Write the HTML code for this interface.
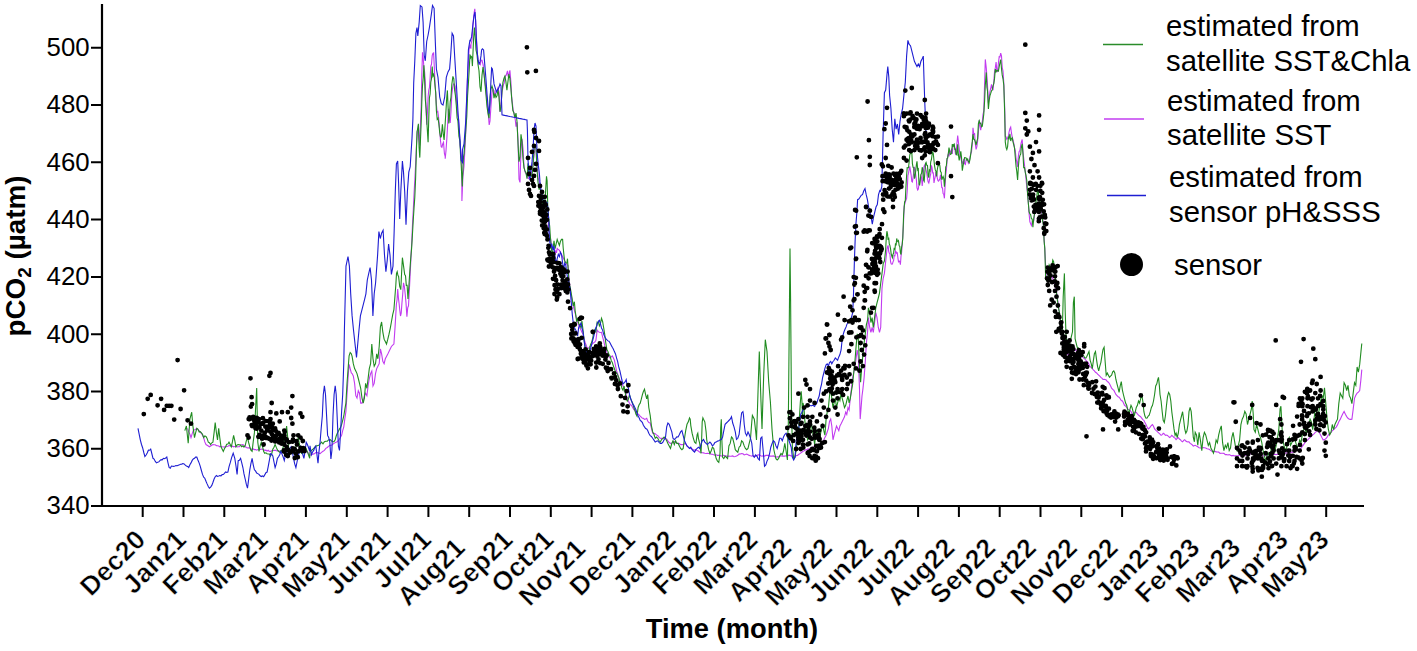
<!DOCTYPE html>
<html><head><meta charset="utf-8"><style>
html,body{margin:0;padding:0;background:#fff;width:1417px;height:651px;overflow:hidden}
svg{display:block}
text{font-family:"Liberation Sans",sans-serif;fill:#000}
.yl{font-size:25.8px}
.xl{font-size:26.5px;font-weight:bold;letter-spacing:0.3px;stroke:#fff;stroke-width:0.45px}
.tt{font-size:27.3px;font-weight:bold}
.yt{font-size:27.8px;font-weight:bold}
.lg{font-size:29.3px}
</style></head><body>
<svg width="1417" height="651" viewBox="0 0 1417 651">
<path d="M102 4 V507 M91 506 H1364" stroke="#000" stroke-width="2.2" fill="none"/>
<text x="89.6" y="514.4" text-anchor="end" class="yl">340</text>
<text x="89.6" y="457.1" text-anchor="end" class="yl">360</text>
<text x="89.6" y="399.8" text-anchor="end" class="yl">380</text>
<text x="89.6" y="342.6" text-anchor="end" class="yl">400</text>
<text x="89.6" y="285.3" text-anchor="end" class="yl">420</text>
<text x="89.6" y="228.0" text-anchor="end" class="yl">440</text>
<text x="89.6" y="170.7" text-anchor="end" class="yl">460</text>
<text x="89.6" y="113.4" text-anchor="end" class="yl">480</text>
<text x="89.6" y="56.2" text-anchor="end" class="yl">500</text>
<path d="M91 506.0 H102 M91 448.7 H102 M91 391.4 H102 M91 334.2 H102 M91 276.9 H102 M91 219.6 H102 M91 162.3 H102 M91 105.0 H102 M91 47.8 H102" stroke="#000" stroke-width="2" fill="none"/>
<text transform="translate(147.2,541) rotate(-45)" text-anchor="end" class="xl">Dec20</text>
<text transform="translate(188.0,541) rotate(-45)" text-anchor="end" class="xl">Jan21</text>
<text transform="translate(228.8,541) rotate(-45)" text-anchor="end" class="xl">Feb21</text>
<text transform="translate(269.6,541) rotate(-45)" text-anchor="end" class="xl">Mar21</text>
<text transform="translate(310.4,541) rotate(-45)" text-anchor="end" class="xl">Apr21</text>
<text transform="translate(351.2,541) rotate(-45)" text-anchor="end" class="xl">May21</text>
<text transform="translate(392.1,541) rotate(-45)" text-anchor="end" class="xl">Jun21</text>
<text transform="translate(432.9,541) rotate(-45)" text-anchor="end" class="xl">Jul21</text>
<text transform="translate(466.7,549) rotate(-45)" text-anchor="end" class="xl">Aug21</text>
<text transform="translate(514.5,541) rotate(-45)" text-anchor="end" class="xl">Sep21</text>
<text transform="translate(555.3,541) rotate(-45)" text-anchor="end" class="xl">Oct21</text>
<text transform="translate(587.1,550) rotate(-45)" text-anchor="end" class="xl">Nov21</text>
<text transform="translate(636.9,541) rotate(-45)" text-anchor="end" class="xl">Dec21</text>
<text transform="translate(677.7,541) rotate(-45)" text-anchor="end" class="xl">Jan22</text>
<text transform="translate(718.5,541) rotate(-45)" text-anchor="end" class="xl">Feb22</text>
<text transform="translate(759.4,541) rotate(-45)" text-anchor="end" class="xl">Mar22</text>
<text transform="translate(793.2,549) rotate(-45)" text-anchor="end" class="xl">Apr22</text>
<text transform="translate(834.0,549) rotate(-45)" text-anchor="end" class="xl">May22</text>
<text transform="translate(874.8,549) rotate(-45)" text-anchor="end" class="xl">Jun22</text>
<text transform="translate(915.6,549) rotate(-45)" text-anchor="end" class="xl">Jul22</text>
<text transform="translate(956.4,549) rotate(-45)" text-anchor="end" class="xl">Aug22</text>
<text transform="translate(997.2,549) rotate(-45)" text-anchor="end" class="xl">Sep22</text>
<text transform="translate(1038.0,549) rotate(-45)" text-anchor="end" class="xl">Oct22</text>
<text transform="translate(1078.8,549) rotate(-45)" text-anchor="end" class="xl">Nov22</text>
<text transform="translate(1119.6,549) rotate(-45)" text-anchor="end" class="xl">Dec22</text>
<text transform="translate(1160.5,549) rotate(-45)" text-anchor="end" class="xl">Jan23</text>
<text transform="translate(1201.3,549) rotate(-45)" text-anchor="end" class="xl">Feb23</text>
<text transform="translate(1242.1,549) rotate(-45)" text-anchor="end" class="xl">Mar23</text>
<text transform="translate(1289.9,541) rotate(-45)" text-anchor="end" class="xl">Apr23</text>
<text transform="translate(1330.7,541) rotate(-45)" text-anchor="end" class="xl">May23</text>
<path d="M142.7 506 V517 M183.5 506 V517 M224.3 506 V517 M265.1 506 V517 M305.9 506 V517 M346.8 506 V517 M387.6 506 V517 M428.4 506 V517 M469.2 506 V517 M510.0 506 V517 M550.8 506 V517 M591.6 506 V517 M632.4 506 V517 M673.2 506 V517 M714.0 506 V517 M754.9 506 V517 M795.7 506 V517 M836.5 506 V517 M877.3 506 V517 M918.1 506 V517 M958.9 506 V517 M999.7 506 V517 M1040.5 506 V517 M1081.3 506 V517 M1122.1 506 V517 M1163.0 506 V517 M1203.8 506 V517 M1244.6 506 V517 M1285.4 506 V517 M1326.2 506 V517" stroke="#000" stroke-width="2" fill="none"/>
<text x="732" y="637.6" text-anchor="middle" class="tt">Time (month)</text>
<text transform="translate(25,256) rotate(-90)" text-anchor="middle" class="yt">pCO<tspan font-size="19" dy="6">2</tspan><tspan dy="-6"> (µatm)</tspan></text>
<path d="M1103 44.5 H1143" stroke="#2a8c2a" stroke-width="1.3"/>
<path d="M1104 119 H1144" stroke="#c23cf0" stroke-width="1.3"/>
<path d="M1107 195.5 H1146" stroke="#1e1ed2" stroke-width="1.3"/>
<circle cx="1131.5" cy="264.5" r="11.5" fill="#000"/>
<text x="1166" y="36.4" class="lg">estimated from</text>
<text x="1166" y="71.3" class="lg">satellite SST&amp;Chla</text>
<text x="1167" y="110.6" class="lg">estimated from</text>
<text x="1167" y="145" class="lg">satellite SST</text>
<text x="1169" y="186.9" class="lg">estimated from</text>
<text x="1169" y="221.5" class="lg">sensor pH&amp;SSS</text>
<text x="1174" y="274.6" class="lg">sensor</text>
<polyline points="187.6,428.3 188.7,431.9 189.9,434.1 191.0,437.6 192.2,433.6 193.3,430.6 194.5,429.8 195.6,429.5 196.8,428.3 197.9,429.6 199.1,430.6 200.2,432.4 201.4,433.2 202.5,435.3 203.7,437.8 204.8,441.9 206.0,444.5 207.1,445.2 208.3,446.0 209.4,446.8 210.6,446.0 211.8,445.2 212.9,444.5 214.1,444.7 215.2,444.8 216.4,445.6 217.5,445.7 218.7,446.1 219.8,446.8 221.0,446.3 222.1,446.7 223.3,447.0 224.4,446.8 225.6,447.0 226.7,446.5 227.9,446.3 229.0,445.6 230.2,445.7 231.3,446.4 232.5,446.1 233.6,446.8 234.8,446.5 235.9,446.5 237.1,446.9 238.2,446.8 239.4,446.8 240.6,445.1 241.7,444.7 242.9,444.5 244.0,445.3 245.2,446.5 246.3,447.5 247.5,447.9 248.6,447.9 249.8,447.9 250.9,449.3 252.1,449.1 253.2,448.9 254.4,449.6 255.5,449.6 256.7,450.2 257.8,449.5 259.0,449.9 260.1,449.4 261.3,449.1 262.4,449.2 263.6,449.5 264.7,450.4 265.9,450.2 267.1,451.0 268.2,450.3 269.4,451.5 270.5,451.4 271.7,450.7 272.8,450.5 274.0,450.5 275.1,450.2 276.3,450.7 277.4,450.9 278.6,450.6 279.7,451.4 280.9,451.7 282.0,451.1 283.2,450.7 284.3,450.2 285.5,451.1 286.6,451.4 287.8,451.2 288.9,451.4 290.1,451.3 291.2,451.5 292.4,451.7 293.5,451.4 294.7,450.5 295.9,451.0 297.0,450.5 298.2,450.2 299.3,450.6 300.5,450.4 301.6,450.5 302.8,451.4 303.9,451.4 305.1,451.1 306.2,451.8 307.4,451.4 308.7,453.8 310.0,455.1 311.5,454.7 312.9,454.1 314.4,453.8 315.8,452.6 317.2,452.6 318.7,453.1 320.1,453.7 321.5,452.4 323.0,451.3 324.4,450.4 325.8,448.4 327.3,447.5 328.7,446.1 330.1,445.4 331.6,445.3 333.0,444.0 334.4,443.1 335.9,442.2 337.3,441.8 338.7,440.2 340.2,437.8 341.6,435.4 342.7,430.6 343.8,426.8 344.8,419.0 345.9,411.7 347.0,394.5 348.1,377.3 349.1,364.4 350.2,368.7 351.3,373.0 352.1,373.6 353.3,376.0 354.6,383.4 355.8,395.7 357.0,398.1 358.3,390.8 359.5,393.2 360.7,403.1 362.0,403.1 363.2,400.6 364.4,395.7 365.6,393.2 366.9,395.7 368.1,385.9 369.3,378.5 370.6,373.6 371.8,371.1 373.0,385.9 374.2,383.4 375.5,373.6 376.7,368.6 377.9,366.2 379.2,363.7 380.4,349.0 381.6,353.9 382.8,361.3 384.1,363.7 385.3,358.8 386.5,356.4 387.8,353.9 389.0,351.4 390.2,349.0 391.4,346.5 392.7,345.1 393.9,344.1 395.1,326.4 396.4,304.0 397.1,299.5 397.7,289.1 398.4,297.7 399.1,303.5 399.8,310.2 400.5,316.0 401.2,313.2 401.9,303.6 402.7,294.3 403.5,282.8 404.4,286.8 405.2,294.0 406.0,302.9 406.9,316.6 407.7,307.9 408.5,305.8 409.4,289.2 410.2,273.6 411.0,256.6 411.8,241.2 412.5,224.4 413.3,209.7 414.1,192.9 414.9,179.0 415.7,162.5 416.5,144.9 417.4,132.3 418.4,125.4 419.1,137.5 419.8,145.5 420.5,122.2 421.2,106.5 421.8,75.3 422.5,52.2 423.2,57.7 423.9,68.1 424.6,71.9 425.3,82.4 426.0,106.1 426.7,124.8 427.4,113.1 428.1,96.9 428.8,89.8 429.4,87.7 430.1,78.3 430.8,66.2 431.5,64.3 432.2,55.6 432.9,53.4 433.6,53.0 434.3,66.9 435.0,82.3 435.7,92.6 436.4,104.6 437.1,112.0 437.8,111.5 438.6,117.6 439.5,127.9 440.5,140.7 441.2,146.7 441.9,147.3 442.7,144.0 443.5,142.3 444.4,153.5 445.2,156.6 445.2,158.7 446.0,150.6 446.9,137.7 447.7,123.5 448.5,108.8 449.4,119.3 450.2,122.9 451.0,111.6 451.8,94.8 452.7,87.4 453.5,83.9 454.3,84.1 455.2,86.5 456.0,94.2 456.8,104.0 457.6,115.4 458.5,117.7 459.3,130.3 460.1,145.3 461.0,152.6 461.8,159.6 461.9,200.9 462.9,176.8 464.0,166.2 464.8,150.9 465.7,133.3 466.5,104.6 467.3,81.4 468.2,67.5 469.0,49.8 470.0,44.7 470.9,48.7 471.0,44.4 472.0,40.0 473.0,24.0 474.0,13.7 474.8,8.9 475.6,20.9 476.4,36.8 477.2,52.2 478.4,61.8 479.6,64.2 480.3,64.7 481.0,60.2 482.0,60.3 483.2,65.1 484.4,77.1 485.6,86.8 486.8,98.6 488.0,110.5 489.2,124.9 490.0,120.9 491.0,105.5 492.0,92.4 493.0,89.2 494.0,90.7 495.0,96.4 496.0,91.8 497.0,90.2 498.0,87.6 499.0,92.4 500.0,111.8 501.0,104.4 502.0,92.2 502.7,88.5 503.5,84.6 504.2,83.1 504.9,77.2 505.6,75.8 506.3,75.0 507.5,70.8 508.2,76.7 508.9,74.5 509.9,70.3 510.9,82.1 511.6,96.4 512.3,102.1 513.1,110.2 513.9,112.7 514.6,116.7 515.3,119.9 516.0,126.7 517.0,122.2 518.0,140.5 519.0,179.1 520.0,182.4 521.0,149.9 522.0,138.8 523.0,148.6 524.0,167.1 525.0,171.7 526.0,173.8 527.0,173.9 528.0,178.1 529.0,178.8 530.0,172.0 531.0,174.5 532.0,170.5 533.0,163.2 534.0,155.8 535.0,144.2 536.0,148.0 537.0,159.9 538.0,177.3 539.0,180.9 540.0,188.0 541.0,192.6 542.0,200.2 542.9,204.4 543.9,206.6 544.9,210.0 545.9,211.7 546.9,213.7 547.9,217.2 548.6,226.3 549.3,232.5 550.0,235.5 550.8,239.8 551.8,253.8 552.9,256.7 553.6,253.6 554.3,258.0 555.1,252.7 555.8,250.9 556.5,252.9 557.2,248.5 557.9,249.2 558.6,249.7 559.4,250.4 560.1,251.6 560.8,252.9 561.5,254.4 562.6,256.9 563.7,258.7 564.7,260.8 565.8,263.0 566.9,264.4 568.0,265.2 569.0,278.1 570.1,288.8 571.2,295.3 572.3,301.7 573.3,306.1 574.4,310.3 575.5,314.4 576.6,318.9 577.6,321.9 578.7,325.4 579.8,327.9 580.9,329.7 581.9,332.2 583.0,334.0 584.1,338.9 585.2,342.6 586.2,345.2 587.3,349.0 588.4,348.4 589.5,346.9 590.5,346.1 591.6,344.7 592.7,343.6 593.8,342.6 594.8,342.0 595.9,340.4 597.2,330.1 598.3,331.6 599.4,332.3 600.4,332.5 601.5,332.3 602.6,336.8 603.7,340.9 604.7,345.4 605.8,349.5 606.9,352.2 608.0,353.8 609.0,356.0 610.1,358.1 611.2,356.9 612.3,355.9 613.3,357.8 614.4,360.2 615.5,365.6 616.6,371.0 617.6,373.7 618.7,377.4 619.8,379.8 620.9,381.7 621.9,383.6 623.0,386.0 624.1,388.4 625.2,390.3 626.2,394.9 627.3,398.9 628.4,400.9 629.5,403.2 630.5,404.8 631.6,405.4 632.7,407.4 633.8,409.7 634.8,410.3 635.9,411.8 637.0,413.5 638.1,414.0 639.1,414.8 640.2,416.1 641.3,417.1 642.4,418.3 643.4,418.3 644.5,419.4 645.6,418.9 646.7,418.3 647.7,421.0 648.8,422.6 650.2,423.0 651.4,428.0 652.7,433.2 654.0,433.4 655.2,433.8 656.5,434.9 657.8,435.7 659.1,437.3 660.3,438.3 661.6,438.4 662.9,438.3 664.1,438.6 665.4,438.3 666.7,439.1 667.9,440.8 669.2,442.5 670.5,443.4 671.8,443.3 673.0,442.1 674.3,441.5 675.6,442.1 676.8,442.9 678.1,443.4 679.4,443.5 680.6,444.6 681.9,444.6 683.2,444.6 684.5,443.8 685.7,443.4 687.0,445.9 688.3,447.2 689.5,448.2 690.8,448.4 692.1,448.9 693.4,449.7 694.6,450.1 695.9,449.7 697.2,450.6 698.4,451.0 699.7,452.2 701.0,452.2 702.2,452.8 703.5,452.9 704.8,453.3 706.1,453.5 707.3,453.2 708.6,453.5 709.9,453.5 711.1,454.1 712.4,454.3 713.7,454.8 714.9,455.1 716.2,454.8 717.5,455.4 718.8,455.4 720.0,455.5 721.3,456.1 722.6,455.3 723.8,455.4 725.1,455.9 726.4,456.1 727.6,456.4 728.9,456.1 730.2,456.2 731.5,456.1 732.7,455.9 734.0,456.7 735.3,456.5 736.5,456.1 737.8,455.2 739.1,454.1 740.4,453.9 741.6,453.5 742.9,453.8 744.2,454.8 745.4,454.5 746.7,454.1 748.0,454.7 749.2,455.4 750.5,455.8 751.8,456.1 753.1,455.6 754.3,456.1 755.6,456.3 756.9,455.4 758.1,454.9 759.4,454.8 760.7,455.7 761.9,456.1 763.2,455.9 764.5,456.1 765.8,455.4 767.0,455.4 768.3,455.3 769.6,456.1 770.8,456.0 772.1,456.1 773.4,455.9 774.7,456.7 775.9,457.0 777.2,456.7 778.5,457.0 779.7,456.1 781.0,455.8 782.3,456.1 783.5,456.1 784.8,456.1 786.1,455.8 787.4,456.1 788.6,455.2 789.9,455.4 791.2,455.9 792.4,456.1 793.7,456.3 795.0,456.1 796.2,455.6 797.5,455.4 798.9,454.3 800.3,453.4 801.7,452.3 803.0,451.3 804.2,450.7 805.3,449.9 806.5,449.9 807.6,449.0 808.8,449.1 810.0,448.5 811.1,447.6 812.3,447.9 813.4,446.9 814.6,446.6 815.7,445.7 816.9,445.6 818.0,445.0 819.2,445.4 820.3,444.2 821.5,444.4 822.6,441.9 823.8,439.8 824.9,437.4 826.1,435.2 827.2,432.0 828.4,428.3 829.5,421.4 830.7,419.1 831.8,426.0 833.0,439.8 834.1,435.2 835.3,430.6 836.5,426.0 837.6,428.3 838.8,430.6 839.9,426.0 841.1,423.7 842.2,421.4 843.4,419.1 844.5,416.8 845.7,412.2 846.8,414.5 848.0,407.6 849.1,409.9 850.3,398.3 851.4,389.1 852.6,377.6 853.7,373.0 854.9,366.6 856.0,359.2 857.2,350.0 858.3,356.9 859.5,389.1 860.2,419.1 861.1,407.6 862.0,396.0 862.9,389.1 864.1,377.6 865.3,361.5 866.4,343.0 867.6,331.5 868.4,317.6 869.7,327.5 870.9,332.4 872.1,327.5 873.3,332.4 874.6,322.5 875.8,312.7 877.0,317.6 878.3,327.5 879.5,332.4 880.7,327.5 882.0,288.1 883.2,278.3 884.4,273.4 885.6,262.1 886.3,256.0 886.9,249.4 887.5,246.9 888.1,245.4 888.7,251.3 889.3,253.3 889.9,254.0 890.6,261.8 891.2,263.8 891.8,264.2 892.4,264.1 893.0,261.9 893.6,260.5 894.2,255.5 894.9,255.7 895.5,251.1 896.1,251.8 896.7,253.3 897.3,252.9 897.9,257.7 898.5,261.8 899.2,261.0 899.8,261.8 900.4,264.7 901.0,256.4 901.6,252.4 902.2,244.3 902.8,235.6 903.5,223.6 904.1,206.5 904.9,203.4 905.7,200.9 906.6,198.5 907.2,191.5 907.9,175.4 908.5,173.4 909.2,168.8 909.8,166.4 910.5,171.1 911.1,174.8 911.8,181.4 912.4,181.9 913.1,177.2 913.7,173.0 914.4,166.9 915.0,168.9 915.7,174.5 916.4,180.1 917.0,188.0 917.7,190.0 918.3,189.0 919.0,183.9 919.6,183.1 920.3,177.8 920.9,175.6 921.6,178.4 922.2,185.9 922.9,179.9 923.5,169.3 924.2,166.0 924.8,165.0 925.5,167.7 926.1,170.5 926.8,173.4 927.5,178.4 928.1,181.8 928.8,183.0 929.4,180.3 930.1,176.4 930.7,173.9 931.4,165.4 932.0,167.6 932.7,172.9 933.3,172.8 934.0,183.0 934.6,179.3 935.3,176.5 935.9,172.3 936.6,172.2 937.2,177.6 937.9,180.4 938.5,181.1 939.2,180.3 939.9,178.4 940.5,174.9 941.2,181.9 941.8,187.6 942.5,187.9 943.1,193.6 943.8,194.3 944.4,198.3 945.1,185.6 945.7,175.2 946.4,169.6 947.0,161.2 947.7,156.1 948.3,153.5 949.0,156.5 949.6,152.0 950.3,152.5 951.0,150.6 951.6,149.5 952.3,153.9 952.9,146.4 953.6,146.3 954.2,144.4 954.9,149.5 955.5,154.1 956.1,153.4 956.9,143.8 957.7,135.6 958.4,141.8 959.2,148.8 960.0,154.6 960.8,157.7 961.5,161.0 962.3,163.4 963.1,161.8 963.8,159.0 964.6,163.7 965.4,164.4 966.1,159.7 966.9,159.7 967.7,160.8 968.4,163.1 969.2,161.3 970.0,157.0 970.7,153.9 971.5,151.8 972.3,143.9 973.0,127.7 973.8,134.4 974.6,133.8 975.3,143.6 976.1,149.3 976.9,146.4 977.6,141.3 978.4,132.7 979.2,120.2 980.0,125.7 980.7,130.1 981.5,125.4 982.3,121.7 983.0,114.7 983.8,110.9 984.6,83.4 985.3,59.4 986.3,68.3 986.9,76.7 987.5,85.4 988.4,103.3 989.2,97.2 989.9,91.9 990.7,88.5 991.5,84.3 992.2,88.2 993.0,90.1 993.8,81.8 994.5,72.0 995.3,67.9 996.1,62.0 996.9,71.5 997.6,71.6 998.4,63.4 999.2,56.8 999.9,57.0 1000.7,53.2 1001.5,56.0 1002.2,67.3 1003.0,71.1 1003.8,83.0 1004.7,107.8 1005.3,136.2 1006.1,137.1 1006.8,139.3 1007.6,138.2 1008.4,136.1 1009.1,131.8 1009.9,128.8 1010.7,127.1 1011.4,132.7 1012.2,136.8 1013.0,139.9 1013.7,143.1 1014.5,147.7 1015.3,150.5 1016.1,159.0 1016.8,161.9 1017.6,166.8 1018.4,156.1 1019.1,151.7 1019.9,150.5 1020.7,145.2 1021.4,141.9 1022.2,139.5 1023.0,152.3 1023.7,158.4 1024.5,165.3 1025.3,171.6 1026.0,178.4 1026.8,187.8 1027.6,193.1 1028.3,201.7 1029.1,213.8 1029.9,221.8 1030.6,223.6 1031.4,225.5 1032.2,222.0 1032.9,222.2 1033.7,221.0 1034.5,215.0 1035.3,211.3 1036.1,209.3 1036.8,204.6 1037.5,204.4 1038.2,206.1 1039.0,204.6 1039.7,205.1 1040.4,205.4 1041.2,208.8 1041.9,215.3 1042.6,218.2 1043.3,224.0 1044.1,238.6 1044.8,249.7 1045.5,263.5 1046.3,276.7 1047.0,280.6 1047.7,280.4 1048.5,278.0 1049.2,274.3 1049.9,277.6 1050.6,278.0 1051.4,275.0 1052.1,276.1 1052.8,278.7 1053.6,281.0 1054.3,282.1 1055.0,285.3 1055.8,289.8 1056.5,290.7 1057.2,298.0 1057.9,301.3 1058.7,308.7 1059.4,312.0 1060.1,318.8 1060.9,325.9 1062.3,337.6 1063.8,346.4 1065.2,349.3 1066.7,352.2 1068.2,355.1 1069.6,352.2 1071.1,346.4 1072.9,351.5 1074.0,350.6 1075.1,349.4 1076.1,350.9 1077.2,351.5 1078.3,352.0 1079.4,353.7 1080.4,355.1 1081.5,355.8 1082.6,357.1 1083.7,358.0 1084.7,358.9 1085.8,360.1 1086.9,361.5 1088.0,362.3 1089.0,364.4 1090.1,366.6 1091.2,367.4 1092.3,368.7 1093.3,369.9 1094.4,370.9 1095.5,372.3 1096.6,373.0 1097.6,374.2 1098.7,375.2 1099.8,376.2 1100.9,377.3 1101.9,378.2 1103.0,379.5 1104.1,379.3 1105.2,379.5 1106.2,380.0 1107.3,381.6 1108.4,382.2 1109.5,383.8 1110.5,385.7 1111.6,388.1 1112.7,389.4 1113.8,390.2 1114.8,392.3 1115.9,394.5 1117.0,395.6 1118.1,396.7 1119.1,397.2 1120.2,398.8 1121.3,400.5 1122.4,401.0 1123.4,402.7 1124.5,405.3 1125.6,406.1 1126.7,407.4 1127.7,409.0 1128.8,409.6 1129.9,410.4 1131.0,411.7 1132.0,413.3 1133.1,413.9 1134.2,413.1 1135.3,411.7 1136.3,412.5 1137.4,413.9 1138.5,415.2 1139.6,416.0 1140.6,416.7 1141.7,418.2 1142.8,419.7 1143.9,420.3 1144.9,422.6 1146.0,424.6 1147.1,427.0 1148.2,428.9 1149.2,428.3 1150.3,426.8 1151.4,425.5 1152.5,424.6 1153.5,426.3 1154.6,428.9 1155.7,430.2 1156.8,431.1 1157.8,432.1 1158.9,433.2 1160.0,434.2 1161.1,435.4 1162.2,434.7 1163.2,433.2 1164.3,434.0 1165.4,435.4 1166.5,435.0 1167.5,435.4 1168.6,436.6 1169.7,437.5 1170.8,436.6 1171.8,435.4 1172.9,436.4 1174.0,437.5 1175.1,438.1 1176.1,439.7 1177.2,438.5 1178.3,437.5 1179.4,439.0 1180.4,439.7 1181.5,441.1 1182.6,441.8 1183.7,440.4 1184.7,439.7 1185.8,441.0 1186.9,441.8 1188.0,441.9 1189.0,441.8 1190.1,443.4 1191.2,444.0 1192.3,444.9 1193.3,446.1 1195.2,445.3 1196.5,446.1 1197.8,446.7 1199.1,447.7 1200.4,448.0 1201.8,448.1 1203.1,447.6 1204.4,447.8 1205.7,448.0 1207.0,448.7 1208.3,449.0 1209.6,449.5 1210.9,450.6 1212.2,451.4 1213.5,451.6 1214.8,451.2 1216.1,451.9 1217.4,452.0 1218.7,452.1 1220.0,453.4 1221.3,453.2 1222.6,453.3 1223.9,453.4 1225.3,454.6 1226.6,454.5 1227.9,455.0 1229.2,454.6 1230.5,455.2 1231.8,455.8 1233.1,455.4 1234.4,455.9 1235.7,455.9 1237.0,455.8 1238.3,455.8 1239.6,455.3 1240.9,456.0 1242.2,455.8 1243.5,455.1 1244.8,455.3 1246.1,455.2 1247.5,454.5 1248.8,454.4 1250.1,454.0 1251.4,453.1 1252.7,453.2 1254.0,453.7 1255.3,453.5 1256.6,454.7 1257.9,454.5 1259.2,455.3 1260.5,454.7 1261.8,455.6 1263.1,455.8 1264.4,456.3 1265.7,455.5 1267.0,455.2 1268.3,455.8 1269.6,455.6 1271.0,455.4 1272.3,455.3 1273.6,454.5 1274.9,454.2 1276.2,454.5 1277.5,454.4 1278.8,454.5 1280.1,453.9 1281.4,453.4 1282.7,454.0 1284.0,453.2 1285.3,453.3 1286.6,452.8 1287.9,453.1 1289.2,453.2 1290.5,452.7 1291.8,452.0 1293.1,452.1 1294.5,451.9 1295.8,450.8 1297.1,450.2 1298.4,450.4 1299.7,449.3 1301.0,448.1 1302.3,446.4 1303.6,444.7 1304.9,442.7 1306.2,441.2 1307.5,440.1 1308.8,438.6 1310.1,437.5 1311.4,436.4 1312.7,434.9 1314.0,433.8 1315.3,432.3 1316.7,431.4 1318.0,429.7 1319.3,432.6 1320.6,434.9 1321.9,437.6 1323.2,440.1 1324.5,439.6 1325.8,438.8 1327.1,437.2 1328.4,434.9 1329.7,433.5 1331.0,432.3 1332.3,430.7 1333.6,429.7 1334.9,428.4 1336.2,427.1 1337.5,424.9 1338.8,421.8 1340.2,419.4 1341.5,416.6 1342.8,413.7 1344.1,411.4 1345.4,414.2 1346.7,416.6 1348.0,418.3 1349.3,419.2 1350.6,419.4 1351.9,419.2 1353.2,409.1 1354.5,398.3 1355.8,395.2 1357.1,393.1 1358.4,392.1 1359.7,390.5 1360.8,380.6 1361.8,369.6" fill="none" stroke="#c23cf0" stroke-width="1.1" stroke-linejoin="miter"/>
<polyline points="184.8,430.6 186.4,426.0 188.2,443.3 189.9,419.1 191.7,412.2 192.9,426.0 194.5,437.6 195.6,432.9 196.8,428.3 197.9,429.1 199.1,431.8 200.2,431.6 201.4,432.9 202.5,434.2 203.7,437.6 204.8,435.9 206.0,436.4 207.1,438.4 208.3,442.2 209.4,442.7 210.6,444.5 211.8,442.8 212.9,442.2 214.1,432.6 215.2,422.6 216.4,432.5 217.5,439.9 218.7,428.3 219.8,437.7 221.0,446.8 222.1,449.0 223.3,451.4 224.4,448.8 225.6,446.8 226.7,444.2 227.9,444.1 229.0,442.2 230.2,444.4 231.3,446.8 232.5,441.4 233.6,435.3 234.8,440.7 235.9,446.8 237.1,444.9 238.2,444.5 239.4,444.8 240.6,445.1 241.7,446.8 242.9,445.8 244.0,447.2 245.2,445.6 246.3,440.8 247.5,437.6 248.6,442.4 249.8,446.8 250.9,450.2 252.1,451.4 253.2,441.9 254.4,432.9 255.5,410.0 256.7,388.0 257.8,442.2 259.0,451.4 260.1,445.8 261.3,442.2 262.4,445.8 263.6,451.4 264.7,453.3 265.9,452.8 267.1,453.7 268.2,454.0 269.4,454.0 270.5,456.0 271.7,453.7 272.8,449.3 274.0,447.3 275.1,444.5 276.3,447.4 277.4,449.9 278.6,451.4 279.7,452.3 280.9,450.8 282.0,451.4 283.2,447.0 284.3,444.5 285.5,434.3 286.6,426.0 287.8,438.2 288.9,451.4 290.1,451.7 291.2,452.1 292.4,453.7 293.5,451.6 294.7,451.4 295.9,446.6 297.0,442.0 298.2,437.6 299.3,443.5 300.5,451.4 301.6,453.4 302.8,453.7 303.9,451.1 305.1,450.3 306.2,449.1 307.4,451.9 308.5,454.9 309.7,458.3 310.0,452.0 311.5,450.4 312.9,449.3 314.4,447.6 315.8,446.1 317.2,445.7 318.7,445.3 320.1,444.0 321.5,442.2 323.0,443.8 324.4,441.8 325.8,441.2 327.3,441.1 328.7,439.7 330.1,439.6 331.6,441.0 333.0,441.8 334.1,441.5 335.2,439.7 336.2,436.0 337.3,433.2 338.4,431.2 339.5,428.9 340.5,427.7 341.6,424.6 342.7,420.4 343.8,416.0 344.8,409.6 345.9,403.1 347.0,383.8 348.1,368.7 349.1,355.8 350.2,352.6 351.3,353.7 352.1,356.4 353.3,363.7 354.6,368.6 355.8,371.1 357.0,373.6 358.3,378.5 359.5,383.4 360.7,388.3 362.0,398.1 363.2,403.1 364.4,398.1 365.6,383.4 366.9,388.3 368.1,378.5 369.3,368.6 370.6,363.7 371.8,344.1 373.0,358.8 374.2,366.2 375.5,363.7 376.7,353.9 377.9,358.8 379.2,346.5 380.4,326.9 381.6,322.0 382.8,331.8 384.1,339.2 385.3,341.6 386.5,344.1 387.8,339.2 389.0,334.2 390.2,328.6 391.4,322.0 392.7,314.6 393.9,309.7 395.8,285.2 396.5,273.4 397.2,271.7 397.9,275.4 398.6,276.5 399.7,286.3 400.8,289.6 401.6,272.8 402.4,257.7 403.5,265.6 404.7,274.5 405.5,275.8 406.3,285.4 407.1,285.4 408.0,299.0 409.1,282.4 409.9,270.0 410.7,258.8 411.6,248.4 412.4,235.2 413.2,221.0 414.0,208.5 414.8,197.2 415.6,178.4 416.3,154.1 417.0,131.5 417.7,129.0 418.4,123.8 419.1,147.4 419.8,157.6 420.5,139.3 421.2,122.3 421.8,102.1 422.5,85.6 423.2,78.2 423.9,65.2 424.6,79.4 425.3,99.3 426.1,108.9 427.0,124.6 428.1,142.3 428.8,117.4 429.4,98.0 430.1,94.0 430.8,82.1 431.5,78.8 432.2,66.6 432.9,76.0 433.6,74.5 434.3,77.4 435.0,85.7 435.7,92.7 436.4,110.7 437.2,119.3 438.0,118.2 438.8,123.4 439.7,132.5 440.5,137.1 441.3,136.8 442.4,124.3 443.3,134.1 444.1,140.0 445.1,124.7 446.0,110.1 446.7,98.3 447.4,90.4 448.1,107.5 448.8,123.4 449.5,114.9 450.2,102.1 451.0,97.1 451.8,84.5 452.9,76.4 453.8,78.9 454.6,89.9 455.4,95.4 456.3,105.5 457.1,118.0 457.9,120.8 458.9,136.1 459.9,141.0 460.6,156.5 461.2,165.2 462.3,186.5 462.4,181.0 463.5,156.9 464.1,153.6 464.8,143.2 465.8,130.0 466.8,115.9 467.6,95.1 468.4,83.3 469.2,69.9 470.0,54.4 470.1,59.1 471.0,56.3 471.8,57.1 472.4,66.1 473.6,38.6 474.4,27.5 475.2,37.0 476.0,50.0 477.0,54.7 478.0,64.5 479.0,70.7 480.0,86.6 481.0,91.8 482.0,75.4 483.0,67.1 484.0,73.8 485.0,84.0 486.0,95.0 487.0,106.8 488.0,113.3 489.0,118.1 490.0,97.0 491.0,88.8 492.0,86.0 493.0,89.4 494.0,98.2 495.0,93.5 496.0,97.4 497.0,95.7 498.0,89.6 499.0,97.1 500.0,111.8 501.0,107.0 502.0,91.5 502.9,82.6 503.9,78.5 504.9,76.1 505.9,81.6 506.9,90.2 507.9,82.0 508.9,74.1 509.9,78.4 510.9,88.6 511.9,101.0 512.9,110.5 513.9,112.8 514.9,117.7 516.0,113.1 517.0,121.5 518.0,143.2 519.0,161.7 520.0,157.0 521.0,134.3 522.0,141.9 523.0,158.5 524.0,167.6 525.0,170.9 526.0,172.9 527.0,178.6 528.0,163.3 529.0,176.9 530.0,169.5 531.0,176.4 532.0,175.6 533.0,166.8 534.0,148.7 535.0,144.2 536.0,148.8 537.0,169.8 538.0,182.3 539.0,189.1 540.0,188.7 541.0,191.3 542.0,198.4 542.9,205.9 543.9,211.2 544.9,202.0 545.9,186.0 546.5,176.2 547.1,180.8 547.9,211.5 548.9,219.7 549.7,226.4 550.3,236.4 551.2,246.1 552.0,254.8 552.9,250.4 554.0,240.7 555.1,248.7 556.1,244.2 557.2,239.4 558.3,242.6 559.4,245.5 560.4,241.5 561.5,239.4 562.6,239.4 563.2,248.0 564.1,256.6 564.7,260.9 565.8,263.0 566.9,263.0 567.5,258.7 568.4,273.8 569.2,284.5 570.1,286.7 571.2,293.1 572.3,299.6 573.3,306.0 574.4,301.7 575.1,310.3 575.7,314.6 576.6,321.1 577.6,318.9 578.7,323.2 579.8,325.4 580.9,327.5 581.9,321.1 583.0,329.7 584.1,340.4 585.2,346.9 586.2,351.2 587.3,349.0 588.4,353.3 589.5,349.0 590.5,344.7 591.6,342.6 592.7,338.3 593.8,331.8 594.8,329.7 595.9,331.8 597.0,323.2 597.2,323.7 598.3,321.5 599.4,325.8 600.4,323.7 601.5,318.3 602.6,321.5 603.7,328.0 604.7,334.4 605.8,343.0 606.9,349.5 608.0,351.6 609.0,354.6 610.1,355.9 611.2,360.4 612.3,362.4 613.3,365.8 614.4,368.8 615.5,371.7 616.6,373.1 617.6,374.9 618.7,377.4 619.8,381.7 620.9,383.9 621.9,388.3 623.0,390.3 624.1,386.0 625.2,392.5 626.2,398.9 627.3,401.1 628.4,399.1 629.5,394.6 630.5,398.2 631.6,401.1 632.7,403.2 633.8,407.5 634.8,410.0 635.9,414.0 637.0,416.1 638.1,407.5 639.1,404.7 640.2,403.2 641.3,399.2 642.4,394.6 643.4,391.5 644.5,389.2 645.6,394.6 646.7,398.9 647.7,394.6 648.8,407.5 650.2,415.4 651.4,425.6 652.7,431.9 654.0,434.5 655.2,438.3 656.5,437.0 657.8,438.3 659.1,440.8 660.3,442.1 661.6,439.5 662.9,438.3 664.1,437.0 665.4,438.3 666.7,440.8 667.9,443.4 669.2,445.9 670.5,448.4 671.8,443.4 673.0,440.8 674.3,444.6 675.6,440.8 676.8,443.4 678.1,443.4 679.4,445.9 680.6,448.4 681.9,449.7 683.2,448.4 684.5,438.3 685.7,430.6 687.0,424.3 688.3,421.8 689.5,417.9 690.2,419.2 690.8,425.6 692.1,433.2 693.4,438.3 694.6,442.1 695.9,443.4 697.2,434.5 697.8,433.2 698.4,438.3 699.7,443.4 701.0,453.5 701.6,440.8 702.2,421.8 702.9,417.9 703.5,419.2 704.8,421.8 706.1,431.9 706.7,439.5 707.3,443.4 708.6,449.7 709.9,453.5 711.1,451.0 712.4,447.2 713.7,448.4 714.9,453.5 716.2,458.6 717.5,461.1 718.8,462.4 720.0,453.5 720.7,428.1 721.3,419.2 721.9,440.8 722.6,457.3 723.8,458.6 725.1,456.1 726.4,457.3 727.6,458.6 728.9,445.9 730.2,443.4 731.5,437.0 732.7,438.3 734.0,443.4 735.3,449.7 736.5,451.0 737.8,452.2 739.1,447.2 740.4,445.9 741.6,440.8 742.9,442.1 744.2,445.9 745.4,448.4 746.7,449.7 748.0,448.4 749.2,443.4 750.5,438.3 751.8,421.8 752.4,415.4 753.1,416.7 754.3,419.2 755.6,430.6 756.5,440.0 757.9,395.6 759.3,351.5 761.0,402.0 762.0,429.0 763.7,375.0 765.3,339.7 767.0,351.5 768.7,382.0 770.4,402.0 772.0,429.0 773.8,449.5 774.7,453.5 775.9,458.6 777.2,459.9 778.5,458.6 779.7,456.1 781.0,453.5 782.3,454.8 783.5,451.0 784.8,443.4 786.1,451.0 787.4,459.9 788.0,428.1 788.3,425.0 789.5,300.0 790.0,248.4 790.6,300.0 791.5,410.0 792.4,447.2 793.7,458.6 795.0,457.3 796.2,449.7 797.5,440.8 798.8,428.1 800.3,402.9 801.2,391.4 801.9,400.6 802.6,416.8 803.0,402.9 804.0,407.6 804.9,421.4 805.8,428.3 806.7,435.2 807.6,439.8 808.8,437.5 810.0,428.3 811.1,421.4 812.3,430.6 813.4,435.2 814.6,444.4 815.7,435.2 816.9,430.6 818.0,437.5 819.2,442.1 820.3,435.2 821.5,428.3 822.6,423.7 823.8,430.6 824.9,435.2 826.1,419.1 827.2,412.2 828.4,407.6 829.5,396.0 830.2,389.1 831.2,393.7 832.1,400.6 833.0,407.6 834.1,402.9 835.3,398.3 836.5,407.6 837.6,402.9 838.8,398.3 839.9,400.6 841.1,393.7 842.2,398.3 843.4,402.9 844.5,407.6 845.7,405.3 846.8,400.6 848.0,396.0 849.1,402.9 850.3,398.3 851.4,391.4 852.6,384.5 853.7,373.0 854.9,361.5 856.0,347.6 857.2,333.8 858.3,338.4 859.5,366.1 860.6,382.2 861.8,366.1 862.9,354.6 864.1,343.0 865.3,333.8 866.4,324.6 867.6,320.0 868.4,307.8 869.7,312.7 870.9,322.5 872.1,317.6 873.3,327.5 874.6,317.6 875.8,307.8 877.0,302.9 878.3,298.0 879.5,293.1 880.7,283.2 882.0,273.4 883.2,263.6 884.4,261.1 885.6,250.4 886.3,237.4 886.9,231.2 887.5,233.9 888.1,239.9 888.7,237.6 889.3,244.0 889.9,245.4 890.6,249.1 891.2,253.8 891.8,256.0 892.4,257.6 893.0,254.3 893.6,253.4 894.2,247.8 894.9,250.2 895.5,243.4 896.1,245.4 896.7,238.5 897.3,241.0 897.9,241.6 898.5,240.7 899.2,245.8 899.8,246.4 900.4,252.9 901.0,254.5 901.6,247.1 902.2,244.3 902.8,238.3 903.6,215.3 904.6,202.0 905.3,200.5 905.9,187.3 906.6,175.5 907.2,167.7 907.9,167.8 908.5,167.7 909.2,161.4 909.8,154.8 910.5,153.2 911.1,153.0 911.8,151.9 912.4,163.6 913.1,167.4 913.7,167.7 914.4,178.6 915.0,176.9 915.7,171.2 916.4,164.5 917.0,161.4 917.7,169.9 918.3,169.1 919.0,183.8 919.6,185.4 920.3,180.0 920.9,174.7 921.6,173.1 922.2,167.2 922.9,170.9 923.5,179.8 924.2,181.2 924.8,172.9 925.5,163.5 926.1,162.4 926.8,165.2 927.5,165.4 928.1,175.4 928.8,177.7 929.4,170.1 930.1,170.9 930.7,161.8 931.4,159.7 932.0,155.2 932.7,152.2 933.3,153.7 934.0,160.6 934.6,166.1 935.3,169.9 935.9,171.0 936.6,176.5 937.2,170.2 937.9,166.1 938.5,165.8 939.2,163.1 939.9,165.9 940.5,171.6 941.2,172.2 941.8,179.7 942.5,177.8 943.1,176.5 943.8,178.6 944.4,186.8 945.1,178.7 945.7,167.1 946.4,165.4 947.0,158.6 947.7,157.9 948.3,153.6 949.0,147.5 949.6,150.9 950.3,154.5 951.0,154.1 951.6,153.1 952.3,144.1 952.9,147.2 953.6,144.6 954.2,144.1 954.9,149.3 955.5,149.2 956.1,154.1 956.9,154.9 957.7,144.3 958.4,154.7 959.2,160.5 960.0,155.9 960.8,151.4 961.5,157.4 962.3,170.7 963.1,165.7 963.8,161.9 964.6,157.6 965.4,157.7 966.1,157.9 966.9,160.0 967.7,158.9 968.4,161.3 969.2,162.8 970.0,159.3 970.7,154.7 971.5,147.4 972.3,141.4 973.0,134.2 973.8,139.3 974.6,139.8 975.3,141.8 976.1,145.1 976.9,141.1 977.6,139.0 978.4,123.7 979.2,120.8 980.0,123.6 980.7,123.3 981.5,126.8 982.3,126.1 983.0,120.7 983.8,113.9 984.6,100.7 985.3,85.0 986.3,72.4 986.9,87.1 987.5,90.9 988.4,109.0 989.2,100.4 989.9,95.8 990.7,93.4 991.5,90.8 992.2,90.0 993.0,85.9 993.8,83.6 994.5,78.9 995.3,69.1 996.1,71.8 996.9,70.3 997.6,70.7 998.4,71.1 999.2,66.6 999.9,63.0 1000.7,59.5 1001.5,68.8 1002.2,74.9 1003.0,78.8 1003.8,85.2 1004.7,113.5 1005.3,142.1 1006.1,147.7 1006.8,149.5 1007.6,146.6 1008.4,137.3 1009.1,138.5 1009.9,133.8 1010.7,141.0 1011.4,138.7 1012.2,137.7 1013.0,141.9 1013.7,144.5 1014.5,147.9 1015.3,157.5 1016.1,166.6 1016.8,171.6 1017.6,180.0 1018.4,166.3 1019.1,159.2 1019.9,155.6 1020.7,154.1 1021.4,146.7 1022.2,143.9 1023.0,153.9 1023.7,167.6 1024.5,167.6 1025.3,172.4 1026.0,175.4 1026.8,180.6 1027.6,194.2 1028.3,203.0 1029.1,211.8 1029.9,214.0 1030.6,214.5 1031.4,218.6 1032.2,219.1 1032.9,227.3 1033.7,218.8 1034.5,213.5 1035.3,207.7 1036.1,200.6 1036.8,196.5 1037.5,189.6 1038.2,191.1 1039.0,199.9 1039.7,197.2 1040.4,204.5 1041.2,205.9 1041.9,208.3 1042.6,221.2 1043.3,223.9 1044.1,241.1 1044.8,248.4 1045.7,279.5 1046.9,280.6 1048.0,275.2 1049.2,264.9 1049.9,266.4 1050.6,273.2 1051.4,267.9 1052.1,264.4 1052.8,260.1 1053.6,261.7 1054.4,270.4 1055.6,279.2 1056.8,296.7 1057.9,303.3 1058.7,309.1 1059.4,312.4 1060.1,318.8 1060.9,323.0 1062.3,331.8 1063.2,296.7 1064.4,273.4 1065.2,311.3 1066.1,337.6 1067.3,343.4 1068.4,349.3 1069.6,343.4 1071.1,337.6 1072.5,331.8 1073.4,302.6 1074.3,296.7 1075.1,338.6 1076.1,342.9 1077.2,347.2 1078.3,348.0 1079.4,349.4 1080.4,352.5 1081.5,353.7 1082.6,355.2 1083.7,355.8 1084.7,357.7 1085.8,358.0 1086.9,356.3 1088.0,353.7 1089.0,351.5 1090.1,360.1 1091.2,363.7 1092.3,368.7 1093.3,361.1 1094.4,353.7 1095.5,351.5 1096.6,360.1 1097.6,366.6 1098.7,370.9 1099.8,366.1 1100.9,362.3 1101.9,355.8 1103.0,349.4 1104.1,347.2 1105.2,362.3 1106.2,375.2 1107.3,373.0 1108.4,375.2 1109.5,377.3 1110.5,376.1 1111.6,375.2 1112.7,371.9 1113.8,370.9 1114.8,373.0 1115.9,379.5 1117.0,383.8 1118.1,388.1 1119.1,392.4 1120.2,385.9 1121.3,381.6 1122.4,390.2 1123.4,394.5 1124.5,398.8 1125.6,403.1 1126.7,405.3 1127.7,409.6 1128.8,413.9 1129.9,409.6 1131.0,405.3 1132.0,407.4 1133.1,411.7 1134.2,416.0 1135.3,411.7 1136.3,407.4 1137.4,405.3 1138.5,401.0 1139.6,403.1 1140.6,398.8 1141.7,394.5 1142.8,401.0 1143.9,411.7 1144.9,416.0 1146.0,418.2 1147.1,418.0 1148.2,416.0 1149.2,415.1 1150.3,411.7 1151.4,407.4 1152.5,405.3 1153.5,401.0 1154.6,394.5 1155.7,385.9 1156.8,383.8 1157.8,379.5 1158.5,377.3 1159.4,385.9 1160.0,394.5 1161.1,401.0 1162.2,411.7 1163.2,420.3 1164.3,422.5 1165.4,416.0 1166.5,405.3 1167.5,396.7 1168.6,392.4 1169.7,394.5 1170.8,401.0 1171.8,411.7 1172.9,420.3 1174.0,428.9 1175.1,435.4 1176.1,433.2 1177.2,437.5 1178.3,433.2 1179.4,424.6 1180.4,420.3 1181.5,416.0 1182.6,411.7 1183.7,420.3 1184.7,428.9 1185.8,433.2 1186.9,431.1 1188.0,424.6 1189.0,411.7 1190.1,407.4 1191.2,411.7 1192.3,424.6 1193.3,437.5 1194.4,441.8 1195.2,432.3 1196.5,434.9 1197.8,445.3 1199.1,432.3 1200.4,440.1 1201.8,450.6 1203.1,437.5 1204.4,432.3 1205.7,434.9 1207.0,440.1 1208.3,445.3 1209.6,442.7 1210.9,448.0 1212.2,450.6 1213.5,453.2 1214.8,448.0 1216.1,440.1 1217.4,442.7 1218.7,434.9 1220.0,429.7 1221.3,425.8 1222.6,442.7 1223.9,450.6 1225.3,445.3 1226.6,448.0 1227.9,442.7 1229.2,450.6 1230.5,448.0 1231.8,437.5 1233.1,432.3 1234.4,440.1 1235.7,448.0 1237.0,450.6 1238.3,445.3 1239.6,440.1 1240.9,424.5 1242.2,419.2 1243.5,416.6 1244.8,411.4 1246.1,414.0 1247.5,424.5 1248.8,419.2 1250.1,414.0 1251.4,408.8 1252.2,401.0 1253.2,414.0 1254.0,429.7 1255.3,432.3 1256.6,424.5 1257.9,429.7 1259.2,434.9 1260.5,437.5 1261.8,442.7 1263.1,450.6 1264.4,455.8 1265.7,461.0 1267.0,455.8 1268.3,453.2 1269.6,458.4 1271.0,450.6 1272.3,440.1 1273.6,442.7 1274.9,450.6 1276.2,445.3 1277.5,437.5 1278.8,429.7 1280.1,408.8 1280.9,406.2 1281.9,424.5 1282.7,440.1 1284.0,445.3 1285.3,450.6 1286.6,448.0 1287.9,440.1 1289.2,437.5 1290.5,445.3 1291.8,442.7 1293.1,440.1 1294.5,434.9 1295.8,442.7 1297.1,448.0 1298.4,445.3 1299.7,440.1 1301.0,442.7 1302.3,434.9 1303.6,429.7 1304.9,427.1 1306.2,432.3 1307.5,429.7 1308.8,424.5 1310.1,419.2 1311.4,421.8 1312.7,429.7 1314.0,419.2 1315.3,408.8 1316.7,411.4 1318.0,416.6 1319.3,408.8 1320.6,401.0 1321.9,395.7 1323.2,398.3 1324.5,387.9 1325.8,403.6 1327.1,419.2 1328.4,429.7 1329.7,434.9 1331.0,432.3 1332.3,424.5 1333.6,429.7 1334.9,424.5 1336.2,421.8 1337.5,419.2 1338.8,403.6 1340.2,393.1 1341.5,395.7 1342.8,398.3 1344.1,382.7 1345.4,385.3 1346.7,390.5 1348.0,385.3 1349.3,395.7 1350.6,398.3 1351.9,403.6 1353.2,393.1 1354.5,382.7 1355.8,385.3 1357.1,367.0 1358.4,372.2 1359.7,364.4 1361.0,351.3 1361.8,343.5" fill="none" stroke="#218c21" stroke-width="1.1" stroke-linejoin="miter"/>
<polyline points="138.0,428.3 139.2,434.3 140.3,439.8 141.5,444.5 142.6,447.7 143.8,452.5 144.9,456.5 146.1,455.0 147.2,452.9 148.4,450.2 149.5,450.3 150.7,449.1 151.8,453.5 153.0,458.3 154.1,459.1 155.3,461.4 156.5,462.9 157.6,462.3 158.8,461.9 159.9,460.6 161.1,459.6 162.2,459.9 163.4,458.3 164.5,458.7 165.7,458.0 166.8,457.1 168.0,462.8 169.1,467.5 170.3,468.2 171.4,466.1 172.6,466.3 173.7,466.4 174.9,466.0 176.0,465.6 177.2,465.8 178.3,465.2 179.5,464.7 180.6,464.2 181.8,464.1 182.9,463.5 184.1,463.9 185.3,465.2 186.4,466.0 187.6,466.4 188.7,467.5 189.9,464.7 191.0,462.9 192.2,460.4 193.3,459.0 194.5,458.3 195.6,457.1 196.8,457.1 197.9,460.0 199.1,462.9 200.2,466.2 201.4,470.5 202.5,474.4 203.7,477.2 204.8,478.2 206.0,481.3 207.1,483.9 208.3,486.5 209.4,488.2 210.6,487.1 211.8,485.4 212.9,482.5 214.1,479.0 215.2,476.7 216.4,475.5 217.5,476.4 218.7,476.0 219.8,475.6 221.0,475.8 222.1,474.6 223.3,474.5 224.4,473.3 225.6,471.9 226.7,472.4 227.9,472.1 229.0,466.9 230.2,462.9 231.7,457.4 233.2,453.2 234.8,458.3 235.9,465.5 237.1,474.4 238.2,460.6 239.4,460.3 240.6,458.3 241.7,462.7 242.9,467.5 244.0,473.9 245.2,479.0 246.3,484.2 247.5,488.2 248.6,479.6 249.8,469.8 250.9,463.7 252.1,458.3 253.2,464.6 254.4,469.8 255.5,470.9 256.7,473.0 257.8,473.6 259.0,474.4 260.1,475.8 261.3,476.5 262.4,475.9 263.6,476.7 264.7,474.9 265.9,472.7 267.1,472.1 268.2,466.6 269.4,460.1 270.5,453.7 271.7,454.2 272.8,456.0 274.0,462.0 275.1,467.5 276.3,463.8 277.4,458.3 278.6,456.8 279.7,454.7 280.9,451.4 282.0,454.1 283.2,457.0 284.3,460.6 285.5,455.0 286.6,451.4 287.8,449.5 288.9,448.6 290.1,448.2 291.2,446.8 292.4,451.5 293.5,458.3 294.7,463.8 295.9,467.5 297.0,462.0 298.2,456.0 299.3,452.1 300.5,446.8 301.6,450.2 302.8,454.5 303.9,458.3 305.1,451.1 306.2,442.2 307.4,444.5 308.5,447.5 309.7,451.4 310.0,445.9 311.5,454.7 312.6,451.9 313.7,450.4 314.7,447.7 315.8,446.1 316.9,454.1 318.0,463.3 319.0,451.6 320.1,441.8 321.2,428.2 322.3,416.0 323.3,394.5 324.4,385.9 325.5,394.5 326.6,416.0 327.6,435.4 328.7,437.5 329.8,441.8 330.9,459.0 331.9,450.4 333.0,416.0 334.1,394.5 335.2,385.9 336.2,394.5 337.3,420.3 338.4,446.1 339.5,450.4 340.5,433.2 341.6,411.7 342.7,394.5 343.8,362.3 344.4,330.0 346.0,266.1 348.0,256.5 349.4,266.1 350.7,293.8 352.1,315.9 353.5,330.0 355.0,343.6 356.5,357.4 357.8,343.3 359.0,330.0 360.4,315.9 361.8,310.3 363.2,304.8 364.6,299.3 365.9,293.8 367.3,280.0 368.7,273.7 370.1,267.5 371.5,280.0 372.9,315.9 374.2,293.8 375.6,282.7 377.6,255.1 378.9,231.6 380.3,238.5 381.7,232.9 383.1,230.2 384.5,255.1 385.9,271.7 387.2,260.6 388.6,244.0 390.0,255.1 391.4,274.4 393.0,266.1 394.1,232.9 395.3,191.5 396.4,163.8 397.7,161.1 398.6,183.2 399.7,219.1 400.8,191.5 402.4,161.1 403.5,172.1 404.7,191.5 406.0,224.7 407.4,191.5 408.8,172.1 410.2,166.6 412.0,138.2 412.9,118.9 413.7,82.9 414.8,60.8 415.9,33.2 417.0,27.6 417.8,35.9 419.2,22.1 420.3,5.5 422.0,6.9 423.1,22.1 424.2,55.3 425.3,60.8 426.7,41.5 428.1,35.0 429.4,27.6 431.4,13.8 432.5,5.5 434.1,8.3 435.3,41.5 436.4,69.1 438.0,77.4 439.7,96.8 441.3,103.7 443.0,105.1 444.7,96.8 446.3,77.4 448.0,71.9 449.6,69.1 450.7,55.3 452.1,33.2 453.5,35.9 454.6,55.3 456.3,82.9 457.9,110.6 459.9,138.2 461.2,160.4 462.6,162.6 462.6,149.3 464.0,143.8 465.7,121.7 467.3,82.9 468.4,49.8 470.0,39.9 470.1,41.5 471.6,36.9 473.0,24.0 474.0,16.0 475.0,12.0 475.6,20.0 476.4,39.9 477.2,51.9 478.0,59.9 479.0,63.9 480.0,61.9 481.0,55.9 481.6,49.9 482.4,48.9 483.6,49.9 484.4,59.9 485.2,69.9 486.0,79.9 487.0,93.9 488.0,105.8 489.0,113.8 490.0,103.8 490.8,83.9 491.6,67.9 492.4,68.9 493.2,75.9 494.0,83.9 495.2,87.9 496.4,91.9 497.6,89.9 498.8,87.9 500.0,83.9 501.0,85.9 502.0,114.8 503.3,115.1 504.6,115.4 505.9,115.6 507.2,115.9 508.5,116.2 509.9,116.5 511.2,116.7 512.5,117.0 513.8,117.3 515.1,117.5 516.4,117.8 517.8,118.1 519.1,118.4 520.4,118.6 521.7,118.9 523.0,119.2 524.3,119.4 525.7,119.7 527.0,120.0 527.4,130.0 528.0,159.9 529.0,173.9 530.0,179.9 531.0,169.9 532.0,161.9 533.0,149.9 534.0,130.0 535.0,123.0 536.0,126.0 536.6,140.0 537.0,149.9 537.6,157.9 538.4,165.9 539.4,173.9 540.0,181.9 541.0,189.9 542.0,193.9 542.9,197.9 543.9,203.9 544.9,203.9 545.9,205.9 546.9,201.9 547.9,207.8 548.9,221.8 549.0,232.9 549.7,241.5 550.8,248.0 551.8,243.7 552.9,250.1 554.0,245.8 555.1,258.7 556.1,263.0 557.2,258.7 558.3,254.4 559.4,256.6 560.4,252.3 561.5,254.4 562.6,263.0 563.7,269.5 564.7,263.0 565.8,265.2 566.9,273.8 568.0,280.2 569.0,284.5 570.1,288.8 571.2,301.7 572.3,314.6 573.3,323.2 574.4,327.5 575.5,329.7 576.6,331.8 577.6,336.1 578.7,327.5 579.8,325.4 580.9,323.2 581.9,327.5 583.0,331.8 584.1,340.4 585.2,349.0 586.2,351.2 587.3,353.3 588.4,357.6 589.5,353.3 590.5,349.0 591.6,344.7 592.7,340.4 593.8,336.1 594.8,331.8 595.9,327.5 597.0,325.4 597.2,323.7 598.3,321.5 599.4,320.4 600.4,323.7 601.5,328.0 602.6,330.1 603.7,334.4 604.7,336.6 605.8,338.7 606.9,339.8 608.0,340.9 609.0,341.3 610.1,343.0 611.2,345.2 612.3,347.3 613.3,349.1 614.4,351.6 615.5,353.9 616.6,358.1 617.6,361.4 618.7,366.7 619.8,370.5 620.9,375.3 621.9,380.0 623.0,383.9 624.1,382.8 625.2,381.7 626.2,379.6 627.3,386.0 628.4,388.2 629.5,394.6 630.5,398.3 631.6,401.1 632.7,404.1 633.8,405.4 634.8,407.5 635.9,409.7 637.0,413.1 638.1,416.1 639.1,417.7 640.2,420.4 641.3,421.2 642.4,422.6 643.4,425.2 644.5,426.9 645.6,428.5 646.7,429.0 647.7,430.5 648.8,433.3 650.2,435.7 651.4,436.4 652.7,438.3 654.0,440.1 655.2,442.1 656.5,441.3 657.8,440.8 659.1,442.3 660.3,443.4 661.6,443.4 662.9,442.1 664.1,439.7 665.4,438.3 666.7,426.8 667.9,423.0 669.2,424.3 670.5,428.1 671.8,431.9 673.0,438.3 674.3,439.5 675.6,438.3 676.8,436.8 678.1,437.0 679.4,434.5 680.6,431.9 681.9,430.6 683.2,435.7 684.5,440.8 685.7,443.4 687.0,445.9 688.3,447.2 689.5,448.4 690.8,447.2 692.1,449.7 693.4,451.0 694.6,452.2 695.9,449.7 697.2,448.4 698.4,447.2 699.7,448.4 701.0,444.6 702.2,440.8 703.5,439.5 704.8,442.1 706.1,443.4 707.3,444.6 708.6,443.4 709.9,442.1 711.1,443.4 712.4,445.9 713.7,444.6 714.9,442.5 716.2,442.1 717.5,441.1 718.8,440.8 720.0,439.9 721.3,439.5 722.6,437.0 723.8,430.6 725.1,424.3 726.4,423.0 727.6,421.8 728.9,420.5 730.2,419.2 731.5,416.7 732.7,423.0 734.0,426.8 735.3,431.9 736.5,439.5 737.8,438.3 739.1,434.5 740.4,423.0 741.6,412.9 742.9,411.6 743.5,415.4 744.2,424.3 745.4,433.2 746.7,435.7 748.0,431.9 749.2,434.5 750.5,438.3 751.8,443.4 753.1,456.1 754.3,457.3 755.6,454.8 756.9,456.1 758.1,458.6 759.4,459.9 760.7,438.3 761.9,437.0 763.2,451.0 764.5,466.2 765.8,464.9 767.0,461.1 768.3,458.6 769.6,453.5 770.8,447.2 772.1,443.4 773.4,440.8 774.7,442.1 775.9,445.9 777.2,448.4 778.5,443.4 779.7,438.3 781.0,438.3 782.3,440.8 783.5,437.0 784.8,434.5 786.1,433.2 787.4,435.7 788.6,439.5 789.9,443.4 791.2,447.2 792.4,457.3 793.7,459.9 795.0,457.3 796.2,440.8 797.5,433.2 798.8,428.1 799.8,420.5 800.7,414.5 801.9,412.2 803.0,409.9 804.2,408.7 805.3,407.6 806.5,406.4 807.6,405.3 808.8,406.4 810.0,405.3 811.1,405.9 812.3,405.3 813.4,405.6 814.6,406.4 815.7,404.2 816.9,402.9 818.0,399.1 819.2,396.0 820.3,389.1 821.5,384.5 822.6,377.6 823.8,373.0 824.9,368.4 826.1,364.9 827.2,363.8 828.4,366.1 829.5,362.6 830.7,361.5 831.8,363.8 833.0,361.5 834.1,360.3 835.3,358.0 836.5,359.2 837.6,360.3 838.8,356.9 839.9,354.6 841.1,350.0 841.8,343.0 842.7,336.1 844.1,331.5 845.0,329.2 846.1,326.9 846.8,324.6 848.0,322.3 849.1,321.5 850.3,319.4 851.4,317.6 852.7,312.7 853.4,298.0 853.9,278.3 854.4,261.1 855.1,241.4 855.9,224.2 856.9,212.0 857.6,199.7 858.8,199.1 860.0,197.2 861.3,195.2 862.5,194.7 863.7,191.0 865.0,188.6 866.2,194.7 867.4,199.7 868.6,207.0 869.9,211.8 871.1,216.9 872.3,224.2 873.6,216.9 874.8,212.0 876.0,207.0 877.3,204.6 878.5,194.7 880.0,189.8 880.4,191.9 881.8,186.7 883.1,134.5 884.4,92.7 885.7,90.1 887.0,74.4 887.8,66.6 888.8,77.0 889.6,95.3 890.9,108.3 892.2,129.2 893.5,142.3 894.8,118.8 896.1,129.2 897.4,124.0 898.7,134.5 900.0,121.4 901.3,113.6 902.6,108.3 903.9,95.3 905.3,82.2 906.6,56.1 907.9,40.4 909.2,44.4 910.5,45.7 911.8,50.9 913.1,56.1 914.4,61.3 915.7,63.9 917.0,66.6 918.3,63.9 919.6,66.6 920.9,61.3 922.2,58.7 923.3,56.1 924.1,82.2 924.8,103.1 925.6,121.4 926.4,139.7" fill="none" stroke="#1e1ed2" stroke-width="1.1" stroke-linejoin="miter"/>
<path d="M141.4 414.1a2.4 2.4 0 1 0 4.8 0a2.4 2.4 0 1 0 -4.8 0M145.3 398.8a2.4 2.4 0 1 0 4.8 0a2.4 2.4 0 1 0 -4.8 0M148.3 394.9a2.4 2.4 0 1 0 4.8 0a2.4 2.4 0 1 0 -4.8 0M155.2 405.3a2.4 2.4 0 1 0 4.8 0a2.4 2.4 0 1 0 -4.8 0M158.7 398.8a2.4 2.4 0 1 0 4.8 0a2.4 2.4 0 1 0 -4.8 0M161.7 409.9a2.4 2.4 0 1 0 4.8 0a2.4 2.4 0 1 0 -4.8 0M164.4 405.8a2.4 2.4 0 1 0 4.8 0a2.4 2.4 0 1 0 -4.8 0M166.7 405.8a2.4 2.4 0 1 0 4.8 0a2.4 2.4 0 1 0 -4.8 0M169.0 405.8a2.4 2.4 0 1 0 4.8 0a2.4 2.4 0 1 0 -4.8 0M171.8 419.6a2.4 2.4 0 1 0 4.8 0a2.4 2.4 0 1 0 -4.8 0M175.2 360.1a2.4 2.4 0 1 0 4.8 0a2.4 2.4 0 1 0 -4.8 0M178.2 409.0a2.4 2.4 0 1 0 4.8 0a2.4 2.4 0 1 0 -4.8 0M181.7 390.3a2.4 2.4 0 1 0 4.8 0a2.4 2.4 0 1 0 -4.8 0M185.2 420.3a2.4 2.4 0 1 0 4.8 0a2.4 2.4 0 1 0 -4.8 0M188.6 423.7a2.4 2.4 0 1 0 4.8 0a2.4 2.4 0 1 0 -4.8 0M248.1 378.3a2.4 2.4 0 1 0 4.8 0a2.4 2.4 0 1 0 -4.8 0M268.1 373.0a2.4 2.4 0 1 0 4.8 0a2.4 2.4 0 1 0 -4.8 0M267.0 375.8a2.4 2.4 0 1 0 4.8 0a2.4 2.4 0 1 0 -4.8 0M249.2 397.2a2.4 2.4 0 1 0 4.8 0a2.4 2.4 0 1 0 -4.8 0M248.5 406.5a2.4 2.4 0 1 0 4.8 0a2.4 2.4 0 1 0 -4.8 0M249.7 404.1a2.4 2.4 0 1 0 4.8 0a2.4 2.4 0 1 0 -4.8 0M247.4 419.1a2.4 2.4 0 1 0 4.8 0a2.4 2.4 0 1 0 -4.8 0M250.8 416.8a2.4 2.4 0 1 0 4.8 0a2.4 2.4 0 1 0 -4.8 0M254.3 418.0a2.4 2.4 0 1 0 4.8 0a2.4 2.4 0 1 0 -4.8 0M256.6 419.1a2.4 2.4 0 1 0 4.8 0a2.4 2.4 0 1 0 -4.8 0M249.7 426.0a2.4 2.4 0 1 0 4.8 0a2.4 2.4 0 1 0 -4.8 0M253.1 428.3a2.4 2.4 0 1 0 4.8 0a2.4 2.4 0 1 0 -4.8 0M258.9 423.7a2.4 2.4 0 1 0 4.8 0a2.4 2.4 0 1 0 -4.8 0M258.9 430.6a2.4 2.4 0 1 0 4.8 0a2.4 2.4 0 1 0 -4.8 0M262.3 432.9a2.4 2.4 0 1 0 4.8 0a2.4 2.4 0 1 0 -4.8 0M263.5 437.6a2.4 2.4 0 1 0 4.8 0a2.4 2.4 0 1 0 -4.8 0M260.0 437.6a2.4 2.4 0 1 0 4.8 0a2.4 2.4 0 1 0 -4.8 0M245.1 435.3a2.4 2.4 0 1 0 4.8 0a2.4 2.4 0 1 0 -4.8 0M246.2 437.6a2.4 2.4 0 1 0 4.8 0a2.4 2.4 0 1 0 -4.8 0M269.3 403.0a2.4 2.4 0 1 0 4.8 0a2.4 2.4 0 1 0 -4.8 0M268.1 412.2a2.4 2.4 0 1 0 4.8 0a2.4 2.4 0 1 0 -4.8 0M273.9 413.4a2.4 2.4 0 1 0 4.8 0a2.4 2.4 0 1 0 -4.8 0M279.6 412.2a2.4 2.4 0 1 0 4.8 0a2.4 2.4 0 1 0 -4.8 0M285.4 412.2a2.4 2.4 0 1 0 4.8 0a2.4 2.4 0 1 0 -4.8 0M288.8 407.6a2.4 2.4 0 1 0 4.8 0a2.4 2.4 0 1 0 -4.8 0M290.0 396.1a2.4 2.4 0 1 0 4.8 0a2.4 2.4 0 1 0 -4.8 0M298.1 413.4a2.4 2.4 0 1 0 4.8 0a2.4 2.4 0 1 0 -4.8 0M299.9 416.8a2.4 2.4 0 1 0 4.8 0a2.4 2.4 0 1 0 -4.8 0M268.1 419.1a2.4 2.4 0 1 0 4.8 0a2.4 2.4 0 1 0 -4.8 0M270.4 423.7a2.4 2.4 0 1 0 4.8 0a2.4 2.4 0 1 0 -4.8 0M277.3 421.4a2.4 2.4 0 1 0 4.8 0a2.4 2.4 0 1 0 -4.8 0M272.7 428.3a2.4 2.4 0 1 0 4.8 0a2.4 2.4 0 1 0 -4.8 0M276.2 432.9a2.4 2.4 0 1 0 4.8 0a2.4 2.4 0 1 0 -4.8 0M281.9 430.6a2.4 2.4 0 1 0 4.8 0a2.4 2.4 0 1 0 -4.8 0M279.6 437.6a2.4 2.4 0 1 0 4.8 0a2.4 2.4 0 1 0 -4.8 0M272.7 437.6a2.4 2.4 0 1 0 4.8 0a2.4 2.4 0 1 0 -4.8 0M283.1 438.7a2.4 2.4 0 1 0 4.8 0a2.4 2.4 0 1 0 -4.8 0M286.5 442.2a2.4 2.4 0 1 0 4.8 0a2.4 2.4 0 1 0 -4.8 0M290.0 423.7a2.4 2.4 0 1 0 4.8 0a2.4 2.4 0 1 0 -4.8 0M288.8 418.0a2.4 2.4 0 1 0 4.8 0a2.4 2.4 0 1 0 -4.8 0M291.1 435.3a2.4 2.4 0 1 0 4.8 0a2.4 2.4 0 1 0 -4.8 0M295.8 435.3a2.4 2.4 0 1 0 4.8 0a2.4 2.4 0 1 0 -4.8 0M298.1 437.6a2.4 2.4 0 1 0 4.8 0a2.4 2.4 0 1 0 -4.8 0M300.4 441.0a2.4 2.4 0 1 0 4.8 0a2.4 2.4 0 1 0 -4.8 0M294.6 444.5a2.4 2.4 0 1 0 4.8 0a2.4 2.4 0 1 0 -4.8 0M292.3 449.1a2.4 2.4 0 1 0 4.8 0a2.4 2.4 0 1 0 -4.8 0M288.8 451.4a2.4 2.4 0 1 0 4.8 0a2.4 2.4 0 1 0 -4.8 0M284.2 446.8a2.4 2.4 0 1 0 4.8 0a2.4 2.4 0 1 0 -4.8 0M281.9 444.5a2.4 2.4 0 1 0 4.8 0a2.4 2.4 0 1 0 -4.8 0M285.4 456.0a2.4 2.4 0 1 0 4.8 0a2.4 2.4 0 1 0 -4.8 0M287.7 452.5a2.4 2.4 0 1 0 4.8 0a2.4 2.4 0 1 0 -4.8 0M293.5 453.7a2.4 2.4 0 1 0 4.8 0a2.4 2.4 0 1 0 -4.8 0M295.8 451.4a2.4 2.4 0 1 0 4.8 0a2.4 2.4 0 1 0 -4.8 0M298.1 447.9a2.4 2.4 0 1 0 4.8 0a2.4 2.4 0 1 0 -4.8 0M261.2 444.5a2.4 2.4 0 1 0 4.8 0a2.4 2.4 0 1 0 -4.8 0M524.5 47.3a2.4 2.4 0 1 0 4.8 0a2.4 2.4 0 1 0 -4.8 0M524.9 72.3a2.4 2.4 0 1 0 4.8 0a2.4 2.4 0 1 0 -4.8 0M533.5 70.9a2.4 2.4 0 1 0 4.8 0a2.4 2.4 0 1 0 -4.8 0M531.6 130.0a2.4 2.4 0 1 0 4.8 0a2.4 2.4 0 1 0 -4.8 0M532.0 132.0a2.4 2.4 0 1 0 4.8 0a2.4 2.4 0 1 0 -4.8 0M533.6 138.0a2.4 2.4 0 1 0 4.8 0a2.4 2.4 0 1 0 -4.8 0M536.6 141.0a2.4 2.4 0 1 0 4.8 0a2.4 2.4 0 1 0 -4.8 0M531.6 145.9a2.4 2.4 0 1 0 4.8 0a2.4 2.4 0 1 0 -4.8 0M529.6 151.9a2.4 2.4 0 1 0 4.8 0a2.4 2.4 0 1 0 -4.8 0M536.6 150.9a2.4 2.4 0 1 0 4.8 0a2.4 2.4 0 1 0 -4.8 0M525.6 157.9a2.4 2.4 0 1 0 4.8 0a2.4 2.4 0 1 0 -4.8 0M533.6 163.9a2.4 2.4 0 1 0 4.8 0a2.4 2.4 0 1 0 -4.8 0M527.6 167.9a2.4 2.4 0 1 0 4.8 0a2.4 2.4 0 1 0 -4.8 0M532.6 169.9a2.4 2.4 0 1 0 4.8 0a2.4 2.4 0 1 0 -4.8 0M526.6 173.9a2.4 2.4 0 1 0 4.8 0a2.4 2.4 0 1 0 -4.8 0M531.6 175.9a2.4 2.4 0 1 0 4.8 0a2.4 2.4 0 1 0 -4.8 0M529.6 179.9a2.4 2.4 0 1 0 4.8 0a2.4 2.4 0 1 0 -4.8 0M525.6 183.9a2.4 2.4 0 1 0 4.8 0a2.4 2.4 0 1 0 -4.8 0M530.6 183.9a2.4 2.4 0 1 0 4.8 0a2.4 2.4 0 1 0 -4.8 0M531.6 185.9a2.4 2.4 0 1 0 4.8 0a2.4 2.4 0 1 0 -4.8 0M526.6 189.9a2.4 2.4 0 1 0 4.8 0a2.4 2.4 0 1 0 -4.8 0M527.6 193.9a2.4 2.4 0 1 0 4.8 0a2.4 2.4 0 1 0 -4.8 0M528.6 195.9a2.4 2.4 0 1 0 4.8 0a2.4 2.4 0 1 0 -4.8 0M537.6 185.9a2.4 2.4 0 1 0 4.8 0a2.4 2.4 0 1 0 -4.8 0M539.6 191.9a2.4 2.4 0 1 0 4.8 0a2.4 2.4 0 1 0 -4.8 0M536.6 195.9a2.4 2.4 0 1 0 4.8 0a2.4 2.4 0 1 0 -4.8 0M537.6 201.9a2.4 2.4 0 1 0 4.8 0a2.4 2.4 0 1 0 -4.8 0M536.6 205.9a2.4 2.4 0 1 0 4.8 0a2.4 2.4 0 1 0 -4.8 0M538.6 209.8a2.4 2.4 0 1 0 4.8 0a2.4 2.4 0 1 0 -4.8 0M537.6 211.8a2.4 2.4 0 1 0 4.8 0a2.4 2.4 0 1 0 -4.8 0M540.5 207.8a2.4 2.4 0 1 0 4.8 0a2.4 2.4 0 1 0 -4.8 0M537.6 213.8a2.4 2.4 0 1 0 4.8 0a2.4 2.4 0 1 0 -4.8 0M541.5 217.8a2.4 2.4 0 1 0 4.8 0a2.4 2.4 0 1 0 -4.8 0M543.5 215.8a2.4 2.4 0 1 0 4.8 0a2.4 2.4 0 1 0 -4.8 0M544.5 219.8a2.4 2.4 0 1 0 4.8 0a2.4 2.4 0 1 0 -4.8 0M542.5 221.8a2.4 2.4 0 1 0 4.8 0a2.4 2.4 0 1 0 -4.8 0M541.5 225.8a2.4 2.4 0 1 0 4.8 0a2.4 2.4 0 1 0 -4.8 0M542.5 231.8a2.4 2.4 0 1 0 4.8 0a2.4 2.4 0 1 0 -4.8 0M543.5 233.8a2.4 2.4 0 1 0 4.8 0a2.4 2.4 0 1 0 -4.8 0M544.5 235.8a2.4 2.4 0 1 0 4.8 0a2.4 2.4 0 1 0 -4.8 0M541.9 222.2a2.4 2.4 0 1 0 4.8 0a2.4 2.4 0 1 0 -4.8 0M543.0 226.5a2.4 2.4 0 1 0 4.8 0a2.4 2.4 0 1 0 -4.8 0M542.3 234.0a2.4 2.4 0 1 0 4.8 0a2.4 2.4 0 1 0 -4.8 0M544.1 235.1a2.4 2.4 0 1 0 4.8 0a2.4 2.4 0 1 0 -4.8 0M545.1 239.4a2.4 2.4 0 1 0 4.8 0a2.4 2.4 0 1 0 -4.8 0M546.2 245.8a2.4 2.4 0 1 0 4.8 0a2.4 2.4 0 1 0 -4.8 0M546.6 252.3a2.4 2.4 0 1 0 4.8 0a2.4 2.4 0 1 0 -4.8 0M547.3 258.7a2.4 2.4 0 1 0 4.8 0a2.4 2.4 0 1 0 -4.8 0M548.4 263.0a2.4 2.4 0 1 0 4.8 0a2.4 2.4 0 1 0 -4.8 0M550.5 267.3a2.4 2.4 0 1 0 4.8 0a2.4 2.4 0 1 0 -4.8 0M551.6 271.6a2.4 2.4 0 1 0 4.8 0a2.4 2.4 0 1 0 -4.8 0M552.7 275.9a2.4 2.4 0 1 0 4.8 0a2.4 2.4 0 1 0 -4.8 0M553.7 280.2a2.4 2.4 0 1 0 4.8 0a2.4 2.4 0 1 0 -4.8 0M554.8 284.5a2.4 2.4 0 1 0 4.8 0a2.4 2.4 0 1 0 -4.8 0M555.9 288.8a2.4 2.4 0 1 0 4.8 0a2.4 2.4 0 1 0 -4.8 0M557.0 294.2a2.4 2.4 0 1 0 4.8 0a2.4 2.4 0 1 0 -4.8 0M554.8 297.4a2.4 2.4 0 1 0 4.8 0a2.4 2.4 0 1 0 -4.8 0M554.4 299.6a2.4 2.4 0 1 0 4.8 0a2.4 2.4 0 1 0 -4.8 0M558.0 273.8a2.4 2.4 0 1 0 4.8 0a2.4 2.4 0 1 0 -4.8 0M559.1 275.9a2.4 2.4 0 1 0 4.8 0a2.4 2.4 0 1 0 -4.8 0M560.2 280.2a2.4 2.4 0 1 0 4.8 0a2.4 2.4 0 1 0 -4.8 0M561.3 284.5a2.4 2.4 0 1 0 4.8 0a2.4 2.4 0 1 0 -4.8 0M562.3 288.8a2.4 2.4 0 1 0 4.8 0a2.4 2.4 0 1 0 -4.8 0M563.4 291.0a2.4 2.4 0 1 0 4.8 0a2.4 2.4 0 1 0 -4.8 0M564.5 286.7a2.4 2.4 0 1 0 4.8 0a2.4 2.4 0 1 0 -4.8 0M565.6 284.5a2.4 2.4 0 1 0 4.8 0a2.4 2.4 0 1 0 -4.8 0M559.1 267.3a2.4 2.4 0 1 0 4.8 0a2.4 2.4 0 1 0 -4.8 0M561.3 269.5a2.4 2.4 0 1 0 4.8 0a2.4 2.4 0 1 0 -4.8 0M565.6 301.7a2.4 2.4 0 1 0 4.8 0a2.4 2.4 0 1 0 -4.8 0M567.7 308.2a2.4 2.4 0 1 0 4.8 0a2.4 2.4 0 1 0 -4.8 0M579.5 317.8a2.4 2.4 0 1 0 4.8 0a2.4 2.4 0 1 0 -4.8 0M577.4 318.9a2.4 2.4 0 1 0 4.8 0a2.4 2.4 0 1 0 -4.8 0M568.8 325.4a2.4 2.4 0 1 0 4.8 0a2.4 2.4 0 1 0 -4.8 0M569.9 329.7a2.4 2.4 0 1 0 4.8 0a2.4 2.4 0 1 0 -4.8 0M568.8 334.0a2.4 2.4 0 1 0 4.8 0a2.4 2.4 0 1 0 -4.8 0M570.9 338.3a2.4 2.4 0 1 0 4.8 0a2.4 2.4 0 1 0 -4.8 0M572.0 342.6a2.4 2.4 0 1 0 4.8 0a2.4 2.4 0 1 0 -4.8 0M573.1 344.7a2.4 2.4 0 1 0 4.8 0a2.4 2.4 0 1 0 -4.8 0M575.2 346.9a2.4 2.4 0 1 0 4.8 0a2.4 2.4 0 1 0 -4.8 0M577.4 349.0a2.4 2.4 0 1 0 4.8 0a2.4 2.4 0 1 0 -4.8 0M579.5 351.2a2.4 2.4 0 1 0 4.8 0a2.4 2.4 0 1 0 -4.8 0M581.7 353.3a2.4 2.4 0 1 0 4.8 0a2.4 2.4 0 1 0 -4.8 0M582.8 355.5a2.4 2.4 0 1 0 4.8 0a2.4 2.4 0 1 0 -4.8 0M583.8 357.6a2.4 2.4 0 1 0 4.8 0a2.4 2.4 0 1 0 -4.8 0M576.3 358.7a2.4 2.4 0 1 0 4.8 0a2.4 2.4 0 1 0 -4.8 0M586.0 355.5a2.4 2.4 0 1 0 4.8 0a2.4 2.4 0 1 0 -4.8 0M588.1 357.6a2.4 2.4 0 1 0 4.8 0a2.4 2.4 0 1 0 -4.8 0M590.3 331.8a2.4 2.4 0 1 0 4.8 0a2.4 2.4 0 1 0 -4.8 0M591.4 349.0a2.4 2.4 0 1 0 4.8 0a2.4 2.4 0 1 0 -4.8 0M593.5 351.2a2.4 2.4 0 1 0 4.8 0a2.4 2.4 0 1 0 -4.8 0M594.6 346.9a2.4 2.4 0 1 0 4.8 0a2.4 2.4 0 1 0 -4.8 0M595.7 349.0a2.4 2.4 0 1 0 4.8 0a2.4 2.4 0 1 0 -4.8 0M596.7 351.2a2.4 2.4 0 1 0 4.8 0a2.4 2.4 0 1 0 -4.8 0M597.8 346.9a2.4 2.4 0 1 0 4.8 0a2.4 2.4 0 1 0 -4.8 0M598.9 353.3a2.4 2.4 0 1 0 4.8 0a2.4 2.4 0 1 0 -4.8 0M600.0 355.5a2.4 2.4 0 1 0 4.8 0a2.4 2.4 0 1 0 -4.8 0M601.0 351.2a2.4 2.4 0 1 0 4.8 0a2.4 2.4 0 1 0 -4.8 0M602.1 349.0a2.4 2.4 0 1 0 4.8 0a2.4 2.4 0 1 0 -4.8 0M603.2 357.6a2.4 2.4 0 1 0 4.8 0a2.4 2.4 0 1 0 -4.8 0M604.3 355.5a2.4 2.4 0 1 0 4.8 0a2.4 2.4 0 1 0 -4.8 0M824.8 324.6a2.4 2.4 0 1 0 4.8 0a2.4 2.4 0 1 0 -4.8 0M827.1 335.0a2.4 2.4 0 1 0 4.8 0a2.4 2.4 0 1 0 -4.8 0M823.7 338.4a2.4 2.4 0 1 0 4.8 0a2.4 2.4 0 1 0 -4.8 0M826.0 343.0a2.4 2.4 0 1 0 4.8 0a2.4 2.4 0 1 0 -4.8 0M827.1 346.5a2.4 2.4 0 1 0 4.8 0a2.4 2.4 0 1 0 -4.8 0M822.5 353.4a2.4 2.4 0 1 0 4.8 0a2.4 2.4 0 1 0 -4.8 0M828.3 350.0a2.4 2.4 0 1 0 4.8 0a2.4 2.4 0 1 0 -4.8 0M839.8 337.3a2.4 2.4 0 1 0 4.8 0a2.4 2.4 0 1 0 -4.8 0M838.7 339.6a2.4 2.4 0 1 0 4.8 0a2.4 2.4 0 1 0 -4.8 0M846.7 332.7a2.4 2.4 0 1 0 4.8 0a2.4 2.4 0 1 0 -4.8 0M849.0 344.2a2.4 2.4 0 1 0 4.8 0a2.4 2.4 0 1 0 -4.8 0M846.7 351.1a2.4 2.4 0 1 0 4.8 0a2.4 2.4 0 1 0 -4.8 0M860.5 330.4a2.4 2.4 0 1 0 4.8 0a2.4 2.4 0 1 0 -4.8 0M857.1 336.1a2.4 2.4 0 1 0 4.8 0a2.4 2.4 0 1 0 -4.8 0M858.2 343.0a2.4 2.4 0 1 0 4.8 0a2.4 2.4 0 1 0 -4.8 0M859.4 350.0a2.4 2.4 0 1 0 4.8 0a2.4 2.4 0 1 0 -4.8 0M862.9 345.3a2.4 2.4 0 1 0 4.8 0a2.4 2.4 0 1 0 -4.8 0M861.7 354.6a2.4 2.4 0 1 0 4.8 0a2.4 2.4 0 1 0 -4.8 0M858.2 361.5a2.4 2.4 0 1 0 4.8 0a2.4 2.4 0 1 0 -4.8 0M857.1 370.7a2.4 2.4 0 1 0 4.8 0a2.4 2.4 0 1 0 -4.8 0M860.5 366.1a2.4 2.4 0 1 0 4.8 0a2.4 2.4 0 1 0 -4.8 0M853.6 368.4a2.4 2.4 0 1 0 4.8 0a2.4 2.4 0 1 0 -4.8 0M851.3 363.8a2.4 2.4 0 1 0 4.8 0a2.4 2.4 0 1 0 -4.8 0M846.7 366.1a2.4 2.4 0 1 0 4.8 0a2.4 2.4 0 1 0 -4.8 0M842.1 368.4a2.4 2.4 0 1 0 4.8 0a2.4 2.4 0 1 0 -4.8 0M838.7 370.7a2.4 2.4 0 1 0 4.8 0a2.4 2.4 0 1 0 -4.8 0M836.4 374.1a2.4 2.4 0 1 0 4.8 0a2.4 2.4 0 1 0 -4.8 0M841.0 375.3a2.4 2.4 0 1 0 4.8 0a2.4 2.4 0 1 0 -4.8 0M844.4 377.6a2.4 2.4 0 1 0 4.8 0a2.4 2.4 0 1 0 -4.8 0M839.8 379.9a2.4 2.4 0 1 0 4.8 0a2.4 2.4 0 1 0 -4.8 0M830.6 377.6a2.4 2.4 0 1 0 4.8 0a2.4 2.4 0 1 0 -4.8 0M828.3 382.2a2.4 2.4 0 1 0 4.8 0a2.4 2.4 0 1 0 -4.8 0M832.9 382.2a2.4 2.4 0 1 0 4.8 0a2.4 2.4 0 1 0 -4.8 0M826.0 373.0a2.4 2.4 0 1 0 4.8 0a2.4 2.4 0 1 0 -4.8 0M823.7 391.4a2.4 2.4 0 1 0 4.8 0a2.4 2.4 0 1 0 -4.8 0M827.1 389.1a2.4 2.4 0 1 0 4.8 0a2.4 2.4 0 1 0 -4.8 0M830.6 393.7a2.4 2.4 0 1 0 4.8 0a2.4 2.4 0 1 0 -4.8 0M835.2 389.1a2.4 2.4 0 1 0 4.8 0a2.4 2.4 0 1 0 -4.8 0M839.8 389.1a2.4 2.4 0 1 0 4.8 0a2.4 2.4 0 1 0 -4.8 0M844.4 389.1a2.4 2.4 0 1 0 4.8 0a2.4 2.4 0 1 0 -4.8 0M802.9 379.9a2.4 2.4 0 1 0 4.8 0a2.4 2.4 0 1 0 -4.8 0M804.1 384.5a2.4 2.4 0 1 0 4.8 0a2.4 2.4 0 1 0 -4.8 0M807.6 389.1a2.4 2.4 0 1 0 4.8 0a2.4 2.4 0 1 0 -4.8 0M796.0 393.7a2.4 2.4 0 1 0 4.8 0a2.4 2.4 0 1 0 -4.8 0M801.8 407.6a2.4 2.4 0 1 0 4.8 0a2.4 2.4 0 1 0 -4.8 0M807.6 400.6a2.4 2.4 0 1 0 4.8 0a2.4 2.4 0 1 0 -4.8 0M805.2 405.3a2.4 2.4 0 1 0 4.8 0a2.4 2.4 0 1 0 -4.8 0M812.2 402.9a2.4 2.4 0 1 0 4.8 0a2.4 2.4 0 1 0 -4.8 0M819.1 400.6a2.4 2.4 0 1 0 4.8 0a2.4 2.4 0 1 0 -4.8 0M821.4 407.6a2.4 2.4 0 1 0 4.8 0a2.4 2.4 0 1 0 -4.8 0M817.9 414.5a2.4 2.4 0 1 0 4.8 0a2.4 2.4 0 1 0 -4.8 0M814.5 421.4a2.4 2.4 0 1 0 4.8 0a2.4 2.4 0 1 0 -4.8 0M809.9 416.8a2.4 2.4 0 1 0 4.8 0a2.4 2.4 0 1 0 -4.8 0M805.2 416.8a2.4 2.4 0 1 0 4.8 0a2.4 2.4 0 1 0 -4.8 0M800.6 416.8a2.4 2.4 0 1 0 4.8 0a2.4 2.4 0 1 0 -4.8 0M796.0 419.1a2.4 2.4 0 1 0 4.8 0a2.4 2.4 0 1 0 -4.8 0M791.4 421.4a2.4 2.4 0 1 0 4.8 0a2.4 2.4 0 1 0 -4.8 0M788.0 412.2a2.4 2.4 0 1 0 4.8 0a2.4 2.4 0 1 0 -4.8 0M789.1 426.0a2.4 2.4 0 1 0 4.8 0a2.4 2.4 0 1 0 -4.8 0M793.7 428.3a2.4 2.4 0 1 0 4.8 0a2.4 2.4 0 1 0 -4.8 0M798.3 430.6a2.4 2.4 0 1 0 4.8 0a2.4 2.4 0 1 0 -4.8 0M802.9 432.9a2.4 2.4 0 1 0 4.8 0a2.4 2.4 0 1 0 -4.8 0M807.6 437.5a2.4 2.4 0 1 0 4.8 0a2.4 2.4 0 1 0 -4.8 0M812.2 435.2a2.4 2.4 0 1 0 4.8 0a2.4 2.4 0 1 0 -4.8 0M816.8 439.8a2.4 2.4 0 1 0 4.8 0a2.4 2.4 0 1 0 -4.8 0M800.6 439.8a2.4 2.4 0 1 0 4.8 0a2.4 2.4 0 1 0 -4.8 0M796.0 439.8a2.4 2.4 0 1 0 4.8 0a2.4 2.4 0 1 0 -4.8 0M791.4 435.2a2.4 2.4 0 1 0 4.8 0a2.4 2.4 0 1 0 -4.8 0M805.2 444.4a2.4 2.4 0 1 0 4.8 0a2.4 2.4 0 1 0 -4.8 0M809.9 449.0a2.4 2.4 0 1 0 4.8 0a2.4 2.4 0 1 0 -4.8 0M814.5 451.3a2.4 2.4 0 1 0 4.8 0a2.4 2.4 0 1 0 -4.8 0M812.2 455.9a2.4 2.4 0 1 0 4.8 0a2.4 2.4 0 1 0 -4.8 0M809.9 458.2a2.4 2.4 0 1 0 4.8 0a2.4 2.4 0 1 0 -4.8 0M813.3 460.6a2.4 2.4 0 1 0 4.8 0a2.4 2.4 0 1 0 -4.8 0M815.6 458.2a2.4 2.4 0 1 0 4.8 0a2.4 2.4 0 1 0 -4.8 0M798.3 449.0a2.4 2.4 0 1 0 4.8 0a2.4 2.4 0 1 0 -4.8 0M793.7 449.0a2.4 2.4 0 1 0 4.8 0a2.4 2.4 0 1 0 -4.8 0M823.7 416.8a2.4 2.4 0 1 0 4.8 0a2.4 2.4 0 1 0 -4.8 0M826.0 409.9a2.4 2.4 0 1 0 4.8 0a2.4 2.4 0 1 0 -4.8 0M832.9 407.6a2.4 2.4 0 1 0 4.8 0a2.4 2.4 0 1 0 -4.8 0M835.2 414.5a2.4 2.4 0 1 0 4.8 0a2.4 2.4 0 1 0 -4.8 0M830.6 400.6a2.4 2.4 0 1 0 4.8 0a2.4 2.4 0 1 0 -4.8 0M835.2 398.3a2.4 2.4 0 1 0 4.8 0a2.4 2.4 0 1 0 -4.8 0M821.4 393.7a2.4 2.4 0 1 0 4.8 0a2.4 2.4 0 1 0 -4.8 0M820.2 426.0a2.4 2.4 0 1 0 4.8 0a2.4 2.4 0 1 0 -4.8 0M822.5 442.1a2.4 2.4 0 1 0 4.8 0a2.4 2.4 0 1 0 -4.8 0M807.6 421.4a2.4 2.4 0 1 0 4.8 0a2.4 2.4 0 1 0 -4.8 0M802.9 426.0a2.4 2.4 0 1 0 4.8 0a2.4 2.4 0 1 0 -4.8 0M816.8 430.6a2.4 2.4 0 1 0 4.8 0a2.4 2.4 0 1 0 -4.8 0M852.7 210.0a2.4 2.4 0 1 0 4.8 0a2.4 2.4 0 1 0 -4.8 0M853.5 226.2a2.4 2.4 0 1 0 4.8 0a2.4 2.4 0 1 0 -4.8 0M854.5 232.8a2.4 2.4 0 1 0 4.8 0a2.4 2.4 0 1 0 -4.8 0M847.8 248.3a2.4 2.4 0 1 0 4.8 0a2.4 2.4 0 1 0 -4.8 0M853.5 259.1a2.4 2.4 0 1 0 4.8 0a2.4 2.4 0 1 0 -4.8 0M853.5 277.8a2.4 2.4 0 1 0 4.8 0a2.4 2.4 0 1 0 -4.8 0M852.0 284.5a2.4 2.4 0 1 0 4.8 0a2.4 2.4 0 1 0 -4.8 0M855.2 294.3a2.4 2.4 0 1 0 4.8 0a2.4 2.4 0 1 0 -4.8 0M852.0 299.2a2.4 2.4 0 1 0 4.8 0a2.4 2.4 0 1 0 -4.8 0M847.8 306.6a2.4 2.4 0 1 0 4.8 0a2.4 2.4 0 1 0 -4.8 0M841.2 296.7a2.4 2.4 0 1 0 4.8 0a2.4 2.4 0 1 0 -4.8 0M835.5 314.7a2.4 2.4 0 1 0 4.8 0a2.4 2.4 0 1 0 -4.8 0M842.2 320.1a2.4 2.4 0 1 0 4.8 0a2.4 2.4 0 1 0 -4.8 0M824.5 324.5a2.4 2.4 0 1 0 4.8 0a2.4 2.4 0 1 0 -4.8 0M826.9 334.8a2.4 2.4 0 1 0 4.8 0a2.4 2.4 0 1 0 -4.8 0M823.2 338.5a2.4 2.4 0 1 0 4.8 0a2.4 2.4 0 1 0 -4.8 0M846.6 321.3a2.4 2.4 0 1 0 4.8 0a2.4 2.4 0 1 0 -4.8 0M849.0 320.1a2.4 2.4 0 1 0 4.8 0a2.4 2.4 0 1 0 -4.8 0M851.5 320.1a2.4 2.4 0 1 0 4.8 0a2.4 2.4 0 1 0 -4.8 0M854.0 320.1a2.4 2.4 0 1 0 4.8 0a2.4 2.4 0 1 0 -4.8 0M856.4 320.1a2.4 2.4 0 1 0 4.8 0a2.4 2.4 0 1 0 -4.8 0M861.3 231.6a2.4 2.4 0 1 0 4.8 0a2.4 2.4 0 1 0 -4.8 0M866.2 230.4a2.4 2.4 0 1 0 4.8 0a2.4 2.4 0 1 0 -4.8 0M863.8 207.0a2.4 2.4 0 1 0 4.8 0a2.4 2.4 0 1 0 -4.8 0M867.5 210.7a2.4 2.4 0 1 0 4.8 0a2.4 2.4 0 1 0 -4.8 0M868.7 216.9a2.4 2.4 0 1 0 4.8 0a2.4 2.4 0 1 0 -4.8 0M865.0 250.0a2.4 2.4 0 1 0 4.8 0a2.4 2.4 0 1 0 -4.8 0M863.8 264.8a2.4 2.4 0 1 0 4.8 0a2.4 2.4 0 1 0 -4.8 0M866.2 267.3a2.4 2.4 0 1 0 4.8 0a2.4 2.4 0 1 0 -4.8 0M871.2 268.5a2.4 2.4 0 1 0 4.8 0a2.4 2.4 0 1 0 -4.8 0M868.7 273.4a2.4 2.4 0 1 0 4.8 0a2.4 2.4 0 1 0 -4.8 0M863.8 275.9a2.4 2.4 0 1 0 4.8 0a2.4 2.4 0 1 0 -4.8 0M866.2 278.3a2.4 2.4 0 1 0 4.8 0a2.4 2.4 0 1 0 -4.8 0M861.3 285.7a2.4 2.4 0 1 0 4.8 0a2.4 2.4 0 1 0 -4.8 0M863.8 288.1a2.4 2.4 0 1 0 4.8 0a2.4 2.4 0 1 0 -4.8 0M862.6 300.4a2.4 2.4 0 1 0 4.8 0a2.4 2.4 0 1 0 -4.8 0M873.6 253.7a2.4 2.4 0 1 0 4.8 0a2.4 2.4 0 1 0 -4.8 0M872.4 261.1a2.4 2.4 0 1 0 4.8 0a2.4 2.4 0 1 0 -4.8 0M874.9 241.4a2.4 2.4 0 1 0 4.8 0a2.4 2.4 0 1 0 -4.8 0M873.6 246.4a2.4 2.4 0 1 0 4.8 0a2.4 2.4 0 1 0 -4.8 0M876.1 236.5a2.4 2.4 0 1 0 4.8 0a2.4 2.4 0 1 0 -4.8 0M877.3 229.2a2.4 2.4 0 1 0 4.8 0a2.4 2.4 0 1 0 -4.8 0M873.6 283.2a2.4 2.4 0 1 0 4.8 0a2.4 2.4 0 1 0 -4.8 0M872.4 291.8a2.4 2.4 0 1 0 4.8 0a2.4 2.4 0 1 0 -4.8 0M871.2 307.8a2.4 2.4 0 1 0 4.8 0a2.4 2.4 0 1 0 -4.8 0M861.3 307.8a2.4 2.4 0 1 0 4.8 0a2.4 2.4 0 1 0 -4.8 0M858.9 327.5a2.4 2.4 0 1 0 4.8 0a2.4 2.4 0 1 0 -4.8 0M861.3 337.3a2.4 2.4 0 1 0 4.8 0a2.4 2.4 0 1 0 -4.8 0M849.0 332.4a2.4 2.4 0 1 0 4.8 0a2.4 2.4 0 1 0 -4.8 0M854.0 337.3a2.4 2.4 0 1 0 4.8 0a2.4 2.4 0 1 0 -4.8 0M853.7 210.7a2.4 2.4 0 1 0 4.8 0a2.4 2.4 0 1 0 -4.8 0M852.5 226.7a2.4 2.4 0 1 0 4.8 0a2.4 2.4 0 1 0 -4.8 0M853.7 232.8a2.4 2.4 0 1 0 4.8 0a2.4 2.4 0 1 0 -4.8 0M848.8 247.6a2.4 2.4 0 1 0 4.8 0a2.4 2.4 0 1 0 -4.8 0M853.7 258.6a2.4 2.4 0 1 0 4.8 0a2.4 2.4 0 1 0 -4.8 0M851.3 277.1a2.4 2.4 0 1 0 4.8 0a2.4 2.4 0 1 0 -4.8 0M852.5 283.2a2.4 2.4 0 1 0 4.8 0a2.4 2.4 0 1 0 -4.8 0M855.0 294.3a2.4 2.4 0 1 0 4.8 0a2.4 2.4 0 1 0 -4.8 0M851.3 300.4a2.4 2.4 0 1 0 4.8 0a2.4 2.4 0 1 0 -4.8 0M850.1 310.3a2.4 2.4 0 1 0 4.8 0a2.4 2.4 0 1 0 -4.8 0M852.5 317.6a2.4 2.4 0 1 0 4.8 0a2.4 2.4 0 1 0 -4.8 0M850.1 322.5a2.4 2.4 0 1 0 4.8 0a2.4 2.4 0 1 0 -4.8 0M847.6 332.4a2.4 2.4 0 1 0 4.8 0a2.4 2.4 0 1 0 -4.8 0M857.4 327.5a2.4 2.4 0 1 0 4.8 0a2.4 2.4 0 1 0 -4.8 0M858.7 334.8a2.4 2.4 0 1 0 4.8 0a2.4 2.4 0 1 0 -4.8 0M862.3 230.4a2.4 2.4 0 1 0 4.8 0a2.4 2.4 0 1 0 -4.8 0M864.8 231.6a2.4 2.4 0 1 0 4.8 0a2.4 2.4 0 1 0 -4.8 0M867.3 230.4a2.4 2.4 0 1 0 4.8 0a2.4 2.4 0 1 0 -4.8 0M863.6 207.0a2.4 2.4 0 1 0 4.8 0a2.4 2.4 0 1 0 -4.8 0M867.3 210.7a2.4 2.4 0 1 0 4.8 0a2.4 2.4 0 1 0 -4.8 0M866.0 215.6a2.4 2.4 0 1 0 4.8 0a2.4 2.4 0 1 0 -4.8 0M864.8 251.3a2.4 2.4 0 1 0 4.8 0a2.4 2.4 0 1 0 -4.8 0M863.6 264.8a2.4 2.4 0 1 0 4.8 0a2.4 2.4 0 1 0 -4.8 0M866.0 267.3a2.4 2.4 0 1 0 4.8 0a2.4 2.4 0 1 0 -4.8 0M867.3 273.4a2.4 2.4 0 1 0 4.8 0a2.4 2.4 0 1 0 -4.8 0M863.6 275.9a2.4 2.4 0 1 0 4.8 0a2.4 2.4 0 1 0 -4.8 0M864.8 288.1a2.4 2.4 0 1 0 4.8 0a2.4 2.4 0 1 0 -4.8 0M862.3 291.8a2.4 2.4 0 1 0 4.8 0a2.4 2.4 0 1 0 -4.8 0M862.3 300.4a2.4 2.4 0 1 0 4.8 0a2.4 2.4 0 1 0 -4.8 0M872.2 283.2a2.4 2.4 0 1 0 4.8 0a2.4 2.4 0 1 0 -4.8 0M872.2 290.6a2.4 2.4 0 1 0 4.8 0a2.4 2.4 0 1 0 -4.8 0M869.7 307.8a2.4 2.4 0 1 0 4.8 0a2.4 2.4 0 1 0 -4.8 0M868.5 312.7a2.4 2.4 0 1 0 4.8 0a2.4 2.4 0 1 0 -4.8 0M872.2 239.0a2.4 2.4 0 1 0 4.8 0a2.4 2.4 0 1 0 -4.8 0M874.6 236.5a2.4 2.4 0 1 0 4.8 0a2.4 2.4 0 1 0 -4.8 0M877.1 234.1a2.4 2.4 0 1 0 4.8 0a2.4 2.4 0 1 0 -4.8 0M873.4 243.9a2.4 2.4 0 1 0 4.8 0a2.4 2.4 0 1 0 -4.8 0M875.9 246.4a2.4 2.4 0 1 0 4.8 0a2.4 2.4 0 1 0 -4.8 0M878.3 248.8a2.4 2.4 0 1 0 4.8 0a2.4 2.4 0 1 0 -4.8 0M872.2 253.7a2.4 2.4 0 1 0 4.8 0a2.4 2.4 0 1 0 -4.8 0M874.6 256.2a2.4 2.4 0 1 0 4.8 0a2.4 2.4 0 1 0 -4.8 0M877.1 258.6a2.4 2.4 0 1 0 4.8 0a2.4 2.4 0 1 0 -4.8 0M870.9 261.1a2.4 2.4 0 1 0 4.8 0a2.4 2.4 0 1 0 -4.8 0M873.4 268.5a2.4 2.4 0 1 0 4.8 0a2.4 2.4 0 1 0 -4.8 0M875.9 273.4a2.4 2.4 0 1 0 4.8 0a2.4 2.4 0 1 0 -4.8 0M870.9 270.9a2.4 2.4 0 1 0 4.8 0a2.4 2.4 0 1 0 -4.8 0M879.6 224.2a2.4 2.4 0 1 0 4.8 0a2.4 2.4 0 1 0 -4.8 0M880.8 209.5a2.4 2.4 0 1 0 4.8 0a2.4 2.4 0 1 0 -4.8 0M882.0 212.0a2.4 2.4 0 1 0 4.8 0a2.4 2.4 0 1 0 -4.8 0M880.8 199.7a2.4 2.4 0 1 0 4.8 0a2.4 2.4 0 1 0 -4.8 0M890.6 199.7a2.4 2.4 0 1 0 4.8 0a2.4 2.4 0 1 0 -4.8 0M891.8 194.7a2.4 2.4 0 1 0 4.8 0a2.4 2.4 0 1 0 -4.8 0M890.6 207.0a2.4 2.4 0 1 0 4.8 0a2.4 2.4 0 1 0 -4.8 0M893.1 189.8a2.4 2.4 0 1 0 4.8 0a2.4 2.4 0 1 0 -4.8 0M891.8 184.9a2.4 2.4 0 1 0 4.8 0a2.4 2.4 0 1 0 -4.8 0M894.3 182.5a2.4 2.4 0 1 0 4.8 0a2.4 2.4 0 1 0 -4.8 0M896.8 184.9a2.4 2.4 0 1 0 4.8 0a2.4 2.4 0 1 0 -4.8 0M899.2 182.5a2.4 2.4 0 1 0 4.8 0a2.4 2.4 0 1 0 -4.8 0M884.5 180.0a2.4 2.4 0 1 0 4.8 0a2.4 2.4 0 1 0 -4.8 0M886.9 182.5a2.4 2.4 0 1 0 4.8 0a2.4 2.4 0 1 0 -4.8 0M889.4 180.0a2.4 2.4 0 1 0 4.8 0a2.4 2.4 0 1 0 -4.8 0M909.4 88.0a2.4 2.4 0 1 0 4.8 0a2.4 2.4 0 1 0 -4.8 0M902.9 90.6a2.4 2.4 0 1 0 4.8 0a2.4 2.4 0 1 0 -4.8 0M922.4 100.0a2.4 2.4 0 1 0 4.8 0a2.4 2.4 0 1 0 -4.8 0M884.6 107.8a2.4 2.4 0 1 0 4.8 0a2.4 2.4 0 1 0 -4.8 0M883.3 123.5a2.4 2.4 0 1 0 4.8 0a2.4 2.4 0 1 0 -4.8 0M882.0 129.2a2.4 2.4 0 1 0 4.8 0a2.4 2.4 0 1 0 -4.8 0M904.2 113.6a2.4 2.4 0 1 0 4.8 0a2.4 2.4 0 1 0 -4.8 0M901.5 116.2a2.4 2.4 0 1 0 4.8 0a2.4 2.4 0 1 0 -4.8 0M906.8 121.4a2.4 2.4 0 1 0 4.8 0a2.4 2.4 0 1 0 -4.8 0M914.6 113.6a2.4 2.4 0 1 0 4.8 0a2.4 2.4 0 1 0 -4.8 0M923.7 113.6a2.4 2.4 0 1 0 4.8 0a2.4 2.4 0 1 0 -4.8 0M912.0 124.0a2.4 2.4 0 1 0 4.8 0a2.4 2.4 0 1 0 -4.8 0M919.8 124.0a2.4 2.4 0 1 0 4.8 0a2.4 2.4 0 1 0 -4.8 0M930.3 126.6a2.4 2.4 0 1 0 4.8 0a2.4 2.4 0 1 0 -4.8 0M906.8 131.8a2.4 2.4 0 1 0 4.8 0a2.4 2.4 0 1 0 -4.8 0M912.0 134.5a2.4 2.4 0 1 0 4.8 0a2.4 2.4 0 1 0 -4.8 0M917.2 129.2a2.4 2.4 0 1 0 4.8 0a2.4 2.4 0 1 0 -4.8 0M922.4 134.5a2.4 2.4 0 1 0 4.8 0a2.4 2.4 0 1 0 -4.8 0M927.7 134.5a2.4 2.4 0 1 0 4.8 0a2.4 2.4 0 1 0 -4.8 0M932.9 137.1a2.4 2.4 0 1 0 4.8 0a2.4 2.4 0 1 0 -4.8 0M904.2 139.7a2.4 2.4 0 1 0 4.8 0a2.4 2.4 0 1 0 -4.8 0M909.4 142.3a2.4 2.4 0 1 0 4.8 0a2.4 2.4 0 1 0 -4.8 0M914.6 139.7a2.4 2.4 0 1 0 4.8 0a2.4 2.4 0 1 0 -4.8 0M919.8 142.3a2.4 2.4 0 1 0 4.8 0a2.4 2.4 0 1 0 -4.8 0M925.1 142.3a2.4 2.4 0 1 0 4.8 0a2.4 2.4 0 1 0 -4.8 0M930.3 144.9a2.4 2.4 0 1 0 4.8 0a2.4 2.4 0 1 0 -4.8 0M935.5 144.9a2.4 2.4 0 1 0 4.8 0a2.4 2.4 0 1 0 -4.8 0M901.5 147.5a2.4 2.4 0 1 0 4.8 0a2.4 2.4 0 1 0 -4.8 0M906.8 150.1a2.4 2.4 0 1 0 4.8 0a2.4 2.4 0 1 0 -4.8 0M912.0 150.1a2.4 2.4 0 1 0 4.8 0a2.4 2.4 0 1 0 -4.8 0M917.2 150.1a2.4 2.4 0 1 0 4.8 0a2.4 2.4 0 1 0 -4.8 0M922.4 147.5a2.4 2.4 0 1 0 4.8 0a2.4 2.4 0 1 0 -4.8 0M927.7 150.1a2.4 2.4 0 1 0 4.8 0a2.4 2.4 0 1 0 -4.8 0M932.9 150.1a2.4 2.4 0 1 0 4.8 0a2.4 2.4 0 1 0 -4.8 0M884.6 144.9a2.4 2.4 0 1 0 4.8 0a2.4 2.4 0 1 0 -4.8 0M883.3 158.0a2.4 2.4 0 1 0 4.8 0a2.4 2.4 0 1 0 -4.8 0M879.4 164.5a2.4 2.4 0 1 0 4.8 0a2.4 2.4 0 1 0 -4.8 0M885.9 165.8a2.4 2.4 0 1 0 4.8 0a2.4 2.4 0 1 0 -4.8 0M883.3 173.6a2.4 2.4 0 1 0 4.8 0a2.4 2.4 0 1 0 -4.8 0M887.2 176.2a2.4 2.4 0 1 0 4.8 0a2.4 2.4 0 1 0 -4.8 0M891.1 173.6a2.4 2.4 0 1 0 4.8 0a2.4 2.4 0 1 0 -4.8 0M893.7 178.8a2.4 2.4 0 1 0 4.8 0a2.4 2.4 0 1 0 -4.8 0M896.3 176.2a2.4 2.4 0 1 0 4.8 0a2.4 2.4 0 1 0 -4.8 0M898.9 171.0a2.4 2.4 0 1 0 4.8 0a2.4 2.4 0 1 0 -4.8 0M901.5 158.0a2.4 2.4 0 1 0 4.8 0a2.4 2.4 0 1 0 -4.8 0M904.2 160.6a2.4 2.4 0 1 0 4.8 0a2.4 2.4 0 1 0 -4.8 0M919.8 158.0a2.4 2.4 0 1 0 4.8 0a2.4 2.4 0 1 0 -4.8 0M922.4 155.3a2.4 2.4 0 1 0 4.8 0a2.4 2.4 0 1 0 -4.8 0M935.5 163.2a2.4 2.4 0 1 0 4.8 0a2.4 2.4 0 1 0 -4.8 0M888.5 184.1a2.4 2.4 0 1 0 4.8 0a2.4 2.4 0 1 0 -4.8 0M893.7 184.1a2.4 2.4 0 1 0 4.8 0a2.4 2.4 0 1 0 -4.8 0M898.9 186.7a2.4 2.4 0 1 0 4.8 0a2.4 2.4 0 1 0 -4.8 0M891.1 191.9a2.4 2.4 0 1 0 4.8 0a2.4 2.4 0 1 0 -4.8 0M892.4 197.1a2.4 2.4 0 1 0 4.8 0a2.4 2.4 0 1 0 -4.8 0M880.7 194.5a2.4 2.4 0 1 0 4.8 0a2.4 2.4 0 1 0 -4.8 0M948.6 126.6a2.4 2.4 0 1 0 4.8 0a2.4 2.4 0 1 0 -4.8 0M948.6 176.2a2.4 2.4 0 1 0 4.8 0a2.4 2.4 0 1 0 -4.8 0M949.9 197.1a2.4 2.4 0 1 0 4.8 0a2.4 2.4 0 1 0 -4.8 0M885.9 181.5a2.4 2.4 0 1 0 4.8 0a2.4 2.4 0 1 0 -4.8 0M1022.9 44.7a2.4 2.4 0 1 0 4.8 0a2.4 2.4 0 1 0 -4.8 0M1022.9 112.9a2.4 2.4 0 1 0 4.8 0a2.4 2.4 0 1 0 -4.8 0M1036.7 115.4a2.4 2.4 0 1 0 4.8 0a2.4 2.4 0 1 0 -4.8 0M1024.4 120.6a2.4 2.4 0 1 0 4.8 0a2.4 2.4 0 1 0 -4.8 0M1022.9 128.3a2.4 2.4 0 1 0 4.8 0a2.4 2.4 0 1 0 -4.8 0M1025.9 131.4a2.4 2.4 0 1 0 4.8 0a2.4 2.4 0 1 0 -4.8 0M1036.7 129.8a2.4 2.4 0 1 0 4.8 0a2.4 2.4 0 1 0 -4.8 0M1024.4 134.5a2.4 2.4 0 1 0 4.8 0a2.4 2.4 0 1 0 -4.8 0M1027.5 146.7a2.4 2.4 0 1 0 4.8 0a2.4 2.4 0 1 0 -4.8 0M1033.6 142.1a2.4 2.4 0 1 0 4.8 0a2.4 2.4 0 1 0 -4.8 0M1030.5 152.9a2.4 2.4 0 1 0 4.8 0a2.4 2.4 0 1 0 -4.8 0M1036.7 151.4a2.4 2.4 0 1 0 4.8 0a2.4 2.4 0 1 0 -4.8 0M1029.0 159.0a2.4 2.4 0 1 0 4.8 0a2.4 2.4 0 1 0 -4.8 0M1032.1 165.2a2.4 2.4 0 1 0 4.8 0a2.4 2.4 0 1 0 -4.8 0M1035.2 171.3a2.4 2.4 0 1 0 4.8 0a2.4 2.4 0 1 0 -4.8 0M1027.5 171.3a2.4 2.4 0 1 0 4.8 0a2.4 2.4 0 1 0 -4.8 0M1030.5 177.5a2.4 2.4 0 1 0 4.8 0a2.4 2.4 0 1 0 -4.8 0M1036.7 177.5a2.4 2.4 0 1 0 4.8 0a2.4 2.4 0 1 0 -4.8 0M1039.8 183.6a2.4 2.4 0 1 0 4.8 0a2.4 2.4 0 1 0 -4.8 0M1029.0 183.6a2.4 2.4 0 1 0 4.8 0a2.4 2.4 0 1 0 -4.8 0M1027.5 189.8a2.4 2.4 0 1 0 4.8 0a2.4 2.4 0 1 0 -4.8 0M1033.6 189.8a2.4 2.4 0 1 0 4.8 0a2.4 2.4 0 1 0 -4.8 0M1039.8 192.8a2.4 2.4 0 1 0 4.8 0a2.4 2.4 0 1 0 -4.8 0M1030.5 197.4a2.4 2.4 0 1 0 4.8 0a2.4 2.4 0 1 0 -4.8 0M1036.7 199.0a2.4 2.4 0 1 0 4.8 0a2.4 2.4 0 1 0 -4.8 0M1039.8 205.1a2.4 2.4 0 1 0 4.8 0a2.4 2.4 0 1 0 -4.8 0M1035.2 208.2a2.4 2.4 0 1 0 4.8 0a2.4 2.4 0 1 0 -4.8 0M1041.3 211.3a2.4 2.4 0 1 0 4.8 0a2.4 2.4 0 1 0 -4.8 0M1042.8 217.4a2.4 2.4 0 1 0 4.8 0a2.4 2.4 0 1 0 -4.8 0M1042.8 223.5a2.4 2.4 0 1 0 4.8 0a2.4 2.4 0 1 0 -4.8 0M1041.3 228.2a2.4 2.4 0 1 0 4.8 0a2.4 2.4 0 1 0 -4.8 0M1027.8 182.9a2.4 2.4 0 1 0 4.8 0a2.4 2.4 0 1 0 -4.8 0M1029.3 188.8a2.4 2.4 0 1 0 4.8 0a2.4 2.4 0 1 0 -4.8 0M1030.7 194.6a2.4 2.4 0 1 0 4.8 0a2.4 2.4 0 1 0 -4.8 0M1029.3 200.4a2.4 2.4 0 1 0 4.8 0a2.4 2.4 0 1 0 -4.8 0M1035.1 185.8a2.4 2.4 0 1 0 4.8 0a2.4 2.4 0 1 0 -4.8 0M1038.0 185.8a2.4 2.4 0 1 0 4.8 0a2.4 2.4 0 1 0 -4.8 0M1039.5 182.9a2.4 2.4 0 1 0 4.8 0a2.4 2.4 0 1 0 -4.8 0M1036.6 197.5a2.4 2.4 0 1 0 4.8 0a2.4 2.4 0 1 0 -4.8 0M1038.0 209.2a2.4 2.4 0 1 0 4.8 0a2.4 2.4 0 1 0 -4.8 0M1039.5 203.3a2.4 2.4 0 1 0 4.8 0a2.4 2.4 0 1 0 -4.8 0M1042.4 215.0a2.4 2.4 0 1 0 4.8 0a2.4 2.4 0 1 0 -4.8 0M1043.9 223.8a2.4 2.4 0 1 0 4.8 0a2.4 2.4 0 1 0 -4.8 0M1043.9 231.1a2.4 2.4 0 1 0 4.8 0a2.4 2.4 0 1 0 -4.8 0M1045.3 267.6a2.4 2.4 0 1 0 4.8 0a2.4 2.4 0 1 0 -4.8 0M1046.8 273.4a2.4 2.4 0 1 0 4.8 0a2.4 2.4 0 1 0 -4.8 0M1048.2 270.5a2.4 2.4 0 1 0 4.8 0a2.4 2.4 0 1 0 -4.8 0M1049.7 267.6a2.4 2.4 0 1 0 4.8 0a2.4 2.4 0 1 0 -4.8 0M1052.6 267.6a2.4 2.4 0 1 0 4.8 0a2.4 2.4 0 1 0 -4.8 0M1046.8 279.2a2.4 2.4 0 1 0 4.8 0a2.4 2.4 0 1 0 -4.8 0M1049.7 282.2a2.4 2.4 0 1 0 4.8 0a2.4 2.4 0 1 0 -4.8 0M1052.6 276.3a2.4 2.4 0 1 0 4.8 0a2.4 2.4 0 1 0 -4.8 0M1054.1 285.1a2.4 2.4 0 1 0 4.8 0a2.4 2.4 0 1 0 -4.8 0M1046.8 290.9a2.4 2.4 0 1 0 4.8 0a2.4 2.4 0 1 0 -4.8 0M1052.6 290.9a2.4 2.4 0 1 0 4.8 0a2.4 2.4 0 1 0 -4.8 0M1054.1 296.7a2.4 2.4 0 1 0 4.8 0a2.4 2.4 0 1 0 -4.8 0M1051.2 302.6a2.4 2.4 0 1 0 4.8 0a2.4 2.4 0 1 0 -4.8 0M1055.5 305.5a2.4 2.4 0 1 0 4.8 0a2.4 2.4 0 1 0 -4.8 0M1052.6 311.3a2.4 2.4 0 1 0 4.8 0a2.4 2.4 0 1 0 -4.8 0M1057.0 317.2a2.4 2.4 0 1 0 4.8 0a2.4 2.4 0 1 0 -4.8 0M1058.5 323.0a2.4 2.4 0 1 0 4.8 0a2.4 2.4 0 1 0 -4.8 0M1057.0 330.3a2.4 2.4 0 1 0 4.8 0a2.4 2.4 0 1 0 -4.8 0M1059.9 331.8a2.4 2.4 0 1 0 4.8 0a2.4 2.4 0 1 0 -4.8 0M1064.3 331.8a2.4 2.4 0 1 0 4.8 0a2.4 2.4 0 1 0 -4.8 0M1061.4 337.6a2.4 2.4 0 1 0 4.8 0a2.4 2.4 0 1 0 -4.8 0M1059.9 343.4a2.4 2.4 0 1 0 4.8 0a2.4 2.4 0 1 0 -4.8 0M1064.3 343.4a2.4 2.4 0 1 0 4.8 0a2.4 2.4 0 1 0 -4.8 0M1067.2 340.5a2.4 2.4 0 1 0 4.8 0a2.4 2.4 0 1 0 -4.8 0M1061.4 349.3a2.4 2.4 0 1 0 4.8 0a2.4 2.4 0 1 0 -4.8 0M1064.3 352.2a2.4 2.4 0 1 0 4.8 0a2.4 2.4 0 1 0 -4.8 0M1070.1 346.4a2.4 2.4 0 1 0 4.8 0a2.4 2.4 0 1 0 -4.8 0M1068.7 352.2a2.4 2.4 0 1 0 4.8 0a2.4 2.4 0 1 0 -4.8 0M1073.1 355.1a2.4 2.4 0 1 0 4.8 0a2.4 2.4 0 1 0 -4.8 0M1076.0 358.0a2.4 2.4 0 1 0 4.8 0a2.4 2.4 0 1 0 -4.8 0M1078.9 355.1a2.4 2.4 0 1 0 4.8 0a2.4 2.4 0 1 0 -4.8 0M1081.8 346.4a2.4 2.4 0 1 0 4.8 0a2.4 2.4 0 1 0 -4.8 0M1080.3 352.2a2.4 2.4 0 1 0 4.8 0a2.4 2.4 0 1 0 -4.8 0M1076.0 363.9a2.4 2.4 0 1 0 4.8 0a2.4 2.4 0 1 0 -4.8 0M1071.6 366.8a2.4 2.4 0 1 0 4.8 0a2.4 2.4 0 1 0 -4.8 0M1067.2 361.0a2.4 2.4 0 1 0 4.8 0a2.4 2.4 0 1 0 -4.8 0M1064.3 366.8a2.4 2.4 0 1 0 4.8 0a2.4 2.4 0 1 0 -4.8 0M1081.8 363.9a2.4 2.4 0 1 0 4.8 0a2.4 2.4 0 1 0 -4.8 0M1084.7 366.8a2.4 2.4 0 1 0 4.8 0a2.4 2.4 0 1 0 -4.8 0M1273.3 340.4a2.4 2.4 0 1 0 4.8 0a2.4 2.4 0 1 0 -4.8 0M1301.2 339.1a2.4 2.4 0 1 0 4.8 0a2.4 2.4 0 1 0 -4.8 0M1310.9 348.7a2.4 2.4 0 1 0 4.8 0a2.4 2.4 0 1 0 -4.8 0M1312.9 359.2a2.4 2.4 0 1 0 4.8 0a2.4 2.4 0 1 0 -4.8 0M1298.6 361.8a2.4 2.4 0 1 0 4.8 0a2.4 2.4 0 1 0 -4.8 0M1232.0 402.3a2.4 2.4 0 1 0 4.8 0a2.4 2.4 0 1 0 -4.8 0M1249.8 404.9a2.4 2.4 0 1 0 4.8 0a2.4 2.4 0 1 0 -4.8 0M1273.8 404.9a2.4 2.4 0 1 0 4.8 0a2.4 2.4 0 1 0 -4.8 0M1280.3 397.0a2.4 2.4 0 1 0 4.8 0a2.4 2.4 0 1 0 -4.8 0M1281.6 397.8a2.4 2.4 0 1 0 4.8 0a2.4 2.4 0 1 0 -4.8 0M1318.2 376.9a2.4 2.4 0 1 0 4.8 0a2.4 2.4 0 1 0 -4.8 0M1310.3 380.6a2.4 2.4 0 1 0 4.8 0a2.4 2.4 0 1 0 -4.8 0M1314.3 384.0a2.4 2.4 0 1 0 4.8 0a2.4 2.4 0 1 0 -4.8 0M1302.5 391.8a2.4 2.4 0 1 0 4.8 0a2.4 2.4 0 1 0 -4.8 0M1307.7 390.5a2.4 2.4 0 1 0 4.8 0a2.4 2.4 0 1 0 -4.8 0M1312.9 393.1a2.4 2.4 0 1 0 4.8 0a2.4 2.4 0 1 0 -4.8 0M1318.2 390.5a2.4 2.4 0 1 0 4.8 0a2.4 2.4 0 1 0 -4.8 0M1299.9 398.3a2.4 2.4 0 1 0 4.8 0a2.4 2.4 0 1 0 -4.8 0M1305.1 398.3a2.4 2.4 0 1 0 4.8 0a2.4 2.4 0 1 0 -4.8 0M1310.3 398.3a2.4 2.4 0 1 0 4.8 0a2.4 2.4 0 1 0 -4.8 0M1315.6 398.3a2.4 2.4 0 1 0 4.8 0a2.4 2.4 0 1 0 -4.8 0M1320.8 401.0a2.4 2.4 0 1 0 4.8 0a2.4 2.4 0 1 0 -4.8 0M1299.9 406.2a2.4 2.4 0 1 0 4.8 0a2.4 2.4 0 1 0 -4.8 0M1305.1 406.2a2.4 2.4 0 1 0 4.8 0a2.4 2.4 0 1 0 -4.8 0M1310.3 406.2a2.4 2.4 0 1 0 4.8 0a2.4 2.4 0 1 0 -4.8 0M1315.6 406.2a2.4 2.4 0 1 0 4.8 0a2.4 2.4 0 1 0 -4.8 0M1320.8 406.2a2.4 2.4 0 1 0 4.8 0a2.4 2.4 0 1 0 -4.8 0M1294.7 416.6a2.4 2.4 0 1 0 4.8 0a2.4 2.4 0 1 0 -4.8 0M1299.9 416.6a2.4 2.4 0 1 0 4.8 0a2.4 2.4 0 1 0 -4.8 0M1305.1 414.0a2.4 2.4 0 1 0 4.8 0a2.4 2.4 0 1 0 -4.8 0M1310.3 411.4a2.4 2.4 0 1 0 4.8 0a2.4 2.4 0 1 0 -4.8 0M1315.6 414.0a2.4 2.4 0 1 0 4.8 0a2.4 2.4 0 1 0 -4.8 0M1320.8 414.0a2.4 2.4 0 1 0 4.8 0a2.4 2.4 0 1 0 -4.8 0M1297.3 424.5a2.4 2.4 0 1 0 4.8 0a2.4 2.4 0 1 0 -4.8 0M1302.5 427.1a2.4 2.4 0 1 0 4.8 0a2.4 2.4 0 1 0 -4.8 0M1307.7 424.5a2.4 2.4 0 1 0 4.8 0a2.4 2.4 0 1 0 -4.8 0M1312.9 424.5a2.4 2.4 0 1 0 4.8 0a2.4 2.4 0 1 0 -4.8 0M1318.2 424.5a2.4 2.4 0 1 0 4.8 0a2.4 2.4 0 1 0 -4.8 0M1320.8 419.2a2.4 2.4 0 1 0 4.8 0a2.4 2.4 0 1 0 -4.8 0M1233.3 421.8a2.4 2.4 0 1 0 4.8 0a2.4 2.4 0 1 0 -4.8 0M1247.7 417.9a2.4 2.4 0 1 0 4.8 0a2.4 2.4 0 1 0 -4.8 0M1254.2 423.1a2.4 2.4 0 1 0 4.8 0a2.4 2.4 0 1 0 -4.8 0M1258.1 424.5a2.4 2.4 0 1 0 4.8 0a2.4 2.4 0 1 0 -4.8 0M1277.7 419.2a2.4 2.4 0 1 0 4.8 0a2.4 2.4 0 1 0 -4.8 0M1279.0 424.5a2.4 2.4 0 1 0 4.8 0a2.4 2.4 0 1 0 -4.8 0M1290.7 425.8a2.4 2.4 0 1 0 4.8 0a2.4 2.4 0 1 0 -4.8 0M1322.1 433.6a2.4 2.4 0 1 0 4.8 0a2.4 2.4 0 1 0 -4.8 0M1323.4 442.7a2.4 2.4 0 1 0 4.8 0a2.4 2.4 0 1 0 -4.8 0M1322.1 450.6a2.4 2.4 0 1 0 4.8 0a2.4 2.4 0 1 0 -4.8 0M1323.4 455.8a2.4 2.4 0 1 0 4.8 0a2.4 2.4 0 1 0 -4.8 0M1306.4 449.3a2.4 2.4 0 1 0 4.8 0a2.4 2.4 0 1 0 -4.8 0M1265.9 431.0a2.4 2.4 0 1 0 4.8 0a2.4 2.4 0 1 0 -4.8 0M1271.2 433.6a2.4 2.4 0 1 0 4.8 0a2.4 2.4 0 1 0 -4.8 0M1268.6 437.5a2.4 2.4 0 1 0 4.8 0a2.4 2.4 0 1 0 -4.8 0M1273.8 440.1a2.4 2.4 0 1 0 4.8 0a2.4 2.4 0 1 0 -4.8 0M1279.0 432.3a2.4 2.4 0 1 0 4.8 0a2.4 2.4 0 1 0 -4.8 0M1286.8 440.1a2.4 2.4 0 1 0 4.8 0a2.4 2.4 0 1 0 -4.8 0M1292.1 434.9a2.4 2.4 0 1 0 4.8 0a2.4 2.4 0 1 0 -4.8 0M1297.3 434.9a2.4 2.4 0 1 0 4.8 0a2.4 2.4 0 1 0 -4.8 0M1265.9 442.7a2.4 2.4 0 1 0 4.8 0a2.4 2.4 0 1 0 -4.8 0M1271.2 445.3a2.4 2.4 0 1 0 4.8 0a2.4 2.4 0 1 0 -4.8 0M1255.5 440.1a2.4 2.4 0 1 0 4.8 0a2.4 2.4 0 1 0 -4.8 0M1250.3 442.7a2.4 2.4 0 1 0 4.8 0a2.4 2.4 0 1 0 -4.8 0M1245.1 442.7a2.4 2.4 0 1 0 4.8 0a2.4 2.4 0 1 0 -4.8 0M1239.8 445.3a2.4 2.4 0 1 0 4.8 0a2.4 2.4 0 1 0 -4.8 0M1234.6 448.0a2.4 2.4 0 1 0 4.8 0a2.4 2.4 0 1 0 -4.8 0M1237.2 450.6a2.4 2.4 0 1 0 4.8 0a2.4 2.4 0 1 0 -4.8 0M1242.4 453.2a2.4 2.4 0 1 0 4.8 0a2.4 2.4 0 1 0 -4.8 0M1247.7 450.6a2.4 2.4 0 1 0 4.8 0a2.4 2.4 0 1 0 -4.8 0M1252.9 453.2a2.4 2.4 0 1 0 4.8 0a2.4 2.4 0 1 0 -4.8 0M1258.1 448.0a2.4 2.4 0 1 0 4.8 0a2.4 2.4 0 1 0 -4.8 0M1263.3 453.2a2.4 2.4 0 1 0 4.8 0a2.4 2.4 0 1 0 -4.8 0M1234.6 458.4a2.4 2.4 0 1 0 4.8 0a2.4 2.4 0 1 0 -4.8 0M1239.8 461.0a2.4 2.4 0 1 0 4.8 0a2.4 2.4 0 1 0 -4.8 0M1245.1 458.4a2.4 2.4 0 1 0 4.8 0a2.4 2.4 0 1 0 -4.8 0M1250.3 461.0a2.4 2.4 0 1 0 4.8 0a2.4 2.4 0 1 0 -4.8 0M1255.5 458.4a2.4 2.4 0 1 0 4.8 0a2.4 2.4 0 1 0 -4.8 0M1260.7 461.0a2.4 2.4 0 1 0 4.8 0a2.4 2.4 0 1 0 -4.8 0M1265.9 458.4a2.4 2.4 0 1 0 4.8 0a2.4 2.4 0 1 0 -4.8 0M1271.2 458.4a2.4 2.4 0 1 0 4.8 0a2.4 2.4 0 1 0 -4.8 0M1276.4 458.4a2.4 2.4 0 1 0 4.8 0a2.4 2.4 0 1 0 -4.8 0M1281.6 461.0a2.4 2.4 0 1 0 4.8 0a2.4 2.4 0 1 0 -4.8 0M1286.8 461.0a2.4 2.4 0 1 0 4.8 0a2.4 2.4 0 1 0 -4.8 0M1292.1 461.0a2.4 2.4 0 1 0 4.8 0a2.4 2.4 0 1 0 -4.8 0M1297.3 458.4a2.4 2.4 0 1 0 4.8 0a2.4 2.4 0 1 0 -4.8 0M1234.6 466.2a2.4 2.4 0 1 0 4.8 0a2.4 2.4 0 1 0 -4.8 0M1239.8 466.2a2.4 2.4 0 1 0 4.8 0a2.4 2.4 0 1 0 -4.8 0M1245.1 466.2a2.4 2.4 0 1 0 4.8 0a2.4 2.4 0 1 0 -4.8 0M1250.3 468.8a2.4 2.4 0 1 0 4.8 0a2.4 2.4 0 1 0 -4.8 0M1255.5 468.8a2.4 2.4 0 1 0 4.8 0a2.4 2.4 0 1 0 -4.8 0M1260.7 466.2a2.4 2.4 0 1 0 4.8 0a2.4 2.4 0 1 0 -4.8 0M1265.9 463.6a2.4 2.4 0 1 0 4.8 0a2.4 2.4 0 1 0 -4.8 0M1273.8 463.6a2.4 2.4 0 1 0 4.8 0a2.4 2.4 0 1 0 -4.8 0M1279.0 466.2a2.4 2.4 0 1 0 4.8 0a2.4 2.4 0 1 0 -4.8 0M1284.2 466.2a2.4 2.4 0 1 0 4.8 0a2.4 2.4 0 1 0 -4.8 0M1289.4 466.2a2.4 2.4 0 1 0 4.8 0a2.4 2.4 0 1 0 -4.8 0M1294.7 468.8a2.4 2.4 0 1 0 4.8 0a2.4 2.4 0 1 0 -4.8 0M1299.9 463.6a2.4 2.4 0 1 0 4.8 0a2.4 2.4 0 1 0 -4.8 0M1259.4 476.7a2.4 2.4 0 1 0 4.8 0a2.4 2.4 0 1 0 -4.8 0M1275.1 474.6a2.4 2.4 0 1 0 4.8 0a2.4 2.4 0 1 0 -4.8 0M1250.3 471.5a2.4 2.4 0 1 0 4.8 0a2.4 2.4 0 1 0 -4.8 0M1297.3 450.6a2.4 2.4 0 1 0 4.8 0a2.4 2.4 0 1 0 -4.8 0M1292.1 450.6a2.4 2.4 0 1 0 4.8 0a2.4 2.4 0 1 0 -4.8 0M1286.8 450.6a2.4 2.4 0 1 0 4.8 0a2.4 2.4 0 1 0 -4.8 0M1281.6 450.6a2.4 2.4 0 1 0 4.8 0a2.4 2.4 0 1 0 -4.8 0M1276.4 450.6a2.4 2.4 0 1 0 4.8 0a2.4 2.4 0 1 0 -4.8 0M1271.2 450.6a2.4 2.4 0 1 0 4.8 0a2.4 2.4 0 1 0 -4.8 0M1302.5 440.1a2.4 2.4 0 1 0 4.8 0a2.4 2.4 0 1 0 -4.8 0M1307.7 434.9a2.4 2.4 0 1 0 4.8 0a2.4 2.4 0 1 0 -4.8 0M1299.9 432.3a2.4 2.4 0 1 0 4.8 0a2.4 2.4 0 1 0 -4.8 0M593.3 353.0a2.4 2.4 0 1 0 4.8 0a2.4 2.4 0 1 0 -4.8 0M571.9 323.8a2.4 2.4 0 1 0 4.8 0a2.4 2.4 0 1 0 -4.8 0M578.4 351.1a2.4 2.4 0 1 0 4.8 0a2.4 2.4 0 1 0 -4.8 0M590.2 356.2a2.4 2.4 0 1 0 4.8 0a2.4 2.4 0 1 0 -4.8 0M579.3 337.8a2.4 2.4 0 1 0 4.8 0a2.4 2.4 0 1 0 -4.8 0M578.5 353.7a2.4 2.4 0 1 0 4.8 0a2.4 2.4 0 1 0 -4.8 0M573.3 344.9a2.4 2.4 0 1 0 4.8 0a2.4 2.4 0 1 0 -4.8 0M605.3 371.1a2.4 2.4 0 1 0 4.8 0a2.4 2.4 0 1 0 -4.8 0M583.0 362.5a2.4 2.4 0 1 0 4.8 0a2.4 2.4 0 1 0 -4.8 0M613.9 380.5a2.4 2.4 0 1 0 4.8 0a2.4 2.4 0 1 0 -4.8 0M593.8 362.6a2.4 2.4 0 1 0 4.8 0a2.4 2.4 0 1 0 -4.8 0M604.3 368.6a2.4 2.4 0 1 0 4.8 0a2.4 2.4 0 1 0 -4.8 0M586.8 352.2a2.4 2.4 0 1 0 4.8 0a2.4 2.4 0 1 0 -4.8 0M594.6 349.1a2.4 2.4 0 1 0 4.8 0a2.4 2.4 0 1 0 -4.8 0M597.6 353.6a2.4 2.4 0 1 0 4.8 0a2.4 2.4 0 1 0 -4.8 0M581.2 359.8a2.4 2.4 0 1 0 4.8 0a2.4 2.4 0 1 0 -4.8 0M596.8 351.3a2.4 2.4 0 1 0 4.8 0a2.4 2.4 0 1 0 -4.8 0M593.8 355.4a2.4 2.4 0 1 0 4.8 0a2.4 2.4 0 1 0 -4.8 0M599.5 353.6a2.4 2.4 0 1 0 4.8 0a2.4 2.4 0 1 0 -4.8 0M612.7 377.1a2.4 2.4 0 1 0 4.8 0a2.4 2.4 0 1 0 -4.8 0M609.3 378.4a2.4 2.4 0 1 0 4.8 0a2.4 2.4 0 1 0 -4.8 0M575.8 340.7a2.4 2.4 0 1 0 4.8 0a2.4 2.4 0 1 0 -4.8 0M584.0 354.6a2.4 2.4 0 1 0 4.8 0a2.4 2.4 0 1 0 -4.8 0M603.0 359.6a2.4 2.4 0 1 0 4.8 0a2.4 2.4 0 1 0 -4.8 0M587.9 361.7a2.4 2.4 0 1 0 4.8 0a2.4 2.4 0 1 0 -4.8 0M584.0 365.5a2.4 2.4 0 1 0 4.8 0a2.4 2.4 0 1 0 -4.8 0M582.7 356.5a2.4 2.4 0 1 0 4.8 0a2.4 2.4 0 1 0 -4.8 0M577.6 344.5a2.4 2.4 0 1 0 4.8 0a2.4 2.4 0 1 0 -4.8 0M571.4 333.6a2.4 2.4 0 1 0 4.8 0a2.4 2.4 0 1 0 -4.8 0M617.7 383.3a2.4 2.4 0 1 0 4.8 0a2.4 2.4 0 1 0 -4.8 0M572.4 324.5a2.4 2.4 0 1 0 4.8 0a2.4 2.4 0 1 0 -4.8 0M585.0 364.4a2.4 2.4 0 1 0 4.8 0a2.4 2.4 0 1 0 -4.8 0M571.2 340.3a2.4 2.4 0 1 0 4.8 0a2.4 2.4 0 1 0 -4.8 0M569.0 338.4a2.4 2.4 0 1 0 4.8 0a2.4 2.4 0 1 0 -4.8 0M573.0 333.4a2.4 2.4 0 1 0 4.8 0a2.4 2.4 0 1 0 -4.8 0M580.4 354.9a2.4 2.4 0 1 0 4.8 0a2.4 2.4 0 1 0 -4.8 0M598.6 353.0a2.4 2.4 0 1 0 4.8 0a2.4 2.4 0 1 0 -4.8 0M615.5 389.0a2.4 2.4 0 1 0 4.8 0a2.4 2.4 0 1 0 -4.8 0M603.5 367.7a2.4 2.4 0 1 0 4.8 0a2.4 2.4 0 1 0 -4.8 0M580.7 359.3a2.4 2.4 0 1 0 4.8 0a2.4 2.4 0 1 0 -4.8 0M571.2 341.3a2.4 2.4 0 1 0 4.8 0a2.4 2.4 0 1 0 -4.8 0M584.7 359.5a2.4 2.4 0 1 0 4.8 0a2.4 2.4 0 1 0 -4.8 0M597.7 363.1a2.4 2.4 0 1 0 4.8 0a2.4 2.4 0 1 0 -4.8 0M611.6 373.5a2.4 2.4 0 1 0 4.8 0a2.4 2.4 0 1 0 -4.8 0M604.9 368.1a2.4 2.4 0 1 0 4.8 0a2.4 2.4 0 1 0 -4.8 0M596.1 359.3a2.4 2.4 0 1 0 4.8 0a2.4 2.4 0 1 0 -4.8 0M573.6 339.8a2.4 2.4 0 1 0 4.8 0a2.4 2.4 0 1 0 -4.8 0M588.2 364.3a2.4 2.4 0 1 0 4.8 0a2.4 2.4 0 1 0 -4.8 0M595.0 356.5a2.4 2.4 0 1 0 4.8 0a2.4 2.4 0 1 0 -4.8 0M601.4 352.2a2.4 2.4 0 1 0 4.8 0a2.4 2.4 0 1 0 -4.8 0M579.6 356.1a2.4 2.4 0 1 0 4.8 0a2.4 2.4 0 1 0 -4.8 0M588.8 360.7a2.4 2.4 0 1 0 4.8 0a2.4 2.4 0 1 0 -4.8 0M615.2 385.4a2.4 2.4 0 1 0 4.8 0a2.4 2.4 0 1 0 -4.8 0M569.5 326.8a2.4 2.4 0 1 0 4.8 0a2.4 2.4 0 1 0 -4.8 0M606.1 363.0a2.4 2.4 0 1 0 4.8 0a2.4 2.4 0 1 0 -4.8 0M612.5 383.9a2.4 2.4 0 1 0 4.8 0a2.4 2.4 0 1 0 -4.8 0M576.3 339.2a2.4 2.4 0 1 0 4.8 0a2.4 2.4 0 1 0 -4.8 0M585.4 357.5a2.4 2.4 0 1 0 4.8 0a2.4 2.4 0 1 0 -4.8 0M575.7 344.4a2.4 2.4 0 1 0 4.8 0a2.4 2.4 0 1 0 -4.8 0M598.9 350.1a2.4 2.4 0 1 0 4.8 0a2.4 2.4 0 1 0 -4.8 0M573.2 342.3a2.4 2.4 0 1 0 4.8 0a2.4 2.4 0 1 0 -4.8 0M600.3 363.8a2.4 2.4 0 1 0 4.8 0a2.4 2.4 0 1 0 -4.8 0M582.1 359.4a2.4 2.4 0 1 0 4.8 0a2.4 2.4 0 1 0 -4.8 0M581.4 362.4a2.4 2.4 0 1 0 4.8 0a2.4 2.4 0 1 0 -4.8 0M609.0 377.8a2.4 2.4 0 1 0 4.8 0a2.4 2.4 0 1 0 -4.8 0M597.4 343.4a2.4 2.4 0 1 0 4.8 0a2.4 2.4 0 1 0 -4.8 0M593.7 346.5a2.4 2.4 0 1 0 4.8 0a2.4 2.4 0 1 0 -4.8 0M590.4 353.0a2.4 2.4 0 1 0 4.8 0a2.4 2.4 0 1 0 -4.8 0M583.1 349.5a2.4 2.4 0 1 0 4.8 0a2.4 2.4 0 1 0 -4.8 0M608.6 369.2a2.4 2.4 0 1 0 4.8 0a2.4 2.4 0 1 0 -4.8 0M578.7 317.6a2.4 2.4 0 1 0 4.8 0a2.4 2.4 0 1 0 -4.8 0M575.3 359.0a2.4 2.4 0 1 0 4.8 0a2.4 2.4 0 1 0 -4.8 0M593.9 367.5a2.4 2.4 0 1 0 4.8 0a2.4 2.4 0 1 0 -4.8 0M590.5 332.0a2.4 2.4 0 1 0 4.8 0a2.4 2.4 0 1 0 -4.8 0M618.4 396.2a2.4 2.4 0 1 0 4.8 0a2.4 2.4 0 1 0 -4.8 0M620.1 404.6a2.4 2.4 0 1 0 4.8 0a2.4 2.4 0 1 0 -4.8 0M621.0 411.4a2.4 2.4 0 1 0 4.8 0a2.4 2.4 0 1 0 -4.8 0M625.2 412.2a2.4 2.4 0 1 0 4.8 0a2.4 2.4 0 1 0 -4.8 0M625.2 406.3a2.4 2.4 0 1 0 4.8 0a2.4 2.4 0 1 0 -4.8 0M626.0 385.2a2.4 2.4 0 1 0 4.8 0a2.4 2.4 0 1 0 -4.8 0M624.3 391.1a2.4 2.4 0 1 0 4.8 0a2.4 2.4 0 1 0 -4.8 0M622.7 397.9a2.4 2.4 0 1 0 4.8 0a2.4 2.4 0 1 0 -4.8 0M585.5 368.3a2.4 2.4 0 1 0 4.8 0a2.4 2.4 0 1 0 -4.8 0M582.9 362.4a2.4 2.4 0 1 0 4.8 0a2.4 2.4 0 1 0 -4.8 0M588.0 360.7a2.4 2.4 0 1 0 4.8 0a2.4 2.4 0 1 0 -4.8 0M918.2 138.0a2.4 2.4 0 1 0 4.8 0a2.4 2.4 0 1 0 -4.8 0M914.0 119.5a2.4 2.4 0 1 0 4.8 0a2.4 2.4 0 1 0 -4.8 0M922.1 147.8a2.4 2.4 0 1 0 4.8 0a2.4 2.4 0 1 0 -4.8 0M930.6 132.3a2.4 2.4 0 1 0 4.8 0a2.4 2.4 0 1 0 -4.8 0M930.8 128.0a2.4 2.4 0 1 0 4.8 0a2.4 2.4 0 1 0 -4.8 0M927.5 152.2a2.4 2.4 0 1 0 4.8 0a2.4 2.4 0 1 0 -4.8 0M911.4 118.1a2.4 2.4 0 1 0 4.8 0a2.4 2.4 0 1 0 -4.8 0M922.9 133.1a2.4 2.4 0 1 0 4.8 0a2.4 2.4 0 1 0 -4.8 0M914.5 128.7a2.4 2.4 0 1 0 4.8 0a2.4 2.4 0 1 0 -4.8 0M915.1 146.9a2.4 2.4 0 1 0 4.8 0a2.4 2.4 0 1 0 -4.8 0M921.6 141.6a2.4 2.4 0 1 0 4.8 0a2.4 2.4 0 1 0 -4.8 0M933.1 142.2a2.4 2.4 0 1 0 4.8 0a2.4 2.4 0 1 0 -4.8 0M918.3 142.1a2.4 2.4 0 1 0 4.8 0a2.4 2.4 0 1 0 -4.8 0M923.7 138.1a2.4 2.4 0 1 0 4.8 0a2.4 2.4 0 1 0 -4.8 0M923.3 128.0a2.4 2.4 0 1 0 4.8 0a2.4 2.4 0 1 0 -4.8 0M923.2 137.4a2.4 2.4 0 1 0 4.8 0a2.4 2.4 0 1 0 -4.8 0M934.5 143.6a2.4 2.4 0 1 0 4.8 0a2.4 2.4 0 1 0 -4.8 0M931.2 143.0a2.4 2.4 0 1 0 4.8 0a2.4 2.4 0 1 0 -4.8 0M930.0 136.2a2.4 2.4 0 1 0 4.8 0a2.4 2.4 0 1 0 -4.8 0M913.0 122.0a2.4 2.4 0 1 0 4.8 0a2.4 2.4 0 1 0 -4.8 0M926.1 147.5a2.4 2.4 0 1 0 4.8 0a2.4 2.4 0 1 0 -4.8 0M920.1 117.3a2.4 2.4 0 1 0 4.8 0a2.4 2.4 0 1 0 -4.8 0M930.7 131.2a2.4 2.4 0 1 0 4.8 0a2.4 2.4 0 1 0 -4.8 0M918.9 142.1a2.4 2.4 0 1 0 4.8 0a2.4 2.4 0 1 0 -4.8 0M915.7 125.8a2.4 2.4 0 1 0 4.8 0a2.4 2.4 0 1 0 -4.8 0M918.8 150.5a2.4 2.4 0 1 0 4.8 0a2.4 2.4 0 1 0 -4.8 0M925.5 127.7a2.4 2.4 0 1 0 4.8 0a2.4 2.4 0 1 0 -4.8 0M925.4 136.2a2.4 2.4 0 1 0 4.8 0a2.4 2.4 0 1 0 -4.8 0M907.9 119.6a2.4 2.4 0 1 0 4.8 0a2.4 2.4 0 1 0 -4.8 0M903.0 145.7a2.4 2.4 0 1 0 4.8 0a2.4 2.4 0 1 0 -4.8 0M919.4 126.3a2.4 2.4 0 1 0 4.8 0a2.4 2.4 0 1 0 -4.8 0M918.9 141.7a2.4 2.4 0 1 0 4.8 0a2.4 2.4 0 1 0 -4.8 0M906.4 138.2a2.4 2.4 0 1 0 4.8 0a2.4 2.4 0 1 0 -4.8 0M926.3 145.0a2.4 2.4 0 1 0 4.8 0a2.4 2.4 0 1 0 -4.8 0M910.1 136.4a2.4 2.4 0 1 0 4.8 0a2.4 2.4 0 1 0 -4.8 0M908.7 134.4a2.4 2.4 0 1 0 4.8 0a2.4 2.4 0 1 0 -4.8 0M906.5 144.0a2.4 2.4 0 1 0 4.8 0a2.4 2.4 0 1 0 -4.8 0M908.4 151.2a2.4 2.4 0 1 0 4.8 0a2.4 2.4 0 1 0 -4.8 0M926.1 146.2a2.4 2.4 0 1 0 4.8 0a2.4 2.4 0 1 0 -4.8 0M923.0 124.2a2.4 2.4 0 1 0 4.8 0a2.4 2.4 0 1 0 -4.8 0M916.0 142.8a2.4 2.4 0 1 0 4.8 0a2.4 2.4 0 1 0 -4.8 0M923.1 117.9a2.4 2.4 0 1 0 4.8 0a2.4 2.4 0 1 0 -4.8 0M933.6 141.4a2.4 2.4 0 1 0 4.8 0a2.4 2.4 0 1 0 -4.8 0M922.4 121.9a2.4 2.4 0 1 0 4.8 0a2.4 2.4 0 1 0 -4.8 0M919.5 116.7a2.4 2.4 0 1 0 4.8 0a2.4 2.4 0 1 0 -4.8 0M905.3 140.9a2.4 2.4 0 1 0 4.8 0a2.4 2.4 0 1 0 -4.8 0M913.4 142.3a2.4 2.4 0 1 0 4.8 0a2.4 2.4 0 1 0 -4.8 0M909.0 141.0a2.4 2.4 0 1 0 4.8 0a2.4 2.4 0 1 0 -4.8 0M926.5 123.7a2.4 2.4 0 1 0 4.8 0a2.4 2.4 0 1 0 -4.8 0M904.1 127.5a2.4 2.4 0 1 0 4.8 0a2.4 2.4 0 1 0 -4.8 0M918.2 115.1a2.4 2.4 0 1 0 4.8 0a2.4 2.4 0 1 0 -4.8 0M907.1 113.3a2.4 2.4 0 1 0 4.8 0a2.4 2.4 0 1 0 -4.8 0M922.1 148.1a2.4 2.4 0 1 0 4.8 0a2.4 2.4 0 1 0 -4.8 0M908.2 112.4a2.4 2.4 0 1 0 4.8 0a2.4 2.4 0 1 0 -4.8 0M926.0 145.0a2.4 2.4 0 1 0 4.8 0a2.4 2.4 0 1 0 -4.8 0M935.5 136.6a2.4 2.4 0 1 0 4.8 0a2.4 2.4 0 1 0 -4.8 0M912.8 146.0a2.4 2.4 0 1 0 4.8 0a2.4 2.4 0 1 0 -4.8 0M904.6 139.9a2.4 2.4 0 1 0 4.8 0a2.4 2.4 0 1 0 -4.8 0M903.7 127.7a2.4 2.4 0 1 0 4.8 0a2.4 2.4 0 1 0 -4.8 0M918.3 126.7a2.4 2.4 0 1 0 4.8 0a2.4 2.4 0 1 0 -4.8 0M906.4 120.6a2.4 2.4 0 1 0 4.8 0a2.4 2.4 0 1 0 -4.8 0M930.2 130.3a2.4 2.4 0 1 0 4.8 0a2.4 2.4 0 1 0 -4.8 0M921.4 119.8a2.4 2.4 0 1 0 4.8 0a2.4 2.4 0 1 0 -4.8 0M926.4 124.7a2.4 2.4 0 1 0 4.8 0a2.4 2.4 0 1 0 -4.8 0M921.9 149.0a2.4 2.4 0 1 0 4.8 0a2.4 2.4 0 1 0 -4.8 0M929.4 146.8a2.4 2.4 0 1 0 4.8 0a2.4 2.4 0 1 0 -4.8 0M911.9 127.0a2.4 2.4 0 1 0 4.8 0a2.4 2.4 0 1 0 -4.8 0M921.5 149.3a2.4 2.4 0 1 0 4.8 0a2.4 2.4 0 1 0 -4.8 0M914.9 147.7a2.4 2.4 0 1 0 4.8 0a2.4 2.4 0 1 0 -4.8 0M905.5 138.7a2.4 2.4 0 1 0 4.8 0a2.4 2.4 0 1 0 -4.8 0M902.3 126.8a2.4 2.4 0 1 0 4.8 0a2.4 2.4 0 1 0 -4.8 0M905.0 130.3a2.4 2.4 0 1 0 4.8 0a2.4 2.4 0 1 0 -4.8 0M931.0 148.8a2.4 2.4 0 1 0 4.8 0a2.4 2.4 0 1 0 -4.8 0M901.5 113.5a2.4 2.4 0 1 0 4.8 0a2.4 2.4 0 1 0 -4.8 0M910.2 115.9a2.4 2.4 0 1 0 4.8 0a2.4 2.4 0 1 0 -4.8 0M923.5 142.1a2.4 2.4 0 1 0 4.8 0a2.4 2.4 0 1 0 -4.8 0M925.3 146.3a2.4 2.4 0 1 0 4.8 0a2.4 2.4 0 1 0 -4.8 0M924.5 127.2a2.4 2.4 0 1 0 4.8 0a2.4 2.4 0 1 0 -4.8 0M923.3 151.5a2.4 2.4 0 1 0 4.8 0a2.4 2.4 0 1 0 -4.8 0M923.7 121.1a2.4 2.4 0 1 0 4.8 0a2.4 2.4 0 1 0 -4.8 0M892.5 175.0a2.4 2.4 0 1 0 4.8 0a2.4 2.4 0 1 0 -4.8 0M892.8 182.2a2.4 2.4 0 1 0 4.8 0a2.4 2.4 0 1 0 -4.8 0M887.2 177.2a2.4 2.4 0 1 0 4.8 0a2.4 2.4 0 1 0 -4.8 0M883.8 193.1a2.4 2.4 0 1 0 4.8 0a2.4 2.4 0 1 0 -4.8 0M888.8 185.7a2.4 2.4 0 1 0 4.8 0a2.4 2.4 0 1 0 -4.8 0M895.2 188.4a2.4 2.4 0 1 0 4.8 0a2.4 2.4 0 1 0 -4.8 0M895.4 188.7a2.4 2.4 0 1 0 4.8 0a2.4 2.4 0 1 0 -4.8 0M884.9 196.3a2.4 2.4 0 1 0 4.8 0a2.4 2.4 0 1 0 -4.8 0M882.7 194.4a2.4 2.4 0 1 0 4.8 0a2.4 2.4 0 1 0 -4.8 0M880.5 166.3a2.4 2.4 0 1 0 4.8 0a2.4 2.4 0 1 0 -4.8 0M897.4 179.1a2.4 2.4 0 1 0 4.8 0a2.4 2.4 0 1 0 -4.8 0M887.6 196.6a2.4 2.4 0 1 0 4.8 0a2.4 2.4 0 1 0 -4.8 0M880.2 181.2a2.4 2.4 0 1 0 4.8 0a2.4 2.4 0 1 0 -4.8 0M889.2 167.5a2.4 2.4 0 1 0 4.8 0a2.4 2.4 0 1 0 -4.8 0M888.1 187.2a2.4 2.4 0 1 0 4.8 0a2.4 2.4 0 1 0 -4.8 0M880.1 176.2a2.4 2.4 0 1 0 4.8 0a2.4 2.4 0 1 0 -4.8 0M895.6 173.8a2.4 2.4 0 1 0 4.8 0a2.4 2.4 0 1 0 -4.8 0M882.2 190.2a2.4 2.4 0 1 0 4.8 0a2.4 2.4 0 1 0 -4.8 0M886.1 177.6a2.4 2.4 0 1 0 4.8 0a2.4 2.4 0 1 0 -4.8 0M884.8 182.1a2.4 2.4 0 1 0 4.8 0a2.4 2.4 0 1 0 -4.8 0M886.7 174.7a2.4 2.4 0 1 0 4.8 0a2.4 2.4 0 1 0 -4.8 0M893.8 178.4a2.4 2.4 0 1 0 4.8 0a2.4 2.4 0 1 0 -4.8 0M897.9 187.0a2.4 2.4 0 1 0 4.8 0a2.4 2.4 0 1 0 -4.8 0M891.2 193.6a2.4 2.4 0 1 0 4.8 0a2.4 2.4 0 1 0 -4.8 0M897.8 173.1a2.4 2.4 0 1 0 4.8 0a2.4 2.4 0 1 0 -4.8 0M882.8 175.8a2.4 2.4 0 1 0 4.8 0a2.4 2.4 0 1 0 -4.8 0M887.0 182.7a2.4 2.4 0 1 0 4.8 0a2.4 2.4 0 1 0 -4.8 0M893.8 173.8a2.4 2.4 0 1 0 4.8 0a2.4 2.4 0 1 0 -4.8 0M886.0 175.2a2.4 2.4 0 1 0 4.8 0a2.4 2.4 0 1 0 -4.8 0M886.6 188.6a2.4 2.4 0 1 0 4.8 0a2.4 2.4 0 1 0 -4.8 0M890.5 181.0a2.4 2.4 0 1 0 4.8 0a2.4 2.4 0 1 0 -4.8 0M882.7 194.2a2.4 2.4 0 1 0 4.8 0a2.4 2.4 0 1 0 -4.8 0M886.6 174.3a2.4 2.4 0 1 0 4.8 0a2.4 2.4 0 1 0 -4.8 0M890.0 194.2a2.4 2.4 0 1 0 4.8 0a2.4 2.4 0 1 0 -4.8 0M882.3 181.0a2.4 2.4 0 1 0 4.8 0a2.4 2.4 0 1 0 -4.8 0M877.9 262.0a2.4 2.4 0 1 0 4.8 0a2.4 2.4 0 1 0 -4.8 0M877.4 246.0a2.4 2.4 0 1 0 4.8 0a2.4 2.4 0 1 0 -4.8 0M872.7 250.8a2.4 2.4 0 1 0 4.8 0a2.4 2.4 0 1 0 -4.8 0M876.6 255.4a2.4 2.4 0 1 0 4.8 0a2.4 2.4 0 1 0 -4.8 0M879.5 237.8a2.4 2.4 0 1 0 4.8 0a2.4 2.4 0 1 0 -4.8 0M872.8 263.1a2.4 2.4 0 1 0 4.8 0a2.4 2.4 0 1 0 -4.8 0M874.6 241.6a2.4 2.4 0 1 0 4.8 0a2.4 2.4 0 1 0 -4.8 0M875.8 253.7a2.4 2.4 0 1 0 4.8 0a2.4 2.4 0 1 0 -4.8 0M869.6 269.4a2.4 2.4 0 1 0 4.8 0a2.4 2.4 0 1 0 -4.8 0M871.1 270.8a2.4 2.4 0 1 0 4.8 0a2.4 2.4 0 1 0 -4.8 0M875.3 269.6a2.4 2.4 0 1 0 4.8 0a2.4 2.4 0 1 0 -4.8 0M879.3 249.0a2.4 2.4 0 1 0 4.8 0a2.4 2.4 0 1 0 -4.8 0M876.4 254.6a2.4 2.4 0 1 0 4.8 0a2.4 2.4 0 1 0 -4.8 0M870.0 264.0a2.4 2.4 0 1 0 4.8 0a2.4 2.4 0 1 0 -4.8 0M877.7 253.2a2.4 2.4 0 1 0 4.8 0a2.4 2.4 0 1 0 -4.8 0M873.8 248.0a2.4 2.4 0 1 0 4.8 0a2.4 2.4 0 1 0 -4.8 0M878.8 250.6a2.4 2.4 0 1 0 4.8 0a2.4 2.4 0 1 0 -4.8 0M869.8 243.1a2.4 2.4 0 1 0 4.8 0a2.4 2.4 0 1 0 -4.8 0M875.0 254.9a2.4 2.4 0 1 0 4.8 0a2.4 2.4 0 1 0 -4.8 0M874.4 254.5a2.4 2.4 0 1 0 4.8 0a2.4 2.4 0 1 0 -4.8 0M872.8 258.6a2.4 2.4 0 1 0 4.8 0a2.4 2.4 0 1 0 -4.8 0M871.4 243.3a2.4 2.4 0 1 0 4.8 0a2.4 2.4 0 1 0 -4.8 0M874.1 256.5a2.4 2.4 0 1 0 4.8 0a2.4 2.4 0 1 0 -4.8 0M874.7 274.8a2.4 2.4 0 1 0 4.8 0a2.4 2.4 0 1 0 -4.8 0M869.5 258.9a2.4 2.4 0 1 0 4.8 0a2.4 2.4 0 1 0 -4.8 0M874.9 246.4a2.4 2.4 0 1 0 4.8 0a2.4 2.4 0 1 0 -4.8 0M872.7 272.9a2.4 2.4 0 1 0 4.8 0a2.4 2.4 0 1 0 -4.8 0M878.7 247.1a2.4 2.4 0 1 0 4.8 0a2.4 2.4 0 1 0 -4.8 0M873.5 266.3a2.4 2.4 0 1 0 4.8 0a2.4 2.4 0 1 0 -4.8 0M872.3 264.1a2.4 2.4 0 1 0 4.8 0a2.4 2.4 0 1 0 -4.8 0M1265.3 444.2a2.4 2.4 0 1 0 4.8 0a2.4 2.4 0 1 0 -4.8 0M1263.6 434.7a2.4 2.4 0 1 0 4.8 0a2.4 2.4 0 1 0 -4.8 0M1256.5 447.6a2.4 2.4 0 1 0 4.8 0a2.4 2.4 0 1 0 -4.8 0M1250.0 466.6a2.4 2.4 0 1 0 4.8 0a2.4 2.4 0 1 0 -4.8 0M1272.8 442.0a2.4 2.4 0 1 0 4.8 0a2.4 2.4 0 1 0 -4.8 0M1267.5 461.5a2.4 2.4 0 1 0 4.8 0a2.4 2.4 0 1 0 -4.8 0M1279.8 448.4a2.4 2.4 0 1 0 4.8 0a2.4 2.4 0 1 0 -4.8 0M1285.8 450.6a2.4 2.4 0 1 0 4.8 0a2.4 2.4 0 1 0 -4.8 0M1281.5 450.8a2.4 2.4 0 1 0 4.8 0a2.4 2.4 0 1 0 -4.8 0M1299.2 460.5a2.4 2.4 0 1 0 4.8 0a2.4 2.4 0 1 0 -4.8 0M1259.6 460.9a2.4 2.4 0 1 0 4.8 0a2.4 2.4 0 1 0 -4.8 0M1270.0 452.7a2.4 2.4 0 1 0 4.8 0a2.4 2.4 0 1 0 -4.8 0M1256.0 470.4a2.4 2.4 0 1 0 4.8 0a2.4 2.4 0 1 0 -4.8 0M1270.3 447.8a2.4 2.4 0 1 0 4.8 0a2.4 2.4 0 1 0 -4.8 0M1278.5 434.8a2.4 2.4 0 1 0 4.8 0a2.4 2.4 0 1 0 -4.8 0M1250.4 441.7a2.4 2.4 0 1 0 4.8 0a2.4 2.4 0 1 0 -4.8 0M1265.2 463.9a2.4 2.4 0 1 0 4.8 0a2.4 2.4 0 1 0 -4.8 0M1291.4 463.6a2.4 2.4 0 1 0 4.8 0a2.4 2.4 0 1 0 -4.8 0M1259.0 458.5a2.4 2.4 0 1 0 4.8 0a2.4 2.4 0 1 0 -4.8 0M1252.4 451.6a2.4 2.4 0 1 0 4.8 0a2.4 2.4 0 1 0 -4.8 0M1258.7 468.7a2.4 2.4 0 1 0 4.8 0a2.4 2.4 0 1 0 -4.8 0M1245.9 452.1a2.4 2.4 0 1 0 4.8 0a2.4 2.4 0 1 0 -4.8 0M1260.8 467.9a2.4 2.4 0 1 0 4.8 0a2.4 2.4 0 1 0 -4.8 0M1266.1 468.2a2.4 2.4 0 1 0 4.8 0a2.4 2.4 0 1 0 -4.8 0M1269.7 438.9a2.4 2.4 0 1 0 4.8 0a2.4 2.4 0 1 0 -4.8 0M1284.6 444.2a2.4 2.4 0 1 0 4.8 0a2.4 2.4 0 1 0 -4.8 0M1265.6 430.0a2.4 2.4 0 1 0 4.8 0a2.4 2.4 0 1 0 -4.8 0M1300.4 458.0a2.4 2.4 0 1 0 4.8 0a2.4 2.4 0 1 0 -4.8 0M1250.5 453.0a2.4 2.4 0 1 0 4.8 0a2.4 2.4 0 1 0 -4.8 0M1262.5 462.4a2.4 2.4 0 1 0 4.8 0a2.4 2.4 0 1 0 -4.8 0M1290.3 439.5a2.4 2.4 0 1 0 4.8 0a2.4 2.4 0 1 0 -4.8 0M1251.0 460.1a2.4 2.4 0 1 0 4.8 0a2.4 2.4 0 1 0 -4.8 0M1260.5 435.3a2.4 2.4 0 1 0 4.8 0a2.4 2.4 0 1 0 -4.8 0M1245.5 453.8a2.4 2.4 0 1 0 4.8 0a2.4 2.4 0 1 0 -4.8 0M1268.9 455.9a2.4 2.4 0 1 0 4.8 0a2.4 2.4 0 1 0 -4.8 0M1242.3 447.5a2.4 2.4 0 1 0 4.8 0a2.4 2.4 0 1 0 -4.8 0M1251.4 459.6a2.4 2.4 0 1 0 4.8 0a2.4 2.4 0 1 0 -4.8 0M1257.4 450.0a2.4 2.4 0 1 0 4.8 0a2.4 2.4 0 1 0 -4.8 0M1255.4 455.8a2.4 2.4 0 1 0 4.8 0a2.4 2.4 0 1 0 -4.8 0M1244.5 467.6a2.4 2.4 0 1 0 4.8 0a2.4 2.4 0 1 0 -4.8 0M1280.0 452.7a2.4 2.4 0 1 0 4.8 0a2.4 2.4 0 1 0 -4.8 0M1279.7 457.5a2.4 2.4 0 1 0 4.8 0a2.4 2.4 0 1 0 -4.8 0M1288.2 468.1a2.4 2.4 0 1 0 4.8 0a2.4 2.4 0 1 0 -4.8 0M1253.8 451.0a2.4 2.4 0 1 0 4.8 0a2.4 2.4 0 1 0 -4.8 0M1238.1 452.9a2.4 2.4 0 1 0 4.8 0a2.4 2.4 0 1 0 -4.8 0M1280.6 453.9a2.4 2.4 0 1 0 4.8 0a2.4 2.4 0 1 0 -4.8 0M1279.4 439.4a2.4 2.4 0 1 0 4.8 0a2.4 2.4 0 1 0 -4.8 0M1245.8 454.1a2.4 2.4 0 1 0 4.8 0a2.4 2.4 0 1 0 -4.8 0M1293.2 447.9a2.4 2.4 0 1 0 4.8 0a2.4 2.4 0 1 0 -4.8 0M1253.1 456.2a2.4 2.4 0 1 0 4.8 0a2.4 2.4 0 1 0 -4.8 0M1255.6 455.6a2.4 2.4 0 1 0 4.8 0a2.4 2.4 0 1 0 -4.8 0M1267.9 430.7a2.4 2.4 0 1 0 4.8 0a2.4 2.4 0 1 0 -4.8 0M1249.4 462.9a2.4 2.4 0 1 0 4.8 0a2.4 2.4 0 1 0 -4.8 0M1237.3 460.9a2.4 2.4 0 1 0 4.8 0a2.4 2.4 0 1 0 -4.8 0M1259.6 469.9a2.4 2.4 0 1 0 4.8 0a2.4 2.4 0 1 0 -4.8 0M1276.2 440.1a2.4 2.4 0 1 0 4.8 0a2.4 2.4 0 1 0 -4.8 0M1279.0 441.5a2.4 2.4 0 1 0 4.8 0a2.4 2.4 0 1 0 -4.8 0M1267.6 443.5a2.4 2.4 0 1 0 4.8 0a2.4 2.4 0 1 0 -4.8 0M1297.6 444.9a2.4 2.4 0 1 0 4.8 0a2.4 2.4 0 1 0 -4.8 0M1287.6 457.3a2.4 2.4 0 1 0 4.8 0a2.4 2.4 0 1 0 -4.8 0M1290.4 455.8a2.4 2.4 0 1 0 4.8 0a2.4 2.4 0 1 0 -4.8 0M1292.2 447.1a2.4 2.4 0 1 0 4.8 0a2.4 2.4 0 1 0 -4.8 0M1279.0 456.4a2.4 2.4 0 1 0 4.8 0a2.4 2.4 0 1 0 -4.8 0M1268.5 454.0a2.4 2.4 0 1 0 4.8 0a2.4 2.4 0 1 0 -4.8 0M1269.1 446.6a2.4 2.4 0 1 0 4.8 0a2.4 2.4 0 1 0 -4.8 0M1294.2 456.9a2.4 2.4 0 1 0 4.8 0a2.4 2.4 0 1 0 -4.8 0M1270.0 432.0a2.4 2.4 0 1 0 4.8 0a2.4 2.4 0 1 0 -4.8 0M1267.2 437.2a2.4 2.4 0 1 0 4.8 0a2.4 2.4 0 1 0 -4.8 0M1246.9 448.4a2.4 2.4 0 1 0 4.8 0a2.4 2.4 0 1 0 -4.8 0M1269.8 440.5a2.4 2.4 0 1 0 4.8 0a2.4 2.4 0 1 0 -4.8 0M1250.7 452.5a2.4 2.4 0 1 0 4.8 0a2.4 2.4 0 1 0 -4.8 0M1264.7 447.1a2.4 2.4 0 1 0 4.8 0a2.4 2.4 0 1 0 -4.8 0M1239.2 445.8a2.4 2.4 0 1 0 4.8 0a2.4 2.4 0 1 0 -4.8 0M1277.3 453.1a2.4 2.4 0 1 0 4.8 0a2.4 2.4 0 1 0 -4.8 0M1269.7 466.0a2.4 2.4 0 1 0 4.8 0a2.4 2.4 0 1 0 -4.8 0M1282.0 459.2a2.4 2.4 0 1 0 4.8 0a2.4 2.4 0 1 0 -4.8 0M1279.2 436.4a2.4 2.4 0 1 0 4.8 0a2.4 2.4 0 1 0 -4.8 0M1295.2 435.8a2.4 2.4 0 1 0 4.8 0a2.4 2.4 0 1 0 -4.8 0M1292.8 439.0a2.4 2.4 0 1 0 4.8 0a2.4 2.4 0 1 0 -4.8 0M1290.2 466.2a2.4 2.4 0 1 0 4.8 0a2.4 2.4 0 1 0 -4.8 0M1255.2 468.0a2.4 2.4 0 1 0 4.8 0a2.4 2.4 0 1 0 -4.8 0M1243.0 466.3a2.4 2.4 0 1 0 4.8 0a2.4 2.4 0 1 0 -4.8 0M1258.4 448.6a2.4 2.4 0 1 0 4.8 0a2.4 2.4 0 1 0 -4.8 0M1240.1 455.6a2.4 2.4 0 1 0 4.8 0a2.4 2.4 0 1 0 -4.8 0M1250.7 458.4a2.4 2.4 0 1 0 4.8 0a2.4 2.4 0 1 0 -4.8 0M1287.3 455.7a2.4 2.4 0 1 0 4.8 0a2.4 2.4 0 1 0 -4.8 0M1295.6 457.4a2.4 2.4 0 1 0 4.8 0a2.4 2.4 0 1 0 -4.8 0M1258.3 453.9a2.4 2.4 0 1 0 4.8 0a2.4 2.4 0 1 0 -4.8 0M1293.1 449.5a2.4 2.4 0 1 0 4.8 0a2.4 2.4 0 1 0 -4.8 0M1285.9 455.5a2.4 2.4 0 1 0 4.8 0a2.4 2.4 0 1 0 -4.8 0M1306.8 431.3a2.4 2.4 0 1 0 4.8 0a2.4 2.4 0 1 0 -4.8 0M1306.4 413.3a2.4 2.4 0 1 0 4.8 0a2.4 2.4 0 1 0 -4.8 0M1296.2 405.9a2.4 2.4 0 1 0 4.8 0a2.4 2.4 0 1 0 -4.8 0M1309.3 399.6a2.4 2.4 0 1 0 4.8 0a2.4 2.4 0 1 0 -4.8 0M1302.4 434.0a2.4 2.4 0 1 0 4.8 0a2.4 2.4 0 1 0 -4.8 0M1320.8 416.0a2.4 2.4 0 1 0 4.8 0a2.4 2.4 0 1 0 -4.8 0M1317.7 425.0a2.4 2.4 0 1 0 4.8 0a2.4 2.4 0 1 0 -4.8 0M1301.7 424.4a2.4 2.4 0 1 0 4.8 0a2.4 2.4 0 1 0 -4.8 0M1301.6 410.9a2.4 2.4 0 1 0 4.8 0a2.4 2.4 0 1 0 -4.8 0M1304.9 388.8a2.4 2.4 0 1 0 4.8 0a2.4 2.4 0 1 0 -4.8 0M1317.0 430.3a2.4 2.4 0 1 0 4.8 0a2.4 2.4 0 1 0 -4.8 0M1303.7 428.3a2.4 2.4 0 1 0 4.8 0a2.4 2.4 0 1 0 -4.8 0M1304.6 416.1a2.4 2.4 0 1 0 4.8 0a2.4 2.4 0 1 0 -4.8 0M1323.3 422.4a2.4 2.4 0 1 0 4.8 0a2.4 2.4 0 1 0 -4.8 0M1296.3 403.9a2.4 2.4 0 1 0 4.8 0a2.4 2.4 0 1 0 -4.8 0M1305.5 396.2a2.4 2.4 0 1 0 4.8 0a2.4 2.4 0 1 0 -4.8 0M1318.1 404.2a2.4 2.4 0 1 0 4.8 0a2.4 2.4 0 1 0 -4.8 0M1314.8 414.9a2.4 2.4 0 1 0 4.8 0a2.4 2.4 0 1 0 -4.8 0M1309.6 383.1a2.4 2.4 0 1 0 4.8 0a2.4 2.4 0 1 0 -4.8 0M1314.0 428.9a2.4 2.4 0 1 0 4.8 0a2.4 2.4 0 1 0 -4.8 0M1299.6 415.3a2.4 2.4 0 1 0 4.8 0a2.4 2.4 0 1 0 -4.8 0M1308.7 398.8a2.4 2.4 0 1 0 4.8 0a2.4 2.4 0 1 0 -4.8 0M1305.7 425.8a2.4 2.4 0 1 0 4.8 0a2.4 2.4 0 1 0 -4.8 0M1299.7 419.4a2.4 2.4 0 1 0 4.8 0a2.4 2.4 0 1 0 -4.8 0M1297.5 398.5a2.4 2.4 0 1 0 4.8 0a2.4 2.4 0 1 0 -4.8 0M1322.5 416.1a2.4 2.4 0 1 0 4.8 0a2.4 2.4 0 1 0 -4.8 0M1317.2 405.4a2.4 2.4 0 1 0 4.8 0a2.4 2.4 0 1 0 -4.8 0M1308.2 407.1a2.4 2.4 0 1 0 4.8 0a2.4 2.4 0 1 0 -4.8 0M1316.9 419.7a2.4 2.4 0 1 0 4.8 0a2.4 2.4 0 1 0 -4.8 0M1300.2 404.2a2.4 2.4 0 1 0 4.8 0a2.4 2.4 0 1 0 -4.8 0M1310.2 411.4a2.4 2.4 0 1 0 4.8 0a2.4 2.4 0 1 0 -4.8 0M1321.3 426.1a2.4 2.4 0 1 0 4.8 0a2.4 2.4 0 1 0 -4.8 0M1299.0 400.7a2.4 2.4 0 1 0 4.8 0a2.4 2.4 0 1 0 -4.8 0M1316.7 416.7a2.4 2.4 0 1 0 4.8 0a2.4 2.4 0 1 0 -4.8 0M1317.6 395.9a2.4 2.4 0 1 0 4.8 0a2.4 2.4 0 1 0 -4.8 0M1312.9 420.4a2.4 2.4 0 1 0 4.8 0a2.4 2.4 0 1 0 -4.8 0M1320.9 409.5a2.4 2.4 0 1 0 4.8 0a2.4 2.4 0 1 0 -4.8 0M1320.7 416.4a2.4 2.4 0 1 0 4.8 0a2.4 2.4 0 1 0 -4.8 0M1304.5 393.2a2.4 2.4 0 1 0 4.8 0a2.4 2.4 0 1 0 -4.8 0M1311.5 408.2a2.4 2.4 0 1 0 4.8 0a2.4 2.4 0 1 0 -4.8 0M1306.9 423.6a2.4 2.4 0 1 0 4.8 0a2.4 2.4 0 1 0 -4.8 0M1321.5 419.8a2.4 2.4 0 1 0 4.8 0a2.4 2.4 0 1 0 -4.8 0M1314.8 417.9a2.4 2.4 0 1 0 4.8 0a2.4 2.4 0 1 0 -4.8 0M1313.4 409.5a2.4 2.4 0 1 0 4.8 0a2.4 2.4 0 1 0 -4.8 0M1301.8 422.8a2.4 2.4 0 1 0 4.8 0a2.4 2.4 0 1 0 -4.8 0M267.4 439.0a2.4 2.4 0 1 0 4.8 0a2.4 2.4 0 1 0 -4.8 0M282.0 435.5a2.4 2.4 0 1 0 4.8 0a2.4 2.4 0 1 0 -4.8 0M263.0 426.7a2.4 2.4 0 1 0 4.8 0a2.4 2.4 0 1 0 -4.8 0M269.0 440.6a2.4 2.4 0 1 0 4.8 0a2.4 2.4 0 1 0 -4.8 0M263.4 437.9a2.4 2.4 0 1 0 4.8 0a2.4 2.4 0 1 0 -4.8 0M270.9 436.5a2.4 2.4 0 1 0 4.8 0a2.4 2.4 0 1 0 -4.8 0M267.8 431.5a2.4 2.4 0 1 0 4.8 0a2.4 2.4 0 1 0 -4.8 0M265.8 421.1a2.4 2.4 0 1 0 4.8 0a2.4 2.4 0 1 0 -4.8 0M290.0 441.7a2.4 2.4 0 1 0 4.8 0a2.4 2.4 0 1 0 -4.8 0M253.3 425.7a2.4 2.4 0 1 0 4.8 0a2.4 2.4 0 1 0 -4.8 0M265.2 426.7a2.4 2.4 0 1 0 4.8 0a2.4 2.4 0 1 0 -4.8 0M252.6 425.6a2.4 2.4 0 1 0 4.8 0a2.4 2.4 0 1 0 -4.8 0M278.3 438.8a2.4 2.4 0 1 0 4.8 0a2.4 2.4 0 1 0 -4.8 0M267.6 423.1a2.4 2.4 0 1 0 4.8 0a2.4 2.4 0 1 0 -4.8 0M284.4 440.4a2.4 2.4 0 1 0 4.8 0a2.4 2.4 0 1 0 -4.8 0M249.3 425.1a2.4 2.4 0 1 0 4.8 0a2.4 2.4 0 1 0 -4.8 0M267.1 427.0a2.4 2.4 0 1 0 4.8 0a2.4 2.4 0 1 0 -4.8 0M265.1 438.0a2.4 2.4 0 1 0 4.8 0a2.4 2.4 0 1 0 -4.8 0M257.1 434.8a2.4 2.4 0 1 0 4.8 0a2.4 2.4 0 1 0 -4.8 0M279.2 441.4a2.4 2.4 0 1 0 4.8 0a2.4 2.4 0 1 0 -4.8 0M257.0 436.7a2.4 2.4 0 1 0 4.8 0a2.4 2.4 0 1 0 -4.8 0M285.8 450.4a2.4 2.4 0 1 0 4.8 0a2.4 2.4 0 1 0 -4.8 0M252.0 423.3a2.4 2.4 0 1 0 4.8 0a2.4 2.4 0 1 0 -4.8 0M272.8 441.4a2.4 2.4 0 1 0 4.8 0a2.4 2.4 0 1 0 -4.8 0M283.8 454.9a2.4 2.4 0 1 0 4.8 0a2.4 2.4 0 1 0 -4.8 0M300.8 448.2a2.4 2.4 0 1 0 4.8 0a2.4 2.4 0 1 0 -4.8 0M269.3 426.4a2.4 2.4 0 1 0 4.8 0a2.4 2.4 0 1 0 -4.8 0M269.4 433.9a2.4 2.4 0 1 0 4.8 0a2.4 2.4 0 1 0 -4.8 0M256.0 436.8a2.4 2.4 0 1 0 4.8 0a2.4 2.4 0 1 0 -4.8 0M301.6 448.5a2.4 2.4 0 1 0 4.8 0a2.4 2.4 0 1 0 -4.8 0M255.2 421.0a2.4 2.4 0 1 0 4.8 0a2.4 2.4 0 1 0 -4.8 0M302.1 451.1a2.4 2.4 0 1 0 4.8 0a2.4 2.4 0 1 0 -4.8 0M291.0 451.4a2.4 2.4 0 1 0 4.8 0a2.4 2.4 0 1 0 -4.8 0M282.3 431.8a2.4 2.4 0 1 0 4.8 0a2.4 2.4 0 1 0 -4.8 0M269.7 440.3a2.4 2.4 0 1 0 4.8 0a2.4 2.4 0 1 0 -4.8 0M263.3 421.1a2.4 2.4 0 1 0 4.8 0a2.4 2.4 0 1 0 -4.8 0M290.4 448.5a2.4 2.4 0 1 0 4.8 0a2.4 2.4 0 1 0 -4.8 0M290.6 439.7a2.4 2.4 0 1 0 4.8 0a2.4 2.4 0 1 0 -4.8 0M264.5 430.6a2.4 2.4 0 1 0 4.8 0a2.4 2.4 0 1 0 -4.8 0M276.8 442.4a2.4 2.4 0 1 0 4.8 0a2.4 2.4 0 1 0 -4.8 0M278.6 435.7a2.4 2.4 0 1 0 4.8 0a2.4 2.4 0 1 0 -4.8 0M281.6 451.6a2.4 2.4 0 1 0 4.8 0a2.4 2.4 0 1 0 -4.8 0M270.8 436.4a2.4 2.4 0 1 0 4.8 0a2.4 2.4 0 1 0 -4.8 0M254.3 428.7a2.4 2.4 0 1 0 4.8 0a2.4 2.4 0 1 0 -4.8 0M253.6 419.2a2.4 2.4 0 1 0 4.8 0a2.4 2.4 0 1 0 -4.8 0M263.3 436.8a2.4 2.4 0 1 0 4.8 0a2.4 2.4 0 1 0 -4.8 0M292.4 458.1a2.4 2.4 0 1 0 4.8 0a2.4 2.4 0 1 0 -4.8 0M294.1 441.2a2.4 2.4 0 1 0 4.8 0a2.4 2.4 0 1 0 -4.8 0M247.2 417.3a2.4 2.4 0 1 0 4.8 0a2.4 2.4 0 1 0 -4.8 0M281.4 450.4a2.4 2.4 0 1 0 4.8 0a2.4 2.4 0 1 0 -4.8 0M276.8 439.6a2.4 2.4 0 1 0 4.8 0a2.4 2.4 0 1 0 -4.8 0M260.5 418.2a2.4 2.4 0 1 0 4.8 0a2.4 2.4 0 1 0 -4.8 0M260.2 423.7a2.4 2.4 0 1 0 4.8 0a2.4 2.4 0 1 0 -4.8 0M261.0 435.5a2.4 2.4 0 1 0 4.8 0a2.4 2.4 0 1 0 -4.8 0M295.4 457.2a2.4 2.4 0 1 0 4.8 0a2.4 2.4 0 1 0 -4.8 0M270.5 430.4a2.4 2.4 0 1 0 4.8 0a2.4 2.4 0 1 0 -4.8 0M279.0 443.6a2.4 2.4 0 1 0 4.8 0a2.4 2.4 0 1 0 -4.8 0M251.7 420.2a2.4 2.4 0 1 0 4.8 0a2.4 2.4 0 1 0 -4.8 0M260.4 423.1a2.4 2.4 0 1 0 4.8 0a2.4 2.4 0 1 0 -4.8 0M259.7 438.7a2.4 2.4 0 1 0 4.8 0a2.4 2.4 0 1 0 -4.8 0M257.1 427.2a2.4 2.4 0 1 0 4.8 0a2.4 2.4 0 1 0 -4.8 0M273.3 430.8a2.4 2.4 0 1 0 4.8 0a2.4 2.4 0 1 0 -4.8 0M256.3 422.5a2.4 2.4 0 1 0 4.8 0a2.4 2.4 0 1 0 -4.8 0M246.3 419.1a2.4 2.4 0 1 0 4.8 0a2.4 2.4 0 1 0 -4.8 0M281.1 443.6a2.4 2.4 0 1 0 4.8 0a2.4 2.4 0 1 0 -4.8 0M285.5 449.7a2.4 2.4 0 1 0 4.8 0a2.4 2.4 0 1 0 -4.8 0M299.9 450.9a2.4 2.4 0 1 0 4.8 0a2.4 2.4 0 1 0 -4.8 0M277.5 438.6a2.4 2.4 0 1 0 4.8 0a2.4 2.4 0 1 0 -4.8 0M273.9 435.4a2.4 2.4 0 1 0 4.8 0a2.4 2.4 0 1 0 -4.8 0M284.3 439.7a2.4 2.4 0 1 0 4.8 0a2.4 2.4 0 1 0 -4.8 0M816.1 435.0a2.4 2.4 0 1 0 4.8 0a2.4 2.4 0 1 0 -4.8 0M809.4 438.8a2.4 2.4 0 1 0 4.8 0a2.4 2.4 0 1 0 -4.8 0M805.3 453.0a2.4 2.4 0 1 0 4.8 0a2.4 2.4 0 1 0 -4.8 0M806.9 425.3a2.4 2.4 0 1 0 4.8 0a2.4 2.4 0 1 0 -4.8 0M795.9 442.8a2.4 2.4 0 1 0 4.8 0a2.4 2.4 0 1 0 -4.8 0M786.2 435.4a2.4 2.4 0 1 0 4.8 0a2.4 2.4 0 1 0 -4.8 0M800.9 447.6a2.4 2.4 0 1 0 4.8 0a2.4 2.4 0 1 0 -4.8 0M818.6 447.5a2.4 2.4 0 1 0 4.8 0a2.4 2.4 0 1 0 -4.8 0M807.6 431.6a2.4 2.4 0 1 0 4.8 0a2.4 2.4 0 1 0 -4.8 0M800.6 444.7a2.4 2.4 0 1 0 4.8 0a2.4 2.4 0 1 0 -4.8 0M811.9 427.7a2.4 2.4 0 1 0 4.8 0a2.4 2.4 0 1 0 -4.8 0M806.2 452.1a2.4 2.4 0 1 0 4.8 0a2.4 2.4 0 1 0 -4.8 0M787.5 418.2a2.4 2.4 0 1 0 4.8 0a2.4 2.4 0 1 0 -4.8 0M819.9 443.0a2.4 2.4 0 1 0 4.8 0a2.4 2.4 0 1 0 -4.8 0M812.8 437.7a2.4 2.4 0 1 0 4.8 0a2.4 2.4 0 1 0 -4.8 0M805.7 430.7a2.4 2.4 0 1 0 4.8 0a2.4 2.4 0 1 0 -4.8 0M795.3 433.5a2.4 2.4 0 1 0 4.8 0a2.4 2.4 0 1 0 -4.8 0M803.9 435.6a2.4 2.4 0 1 0 4.8 0a2.4 2.4 0 1 0 -4.8 0M806.9 443.5a2.4 2.4 0 1 0 4.8 0a2.4 2.4 0 1 0 -4.8 0M807.7 424.5a2.4 2.4 0 1 0 4.8 0a2.4 2.4 0 1 0 -4.8 0M799.1 422.8a2.4 2.4 0 1 0 4.8 0a2.4 2.4 0 1 0 -4.8 0M811.9 456.7a2.4 2.4 0 1 0 4.8 0a2.4 2.4 0 1 0 -4.8 0M795.8 437.4a2.4 2.4 0 1 0 4.8 0a2.4 2.4 0 1 0 -4.8 0M798.2 440.2a2.4 2.4 0 1 0 4.8 0a2.4 2.4 0 1 0 -4.8 0M816.7 438.2a2.4 2.4 0 1 0 4.8 0a2.4 2.4 0 1 0 -4.8 0M796.2 442.8a2.4 2.4 0 1 0 4.8 0a2.4 2.4 0 1 0 -4.8 0M806.0 427.0a2.4 2.4 0 1 0 4.8 0a2.4 2.4 0 1 0 -4.8 0M804.7 426.2a2.4 2.4 0 1 0 4.8 0a2.4 2.4 0 1 0 -4.8 0M784.9 427.9a2.4 2.4 0 1 0 4.8 0a2.4 2.4 0 1 0 -4.8 0M787.7 437.1a2.4 2.4 0 1 0 4.8 0a2.4 2.4 0 1 0 -4.8 0M812.1 450.2a2.4 2.4 0 1 0 4.8 0a2.4 2.4 0 1 0 -4.8 0M798.3 423.9a2.4 2.4 0 1 0 4.8 0a2.4 2.4 0 1 0 -4.8 0M788.3 438.3a2.4 2.4 0 1 0 4.8 0a2.4 2.4 0 1 0 -4.8 0M787.0 412.3a2.4 2.4 0 1 0 4.8 0a2.4 2.4 0 1 0 -4.8 0M791.9 427.1a2.4 2.4 0 1 0 4.8 0a2.4 2.4 0 1 0 -4.8 0M804.8 424.9a2.4 2.4 0 1 0 4.8 0a2.4 2.4 0 1 0 -4.8 0M793.1 422.8a2.4 2.4 0 1 0 4.8 0a2.4 2.4 0 1 0 -4.8 0M805.0 435.1a2.4 2.4 0 1 0 4.8 0a2.4 2.4 0 1 0 -4.8 0M796.7 432.8a2.4 2.4 0 1 0 4.8 0a2.4 2.4 0 1 0 -4.8 0M808.1 450.8a2.4 2.4 0 1 0 4.8 0a2.4 2.4 0 1 0 -4.8 0M792.6 421.1a2.4 2.4 0 1 0 4.8 0a2.4 2.4 0 1 0 -4.8 0M813.8 456.7a2.4 2.4 0 1 0 4.8 0a2.4 2.4 0 1 0 -4.8 0M790.0 414.4a2.4 2.4 0 1 0 4.8 0a2.4 2.4 0 1 0 -4.8 0M795.1 429.6a2.4 2.4 0 1 0 4.8 0a2.4 2.4 0 1 0 -4.8 0M806.2 434.6a2.4 2.4 0 1 0 4.8 0a2.4 2.4 0 1 0 -4.8 0M813.8 445.9a2.4 2.4 0 1 0 4.8 0a2.4 2.4 0 1 0 -4.8 0M788.9 422.4a2.4 2.4 0 1 0 4.8 0a2.4 2.4 0 1 0 -4.8 0M792.6 426.7a2.4 2.4 0 1 0 4.8 0a2.4 2.4 0 1 0 -4.8 0M793.8 433.6a2.4 2.4 0 1 0 4.8 0a2.4 2.4 0 1 0 -4.8 0M793.8 422.0a2.4 2.4 0 1 0 4.8 0a2.4 2.4 0 1 0 -4.8 0M797.4 435.2a2.4 2.4 0 1 0 4.8 0a2.4 2.4 0 1 0 -4.8 0M816.7 445.6a2.4 2.4 0 1 0 4.8 0a2.4 2.4 0 1 0 -4.8 0M807.2 456.0a2.4 2.4 0 1 0 4.8 0a2.4 2.4 0 1 0 -4.8 0M798.8 433.8a2.4 2.4 0 1 0 4.8 0a2.4 2.4 0 1 0 -4.8 0M817.2 439.1a2.4 2.4 0 1 0 4.8 0a2.4 2.4 0 1 0 -4.8 0M812.3 430.9a2.4 2.4 0 1 0 4.8 0a2.4 2.4 0 1 0 -4.8 0M801.3 430.0a2.4 2.4 0 1 0 4.8 0a2.4 2.4 0 1 0 -4.8 0M799.1 436.1a2.4 2.4 0 1 0 4.8 0a2.4 2.4 0 1 0 -4.8 0M790.7 440.9a2.4 2.4 0 1 0 4.8 0a2.4 2.4 0 1 0 -4.8 0M816.6 448.2a2.4 2.4 0 1 0 4.8 0a2.4 2.4 0 1 0 -4.8 0M827.8 378.5a2.4 2.4 0 1 0 4.8 0a2.4 2.4 0 1 0 -4.8 0M841.0 368.1a2.4 2.4 0 1 0 4.8 0a2.4 2.4 0 1 0 -4.8 0M825.9 383.5a2.4 2.4 0 1 0 4.8 0a2.4 2.4 0 1 0 -4.8 0M830.2 384.6a2.4 2.4 0 1 0 4.8 0a2.4 2.4 0 1 0 -4.8 0M828.4 391.4a2.4 2.4 0 1 0 4.8 0a2.4 2.4 0 1 0 -4.8 0M832.2 377.6a2.4 2.4 0 1 0 4.8 0a2.4 2.4 0 1 0 -4.8 0M838.9 392.4a2.4 2.4 0 1 0 4.8 0a2.4 2.4 0 1 0 -4.8 0M842.6 366.0a2.4 2.4 0 1 0 4.8 0a2.4 2.4 0 1 0 -4.8 0M828.8 381.0a2.4 2.4 0 1 0 4.8 0a2.4 2.4 0 1 0 -4.8 0M829.0 375.3a2.4 2.4 0 1 0 4.8 0a2.4 2.4 0 1 0 -4.8 0M845.3 384.0a2.4 2.4 0 1 0 4.8 0a2.4 2.4 0 1 0 -4.8 0M842.1 374.8a2.4 2.4 0 1 0 4.8 0a2.4 2.4 0 1 0 -4.8 0M824.6 372.5a2.4 2.4 0 1 0 4.8 0a2.4 2.4 0 1 0 -4.8 0M840.7 394.9a2.4 2.4 0 1 0 4.8 0a2.4 2.4 0 1 0 -4.8 0M829.5 371.7a2.4 2.4 0 1 0 4.8 0a2.4 2.4 0 1 0 -4.8 0M847.1 374.3a2.4 2.4 0 1 0 4.8 0a2.4 2.4 0 1 0 -4.8 0M834.8 375.4a2.4 2.4 0 1 0 4.8 0a2.4 2.4 0 1 0 -4.8 0M826.4 368.1a2.4 2.4 0 1 0 4.8 0a2.4 2.4 0 1 0 -4.8 0M833.9 392.5a2.4 2.4 0 1 0 4.8 0a2.4 2.4 0 1 0 -4.8 0M827.6 371.1a2.4 2.4 0 1 0 4.8 0a2.4 2.4 0 1 0 -4.8 0M832.3 380.3a2.4 2.4 0 1 0 4.8 0a2.4 2.4 0 1 0 -4.8 0M848.6 381.2a2.4 2.4 0 1 0 4.8 0a2.4 2.4 0 1 0 -4.8 0M848.7 381.3a2.4 2.4 0 1 0 4.8 0a2.4 2.4 0 1 0 -4.8 0M835.6 391.9a2.4 2.4 0 1 0 4.8 0a2.4 2.4 0 1 0 -4.8 0M839.7 379.1a2.4 2.4 0 1 0 4.8 0a2.4 2.4 0 1 0 -4.8 0M837.9 375.3a2.4 2.4 0 1 0 4.8 0a2.4 2.4 0 1 0 -4.8 0M835.7 366.2a2.4 2.4 0 1 0 4.8 0a2.4 2.4 0 1 0 -4.8 0M829.4 388.4a2.4 2.4 0 1 0 4.8 0a2.4 2.4 0 1 0 -4.8 0M827.4 370.5a2.4 2.4 0 1 0 4.8 0a2.4 2.4 0 1 0 -4.8 0M828.2 375.5a2.4 2.4 0 1 0 4.8 0a2.4 2.4 0 1 0 -4.8 0M1037.4 217.6a2.4 2.4 0 1 0 4.8 0a2.4 2.4 0 1 0 -4.8 0M1038.0 190.9a2.4 2.4 0 1 0 4.8 0a2.4 2.4 0 1 0 -4.8 0M1031.9 211.9a2.4 2.4 0 1 0 4.8 0a2.4 2.4 0 1 0 -4.8 0M1042.0 217.2a2.4 2.4 0 1 0 4.8 0a2.4 2.4 0 1 0 -4.8 0M1031.4 206.6a2.4 2.4 0 1 0 4.8 0a2.4 2.4 0 1 0 -4.8 0M1032.4 211.0a2.4 2.4 0 1 0 4.8 0a2.4 2.4 0 1 0 -4.8 0M1027.7 183.8a2.4 2.4 0 1 0 4.8 0a2.4 2.4 0 1 0 -4.8 0M1036.6 206.7a2.4 2.4 0 1 0 4.8 0a2.4 2.4 0 1 0 -4.8 0M1033.4 184.0a2.4 2.4 0 1 0 4.8 0a2.4 2.4 0 1 0 -4.8 0M1028.6 198.2a2.4 2.4 0 1 0 4.8 0a2.4 2.4 0 1 0 -4.8 0M1030.1 197.0a2.4 2.4 0 1 0 4.8 0a2.4 2.4 0 1 0 -4.8 0M1036.5 211.9a2.4 2.4 0 1 0 4.8 0a2.4 2.4 0 1 0 -4.8 0M1037.3 217.5a2.4 2.4 0 1 0 4.8 0a2.4 2.4 0 1 0 -4.8 0M1031.5 199.5a2.4 2.4 0 1 0 4.8 0a2.4 2.4 0 1 0 -4.8 0M1033.0 209.0a2.4 2.4 0 1 0 4.8 0a2.4 2.4 0 1 0 -4.8 0M1033.0 204.9a2.4 2.4 0 1 0 4.8 0a2.4 2.4 0 1 0 -4.8 0M1041.9 233.8a2.4 2.4 0 1 0 4.8 0a2.4 2.4 0 1 0 -4.8 0M1036.5 218.8a2.4 2.4 0 1 0 4.8 0a2.4 2.4 0 1 0 -4.8 0M1043.6 224.1a2.4 2.4 0 1 0 4.8 0a2.4 2.4 0 1 0 -4.8 0M1036.4 207.6a2.4 2.4 0 1 0 4.8 0a2.4 2.4 0 1 0 -4.8 0M1036.4 221.2a2.4 2.4 0 1 0 4.8 0a2.4 2.4 0 1 0 -4.8 0M1041.7 204.3a2.4 2.4 0 1 0 4.8 0a2.4 2.4 0 1 0 -4.8 0M1038.9 216.7a2.4 2.4 0 1 0 4.8 0a2.4 2.4 0 1 0 -4.8 0M1031.1 184.9a2.4 2.4 0 1 0 4.8 0a2.4 2.4 0 1 0 -4.8 0M1040.4 199.8a2.4 2.4 0 1 0 4.8 0a2.4 2.4 0 1 0 -4.8 0M1041.9 232.9a2.4 2.4 0 1 0 4.8 0a2.4 2.4 0 1 0 -4.8 0M1038.3 208.3a2.4 2.4 0 1 0 4.8 0a2.4 2.4 0 1 0 -4.8 0M1027.4 194.5a2.4 2.4 0 1 0 4.8 0a2.4 2.4 0 1 0 -4.8 0M1037.5 197.1a2.4 2.4 0 1 0 4.8 0a2.4 2.4 0 1 0 -4.8 0M1036.2 203.7a2.4 2.4 0 1 0 4.8 0a2.4 2.4 0 1 0 -4.8 0M1050.2 265.3a2.4 2.4 0 1 0 4.8 0a2.4 2.4 0 1 0 -4.8 0M1059.4 333.4a2.4 2.4 0 1 0 4.8 0a2.4 2.4 0 1 0 -4.8 0M1061.8 350.3a2.4 2.4 0 1 0 4.8 0a2.4 2.4 0 1 0 -4.8 0M1061.9 352.4a2.4 2.4 0 1 0 4.8 0a2.4 2.4 0 1 0 -4.8 0M1047.8 305.4a2.4 2.4 0 1 0 4.8 0a2.4 2.4 0 1 0 -4.8 0M1062.2 354.3a2.4 2.4 0 1 0 4.8 0a2.4 2.4 0 1 0 -4.8 0M1045.4 285.0a2.4 2.4 0 1 0 4.8 0a2.4 2.4 0 1 0 -4.8 0M1062.4 356.8a2.4 2.4 0 1 0 4.8 0a2.4 2.4 0 1 0 -4.8 0M1048.1 275.5a2.4 2.4 0 1 0 4.8 0a2.4 2.4 0 1 0 -4.8 0M1046.0 280.6a2.4 2.4 0 1 0 4.8 0a2.4 2.4 0 1 0 -4.8 0M1055.3 266.1a2.4 2.4 0 1 0 4.8 0a2.4 2.4 0 1 0 -4.8 0M1077.5 364.6a2.4 2.4 0 1 0 4.8 0a2.4 2.4 0 1 0 -4.8 0M1053.7 285.7a2.4 2.4 0 1 0 4.8 0a2.4 2.4 0 1 0 -4.8 0M1075.8 359.8a2.4 2.4 0 1 0 4.8 0a2.4 2.4 0 1 0 -4.8 0M1058.6 327.2a2.4 2.4 0 1 0 4.8 0a2.4 2.4 0 1 0 -4.8 0M1076.0 354.3a2.4 2.4 0 1 0 4.8 0a2.4 2.4 0 1 0 -4.8 0M1055.7 288.2a2.4 2.4 0 1 0 4.8 0a2.4 2.4 0 1 0 -4.8 0M1060.1 338.0a2.4 2.4 0 1 0 4.8 0a2.4 2.4 0 1 0 -4.8 0M1075.7 352.9a2.4 2.4 0 1 0 4.8 0a2.4 2.4 0 1 0 -4.8 0M1052.9 271.6a2.4 2.4 0 1 0 4.8 0a2.4 2.4 0 1 0 -4.8 0M1061.6 349.6a2.4 2.4 0 1 0 4.8 0a2.4 2.4 0 1 0 -4.8 0M1073.8 368.4a2.4 2.4 0 1 0 4.8 0a2.4 2.4 0 1 0 -4.8 0M1083.6 363.6a2.4 2.4 0 1 0 4.8 0a2.4 2.4 0 1 0 -4.8 0M1052.4 281.3a2.4 2.4 0 1 0 4.8 0a2.4 2.4 0 1 0 -4.8 0M1049.3 299.7a2.4 2.4 0 1 0 4.8 0a2.4 2.4 0 1 0 -4.8 0M1053.5 316.9a2.4 2.4 0 1 0 4.8 0a2.4 2.4 0 1 0 -4.8 0M1063.8 361.6a2.4 2.4 0 1 0 4.8 0a2.4 2.4 0 1 0 -4.8 0M1065.5 357.9a2.4 2.4 0 1 0 4.8 0a2.4 2.4 0 1 0 -4.8 0M1076.4 350.1a2.4 2.4 0 1 0 4.8 0a2.4 2.4 0 1 0 -4.8 0M1073.2 369.1a2.4 2.4 0 1 0 4.8 0a2.4 2.4 0 1 0 -4.8 0M1058.9 322.3a2.4 2.4 0 1 0 4.8 0a2.4 2.4 0 1 0 -4.8 0M1052.3 271.5a2.4 2.4 0 1 0 4.8 0a2.4 2.4 0 1 0 -4.8 0M1053.6 266.8a2.4 2.4 0 1 0 4.8 0a2.4 2.4 0 1 0 -4.8 0M1061.4 347.2a2.4 2.4 0 1 0 4.8 0a2.4 2.4 0 1 0 -4.8 0M1060.8 355.0a2.4 2.4 0 1 0 4.8 0a2.4 2.4 0 1 0 -4.8 0M1062.4 337.0a2.4 2.4 0 1 0 4.8 0a2.4 2.4 0 1 0 -4.8 0M1058.1 353.0a2.4 2.4 0 1 0 4.8 0a2.4 2.4 0 1 0 -4.8 0M1053.9 331.8a2.4 2.4 0 1 0 4.8 0a2.4 2.4 0 1 0 -4.8 0M1044.6 278.3a2.4 2.4 0 1 0 4.8 0a2.4 2.4 0 1 0 -4.8 0M1055.6 314.3a2.4 2.4 0 1 0 4.8 0a2.4 2.4 0 1 0 -4.8 0M1045.0 271.7a2.4 2.4 0 1 0 4.8 0a2.4 2.4 0 1 0 -4.8 0M1076.4 367.6a2.4 2.4 0 1 0 4.8 0a2.4 2.4 0 1 0 -4.8 0M1063.4 341.7a2.4 2.4 0 1 0 4.8 0a2.4 2.4 0 1 0 -4.8 0M1068.0 355.6a2.4 2.4 0 1 0 4.8 0a2.4 2.4 0 1 0 -4.8 0M1056.4 328.9a2.4 2.4 0 1 0 4.8 0a2.4 2.4 0 1 0 -4.8 0M1054.9 282.9a2.4 2.4 0 1 0 4.8 0a2.4 2.4 0 1 0 -4.8 0M1060.8 336.6a2.4 2.4 0 1 0 4.8 0a2.4 2.4 0 1 0 -4.8 0M1046.4 280.2a2.4 2.4 0 1 0 4.8 0a2.4 2.4 0 1 0 -4.8 0M1062.1 341.3a2.4 2.4 0 1 0 4.8 0a2.4 2.4 0 1 0 -4.8 0M1065.8 345.5a2.4 2.4 0 1 0 4.8 0a2.4 2.4 0 1 0 -4.8 0M865.2 101.5a2.4 2.4 0 1 0 4.8 0a2.4 2.4 0 1 0 -4.8 0M866.5 140.2a2.4 2.4 0 1 0 4.8 0a2.4 2.4 0 1 0 -4.8 0M854.4 157.3a2.4 2.4 0 1 0 4.8 0a2.4 2.4 0 1 0 -4.8 0M867.4 156.8a2.4 2.4 0 1 0 4.8 0a2.4 2.4 0 1 0 -4.8 0M867.4 165.0a2.4 2.4 0 1 0 4.8 0a2.4 2.4 0 1 0 -4.8 0M1100.3 386.8a2.4 2.4 0 1 0 4.8 0a2.4 2.4 0 1 0 -4.8 0M1095.4 392.6a2.4 2.4 0 1 0 4.8 0a2.4 2.4 0 1 0 -4.8 0M1091.1 388.7a2.4 2.4 0 1 0 4.8 0a2.4 2.4 0 1 0 -4.8 0M1064.3 350.8a2.4 2.4 0 1 0 4.8 0a2.4 2.4 0 1 0 -4.8 0M1070.3 353.5a2.4 2.4 0 1 0 4.8 0a2.4 2.4 0 1 0 -4.8 0M1077.1 379.5a2.4 2.4 0 1 0 4.8 0a2.4 2.4 0 1 0 -4.8 0M1105.1 397.7a2.4 2.4 0 1 0 4.8 0a2.4 2.4 0 1 0 -4.8 0M1106.3 396.8a2.4 2.4 0 1 0 4.8 0a2.4 2.4 0 1 0 -4.8 0M1085.8 382.9a2.4 2.4 0 1 0 4.8 0a2.4 2.4 0 1 0 -4.8 0M1066.7 360.9a2.4 2.4 0 1 0 4.8 0a2.4 2.4 0 1 0 -4.8 0M1085.7 385.9a2.4 2.4 0 1 0 4.8 0a2.4 2.4 0 1 0 -4.8 0M1069.1 351.7a2.4 2.4 0 1 0 4.8 0a2.4 2.4 0 1 0 -4.8 0M1063.5 347.3a2.4 2.4 0 1 0 4.8 0a2.4 2.4 0 1 0 -4.8 0M1079.4 365.7a2.4 2.4 0 1 0 4.8 0a2.4 2.4 0 1 0 -4.8 0M1069.5 360.9a2.4 2.4 0 1 0 4.8 0a2.4 2.4 0 1 0 -4.8 0M1070.2 362.3a2.4 2.4 0 1 0 4.8 0a2.4 2.4 0 1 0 -4.8 0M1072.6 354.7a2.4 2.4 0 1 0 4.8 0a2.4 2.4 0 1 0 -4.8 0M1065.1 360.0a2.4 2.4 0 1 0 4.8 0a2.4 2.4 0 1 0 -4.8 0M1074.9 358.6a2.4 2.4 0 1 0 4.8 0a2.4 2.4 0 1 0 -4.8 0M1076.1 369.5a2.4 2.4 0 1 0 4.8 0a2.4 2.4 0 1 0 -4.8 0M1078.3 361.3a2.4 2.4 0 1 0 4.8 0a2.4 2.4 0 1 0 -4.8 0M1096.4 396.5a2.4 2.4 0 1 0 4.8 0a2.4 2.4 0 1 0 -4.8 0M1108.6 417.6a2.4 2.4 0 1 0 4.8 0a2.4 2.4 0 1 0 -4.8 0M1061.6 352.6a2.4 2.4 0 1 0 4.8 0a2.4 2.4 0 1 0 -4.8 0M1062.0 352.5a2.4 2.4 0 1 0 4.8 0a2.4 2.4 0 1 0 -4.8 0M1073.5 373.3a2.4 2.4 0 1 0 4.8 0a2.4 2.4 0 1 0 -4.8 0M1084.4 372.7a2.4 2.4 0 1 0 4.8 0a2.4 2.4 0 1 0 -4.8 0M1115.4 414.4a2.4 2.4 0 1 0 4.8 0a2.4 2.4 0 1 0 -4.8 0M1106.5 408.7a2.4 2.4 0 1 0 4.8 0a2.4 2.4 0 1 0 -4.8 0M1107.1 416.5a2.4 2.4 0 1 0 4.8 0a2.4 2.4 0 1 0 -4.8 0M1080.3 379.5a2.4 2.4 0 1 0 4.8 0a2.4 2.4 0 1 0 -4.8 0M1104.3 413.7a2.4 2.4 0 1 0 4.8 0a2.4 2.4 0 1 0 -4.8 0M1096.6 402.7a2.4 2.4 0 1 0 4.8 0a2.4 2.4 0 1 0 -4.8 0M1101.7 400.0a2.4 2.4 0 1 0 4.8 0a2.4 2.4 0 1 0 -4.8 0M1098.7 408.3a2.4 2.4 0 1 0 4.8 0a2.4 2.4 0 1 0 -4.8 0M1093.0 386.6a2.4 2.4 0 1 0 4.8 0a2.4 2.4 0 1 0 -4.8 0M1062.2 344.4a2.4 2.4 0 1 0 4.8 0a2.4 2.4 0 1 0 -4.8 0M1096.1 396.1a2.4 2.4 0 1 0 4.8 0a2.4 2.4 0 1 0 -4.8 0M1089.9 382.2a2.4 2.4 0 1 0 4.8 0a2.4 2.4 0 1 0 -4.8 0M1077.3 369.3a2.4 2.4 0 1 0 4.8 0a2.4 2.4 0 1 0 -4.8 0M1101.2 411.2a2.4 2.4 0 1 0 4.8 0a2.4 2.4 0 1 0 -4.8 0M1081.4 385.2a2.4 2.4 0 1 0 4.8 0a2.4 2.4 0 1 0 -4.8 0M1069.7 372.3a2.4 2.4 0 1 0 4.8 0a2.4 2.4 0 1 0 -4.8 0M1070.9 349.1a2.4 2.4 0 1 0 4.8 0a2.4 2.4 0 1 0 -4.8 0M1092.2 394.0a2.4 2.4 0 1 0 4.8 0a2.4 2.4 0 1 0 -4.8 0M1112.0 411.5a2.4 2.4 0 1 0 4.8 0a2.4 2.4 0 1 0 -4.8 0M1083.8 380.7a2.4 2.4 0 1 0 4.8 0a2.4 2.4 0 1 0 -4.8 0M1086.3 388.7a2.4 2.4 0 1 0 4.8 0a2.4 2.4 0 1 0 -4.8 0M1113.6 413.7a2.4 2.4 0 1 0 4.8 0a2.4 2.4 0 1 0 -4.8 0M1105.1 415.0a2.4 2.4 0 1 0 4.8 0a2.4 2.4 0 1 0 -4.8 0M1116.3 415.3a2.4 2.4 0 1 0 4.8 0a2.4 2.4 0 1 0 -4.8 0M1076.1 372.3a2.4 2.4 0 1 0 4.8 0a2.4 2.4 0 1 0 -4.8 0M1104.8 410.8a2.4 2.4 0 1 0 4.8 0a2.4 2.4 0 1 0 -4.8 0M1086.0 388.4a2.4 2.4 0 1 0 4.8 0a2.4 2.4 0 1 0 -4.8 0M1100.5 402.3a2.4 2.4 0 1 0 4.8 0a2.4 2.4 0 1 0 -4.8 0M1102.8 410.2a2.4 2.4 0 1 0 4.8 0a2.4 2.4 0 1 0 -4.8 0M1094.9 402.6a2.4 2.4 0 1 0 4.8 0a2.4 2.4 0 1 0 -4.8 0M1080.8 373.9a2.4 2.4 0 1 0 4.8 0a2.4 2.4 0 1 0 -4.8 0M1102.1 388.2a2.4 2.4 0 1 0 4.8 0a2.4 2.4 0 1 0 -4.8 0M1099.6 403.9a2.4 2.4 0 1 0 4.8 0a2.4 2.4 0 1 0 -4.8 0M1070.8 373.0a2.4 2.4 0 1 0 4.8 0a2.4 2.4 0 1 0 -4.8 0M1089.6 393.0a2.4 2.4 0 1 0 4.8 0a2.4 2.4 0 1 0 -4.8 0M1083.4 372.9a2.4 2.4 0 1 0 4.8 0a2.4 2.4 0 1 0 -4.8 0M1102.4 405.9a2.4 2.4 0 1 0 4.8 0a2.4 2.4 0 1 0 -4.8 0M1076.6 362.0a2.4 2.4 0 1 0 4.8 0a2.4 2.4 0 1 0 -4.8 0M1061.6 351.1a2.4 2.4 0 1 0 4.8 0a2.4 2.4 0 1 0 -4.8 0M1099.2 405.3a2.4 2.4 0 1 0 4.8 0a2.4 2.4 0 1 0 -4.8 0M1063.5 347.9a2.4 2.4 0 1 0 4.8 0a2.4 2.4 0 1 0 -4.8 0M1108.9 414.5a2.4 2.4 0 1 0 4.8 0a2.4 2.4 0 1 0 -4.8 0M1109.6 416.1a2.4 2.4 0 1 0 4.8 0a2.4 2.4 0 1 0 -4.8 0M1066.7 348.5a2.4 2.4 0 1 0 4.8 0a2.4 2.4 0 1 0 -4.8 0M1077.0 365.9a2.4 2.4 0 1 0 4.8 0a2.4 2.4 0 1 0 -4.8 0M1114.0 417.4a2.4 2.4 0 1 0 4.8 0a2.4 2.4 0 1 0 -4.8 0M1111.3 416.8a2.4 2.4 0 1 0 4.8 0a2.4 2.4 0 1 0 -4.8 0M1069.1 359.4a2.4 2.4 0 1 0 4.8 0a2.4 2.4 0 1 0 -4.8 0M1067.4 345.7a2.4 2.4 0 1 0 4.8 0a2.4 2.4 0 1 0 -4.8 0M1072.4 358.2a2.4 2.4 0 1 0 4.8 0a2.4 2.4 0 1 0 -4.8 0M1076.7 359.1a2.4 2.4 0 1 0 4.8 0a2.4 2.4 0 1 0 -4.8 0M1098.9 407.5a2.4 2.4 0 1 0 4.8 0a2.4 2.4 0 1 0 -4.8 0M1098.9 405.4a2.4 2.4 0 1 0 4.8 0a2.4 2.4 0 1 0 -4.8 0M1070.2 363.3a2.4 2.4 0 1 0 4.8 0a2.4 2.4 0 1 0 -4.8 0M1069.6 359.2a2.4 2.4 0 1 0 4.8 0a2.4 2.4 0 1 0 -4.8 0M1113.4 413.8a2.4 2.4 0 1 0 4.8 0a2.4 2.4 0 1 0 -4.8 0M1106.4 397.4a2.4 2.4 0 1 0 4.8 0a2.4 2.4 0 1 0 -4.8 0M1115.6 416.3a2.4 2.4 0 1 0 4.8 0a2.4 2.4 0 1 0 -4.8 0M1080.3 367.9a2.4 2.4 0 1 0 4.8 0a2.4 2.4 0 1 0 -4.8 0M1094.5 396.9a2.4 2.4 0 1 0 4.8 0a2.4 2.4 0 1 0 -4.8 0M1076.7 369.8a2.4 2.4 0 1 0 4.8 0a2.4 2.4 0 1 0 -4.8 0M1113.3 413.7a2.4 2.4 0 1 0 4.8 0a2.4 2.4 0 1 0 -4.8 0M1068.7 368.2a2.4 2.4 0 1 0 4.8 0a2.4 2.4 0 1 0 -4.8 0M1079.3 363.8a2.4 2.4 0 1 0 4.8 0a2.4 2.4 0 1 0 -4.8 0M1093.7 381.3a2.4 2.4 0 1 0 4.8 0a2.4 2.4 0 1 0 -4.8 0M1076.1 364.7a2.4 2.4 0 1 0 4.8 0a2.4 2.4 0 1 0 -4.8 0M1069.6 372.5a2.4 2.4 0 1 0 4.8 0a2.4 2.4 0 1 0 -4.8 0M1096.1 397.7a2.4 2.4 0 1 0 4.8 0a2.4 2.4 0 1 0 -4.8 0M1074.8 369.9a2.4 2.4 0 1 0 4.8 0a2.4 2.4 0 1 0 -4.8 0M1103.4 406.0a2.4 2.4 0 1 0 4.8 0a2.4 2.4 0 1 0 -4.8 0M1099.9 394.4a2.4 2.4 0 1 0 4.8 0a2.4 2.4 0 1 0 -4.8 0M1082.6 376.4a2.4 2.4 0 1 0 4.8 0a2.4 2.4 0 1 0 -4.8 0M1112.7 421.6a2.4 2.4 0 1 0 4.8 0a2.4 2.4 0 1 0 -4.8 0M1098.2 404.0a2.4 2.4 0 1 0 4.8 0a2.4 2.4 0 1 0 -4.8 0M1096.2 402.1a2.4 2.4 0 1 0 4.8 0a2.4 2.4 0 1 0 -4.8 0M1071.1 361.9a2.4 2.4 0 1 0 4.8 0a2.4 2.4 0 1 0 -4.8 0M1099.7 392.9a2.4 2.4 0 1 0 4.8 0a2.4 2.4 0 1 0 -4.8 0M1073.6 374.0a2.4 2.4 0 1 0 4.8 0a2.4 2.4 0 1 0 -4.8 0M1062.1 341.8a2.4 2.4 0 1 0 4.8 0a2.4 2.4 0 1 0 -4.8 0M1083.5 374.7a2.4 2.4 0 1 0 4.8 0a2.4 2.4 0 1 0 -4.8 0M1070.1 348.8a2.4 2.4 0 1 0 4.8 0a2.4 2.4 0 1 0 -4.8 0M1086.7 385.1a2.4 2.4 0 1 0 4.8 0a2.4 2.4 0 1 0 -4.8 0M1077.7 362.1a2.4 2.4 0 1 0 4.8 0a2.4 2.4 0 1 0 -4.8 0M1131.6 419.9a2.4 2.4 0 1 0 4.8 0a2.4 2.4 0 1 0 -4.8 0M1155.7 444.2a2.4 2.4 0 1 0 4.8 0a2.4 2.4 0 1 0 -4.8 0M1162.7 458.4a2.4 2.4 0 1 0 4.8 0a2.4 2.4 0 1 0 -4.8 0M1122.6 425.0a2.4 2.4 0 1 0 4.8 0a2.4 2.4 0 1 0 -4.8 0M1163.6 455.7a2.4 2.4 0 1 0 4.8 0a2.4 2.4 0 1 0 -4.8 0M1143.7 432.3a2.4 2.4 0 1 0 4.8 0a2.4 2.4 0 1 0 -4.8 0M1160.4 449.6a2.4 2.4 0 1 0 4.8 0a2.4 2.4 0 1 0 -4.8 0M1138.8 438.6a2.4 2.4 0 1 0 4.8 0a2.4 2.4 0 1 0 -4.8 0M1165.1 458.5a2.4 2.4 0 1 0 4.8 0a2.4 2.4 0 1 0 -4.8 0M1147.7 448.2a2.4 2.4 0 1 0 4.8 0a2.4 2.4 0 1 0 -4.8 0M1173.9 465.4a2.4 2.4 0 1 0 4.8 0a2.4 2.4 0 1 0 -4.8 0M1150.7 442.4a2.4 2.4 0 1 0 4.8 0a2.4 2.4 0 1 0 -4.8 0M1140.0 435.1a2.4 2.4 0 1 0 4.8 0a2.4 2.4 0 1 0 -4.8 0M1175.3 458.3a2.4 2.4 0 1 0 4.8 0a2.4 2.4 0 1 0 -4.8 0M1145.4 447.3a2.4 2.4 0 1 0 4.8 0a2.4 2.4 0 1 0 -4.8 0M1128.0 421.7a2.4 2.4 0 1 0 4.8 0a2.4 2.4 0 1 0 -4.8 0M1124.2 423.2a2.4 2.4 0 1 0 4.8 0a2.4 2.4 0 1 0 -4.8 0M1122.7 421.9a2.4 2.4 0 1 0 4.8 0a2.4 2.4 0 1 0 -4.8 0M1136.1 422.3a2.4 2.4 0 1 0 4.8 0a2.4 2.4 0 1 0 -4.8 0M1137.6 424.1a2.4 2.4 0 1 0 4.8 0a2.4 2.4 0 1 0 -4.8 0M1147.3 437.4a2.4 2.4 0 1 0 4.8 0a2.4 2.4 0 1 0 -4.8 0M1127.5 424.5a2.4 2.4 0 1 0 4.8 0a2.4 2.4 0 1 0 -4.8 0M1147.7 448.9a2.4 2.4 0 1 0 4.8 0a2.4 2.4 0 1 0 -4.8 0M1172.8 457.0a2.4 2.4 0 1 0 4.8 0a2.4 2.4 0 1 0 -4.8 0M1171.8 456.3a2.4 2.4 0 1 0 4.8 0a2.4 2.4 0 1 0 -4.8 0M1164.0 450.1a2.4 2.4 0 1 0 4.8 0a2.4 2.4 0 1 0 -4.8 0M1164.3 452.6a2.4 2.4 0 1 0 4.8 0a2.4 2.4 0 1 0 -4.8 0M1131.6 428.8a2.4 2.4 0 1 0 4.8 0a2.4 2.4 0 1 0 -4.8 0M1122.1 411.6a2.4 2.4 0 1 0 4.8 0a2.4 2.4 0 1 0 -4.8 0M1169.6 463.9a2.4 2.4 0 1 0 4.8 0a2.4 2.4 0 1 0 -4.8 0M1136.5 433.8a2.4 2.4 0 1 0 4.8 0a2.4 2.4 0 1 0 -4.8 0M1163.4 449.8a2.4 2.4 0 1 0 4.8 0a2.4 2.4 0 1 0 -4.8 0M1171.7 459.7a2.4 2.4 0 1 0 4.8 0a2.4 2.4 0 1 0 -4.8 0M1174.9 457.4a2.4 2.4 0 1 0 4.8 0a2.4 2.4 0 1 0 -4.8 0M1150.7 458.8a2.4 2.4 0 1 0 4.8 0a2.4 2.4 0 1 0 -4.8 0M1127.9 417.9a2.4 2.4 0 1 0 4.8 0a2.4 2.4 0 1 0 -4.8 0M1159.8 450.1a2.4 2.4 0 1 0 4.8 0a2.4 2.4 0 1 0 -4.8 0M1159.5 455.1a2.4 2.4 0 1 0 4.8 0a2.4 2.4 0 1 0 -4.8 0M1149.6 454.4a2.4 2.4 0 1 0 4.8 0a2.4 2.4 0 1 0 -4.8 0M1129.4 416.2a2.4 2.4 0 1 0 4.8 0a2.4 2.4 0 1 0 -4.8 0M1133.4 432.3a2.4 2.4 0 1 0 4.8 0a2.4 2.4 0 1 0 -4.8 0M1140.0 428.6a2.4 2.4 0 1 0 4.8 0a2.4 2.4 0 1 0 -4.8 0M1148.5 443.7a2.4 2.4 0 1 0 4.8 0a2.4 2.4 0 1 0 -4.8 0M1137.8 423.1a2.4 2.4 0 1 0 4.8 0a2.4 2.4 0 1 0 -4.8 0M1150.8 442.1a2.4 2.4 0 1 0 4.8 0a2.4 2.4 0 1 0 -4.8 0M1161.3 460.5a2.4 2.4 0 1 0 4.8 0a2.4 2.4 0 1 0 -4.8 0M1160.2 457.4a2.4 2.4 0 1 0 4.8 0a2.4 2.4 0 1 0 -4.8 0M1138.8 423.8a2.4 2.4 0 1 0 4.8 0a2.4 2.4 0 1 0 -4.8 0M1149.0 446.5a2.4 2.4 0 1 0 4.8 0a2.4 2.4 0 1 0 -4.8 0M1132.5 422.7a2.4 2.4 0 1 0 4.8 0a2.4 2.4 0 1 0 -4.8 0M1156.3 458.1a2.4 2.4 0 1 0 4.8 0a2.4 2.4 0 1 0 -4.8 0M1142.6 443.4a2.4 2.4 0 1 0 4.8 0a2.4 2.4 0 1 0 -4.8 0M1121.6 414.0a2.4 2.4 0 1 0 4.8 0a2.4 2.4 0 1 0 -4.8 0M1141.0 426.9a2.4 2.4 0 1 0 4.8 0a2.4 2.4 0 1 0 -4.8 0M1156.1 450.1a2.4 2.4 0 1 0 4.8 0a2.4 2.4 0 1 0 -4.8 0M1170.9 462.9a2.4 2.4 0 1 0 4.8 0a2.4 2.4 0 1 0 -4.8 0M1145.5 441.5a2.4 2.4 0 1 0 4.8 0a2.4 2.4 0 1 0 -4.8 0M1130.8 426.9a2.4 2.4 0 1 0 4.8 0a2.4 2.4 0 1 0 -4.8 0M1143.8 447.6a2.4 2.4 0 1 0 4.8 0a2.4 2.4 0 1 0 -4.8 0M1157.8 460.0a2.4 2.4 0 1 0 4.8 0a2.4 2.4 0 1 0 -4.8 0M1148.6 456.0a2.4 2.4 0 1 0 4.8 0a2.4 2.4 0 1 0 -4.8 0M1134.4 426.3a2.4 2.4 0 1 0 4.8 0a2.4 2.4 0 1 0 -4.8 0M1156.7 448.3a2.4 2.4 0 1 0 4.8 0a2.4 2.4 0 1 0 -4.8 0M1148.5 455.6a2.4 2.4 0 1 0 4.8 0a2.4 2.4 0 1 0 -4.8 0M1125.5 413.8a2.4 2.4 0 1 0 4.8 0a2.4 2.4 0 1 0 -4.8 0M1154.2 458.1a2.4 2.4 0 1 0 4.8 0a2.4 2.4 0 1 0 -4.8 0M1140.9 438.2a2.4 2.4 0 1 0 4.8 0a2.4 2.4 0 1 0 -4.8 0M1148.4 453.9a2.4 2.4 0 1 0 4.8 0a2.4 2.4 0 1 0 -4.8 0M1165.2 459.8a2.4 2.4 0 1 0 4.8 0a2.4 2.4 0 1 0 -4.8 0M1151.2 455.6a2.4 2.4 0 1 0 4.8 0a2.4 2.4 0 1 0 -4.8 0M1157.6 456.4a2.4 2.4 0 1 0 4.8 0a2.4 2.4 0 1 0 -4.8 0M1153.8 451.9a2.4 2.4 0 1 0 4.8 0a2.4 2.4 0 1 0 -4.8 0M1150.0 446.3a2.4 2.4 0 1 0 4.8 0a2.4 2.4 0 1 0 -4.8 0M1154.7 447.8a2.4 2.4 0 1 0 4.8 0a2.4 2.4 0 1 0 -4.8 0M1123.4 415.4a2.4 2.4 0 1 0 4.8 0a2.4 2.4 0 1 0 -4.8 0M1143.6 448.3a2.4 2.4 0 1 0 4.8 0a2.4 2.4 0 1 0 -4.8 0M1142.4 430.2a2.4 2.4 0 1 0 4.8 0a2.4 2.4 0 1 0 -4.8 0M1156.5 454.2a2.4 2.4 0 1 0 4.8 0a2.4 2.4 0 1 0 -4.8 0M1127.6 416.5a2.4 2.4 0 1 0 4.8 0a2.4 2.4 0 1 0 -4.8 0M1130.3 430.8a2.4 2.4 0 1 0 4.8 0a2.4 2.4 0 1 0 -4.8 0M1161.5 450.2a2.4 2.4 0 1 0 4.8 0a2.4 2.4 0 1 0 -4.8 0M1122.9 413.0a2.4 2.4 0 1 0 4.8 0a2.4 2.4 0 1 0 -4.8 0M1143.6 451.4a2.4 2.4 0 1 0 4.8 0a2.4 2.4 0 1 0 -4.8 0M1154.1 446.2a2.4 2.4 0 1 0 4.8 0a2.4 2.4 0 1 0 -4.8 0M1161.1 454.1a2.4 2.4 0 1 0 4.8 0a2.4 2.4 0 1 0 -4.8 0M1169.2 457.0a2.4 2.4 0 1 0 4.8 0a2.4 2.4 0 1 0 -4.8 0M1157.6 456.6a2.4 2.4 0 1 0 4.8 0a2.4 2.4 0 1 0 -4.8 0M1164.4 449.3a2.4 2.4 0 1 0 4.8 0a2.4 2.4 0 1 0 -4.8 0M1161.7 457.2a2.4 2.4 0 1 0 4.8 0a2.4 2.4 0 1 0 -4.8 0M1132.9 421.5a2.4 2.4 0 1 0 4.8 0a2.4 2.4 0 1 0 -4.8 0M1150.2 454.9a2.4 2.4 0 1 0 4.8 0a2.4 2.4 0 1 0 -4.8 0M1159.0 451.7a2.4 2.4 0 1 0 4.8 0a2.4 2.4 0 1 0 -4.8 0M1130.0 421.7a2.4 2.4 0 1 0 4.8 0a2.4 2.4 0 1 0 -4.8 0M1125.5 419.8a2.4 2.4 0 1 0 4.8 0a2.4 2.4 0 1 0 -4.8 0M1142.5 436.4a2.4 2.4 0 1 0 4.8 0a2.4 2.4 0 1 0 -4.8 0M1170.1 463.6a2.4 2.4 0 1 0 4.8 0a2.4 2.4 0 1 0 -4.8 0M1121.7 416.5a2.4 2.4 0 1 0 4.8 0a2.4 2.4 0 1 0 -4.8 0M1145.4 446.8a2.4 2.4 0 1 0 4.8 0a2.4 2.4 0 1 0 -4.8 0M1122.7 424.9a2.4 2.4 0 1 0 4.8 0a2.4 2.4 0 1 0 -4.8 0M1171.5 456.4a2.4 2.4 0 1 0 4.8 0a2.4 2.4 0 1 0 -4.8 0M1137.7 426.2a2.4 2.4 0 1 0 4.8 0a2.4 2.4 0 1 0 -4.8 0M1153.7 458.2a2.4 2.4 0 1 0 4.8 0a2.4 2.4 0 1 0 -4.8 0M1139.8 439.1a2.4 2.4 0 1 0 4.8 0a2.4 2.4 0 1 0 -4.8 0M1161.2 454.8a2.4 2.4 0 1 0 4.8 0a2.4 2.4 0 1 0 -4.8 0M1158.0 450.6a2.4 2.4 0 1 0 4.8 0a2.4 2.4 0 1 0 -4.8 0M1140.1 427.7a2.4 2.4 0 1 0 4.8 0a2.4 2.4 0 1 0 -4.8 0M1141.8 434.8a2.4 2.4 0 1 0 4.8 0a2.4 2.4 0 1 0 -4.8 0M1155.3 449.0a2.4 2.4 0 1 0 4.8 0a2.4 2.4 0 1 0 -4.8 0M1143.4 442.5a2.4 2.4 0 1 0 4.8 0a2.4 2.4 0 1 0 -4.8 0M1126.6 418.6a2.4 2.4 0 1 0 4.8 0a2.4 2.4 0 1 0 -4.8 0M1081.8 344.2a2.4 2.4 0 1 0 4.8 0a2.4 2.4 0 1 0 -4.8 0M1104.0 395.4a2.4 2.4 0 1 0 4.8 0a2.4 2.4 0 1 0 -4.8 0M1138.5 395.4a2.4 2.4 0 1 0 4.8 0a2.4 2.4 0 1 0 -4.8 0M1141.3 405.1a2.4 2.4 0 1 0 4.8 0a2.4 2.4 0 1 0 -4.8 0M1156.5 428.6a2.4 2.4 0 1 0 4.8 0a2.4 2.4 0 1 0 -4.8 0M1149.6 439.6a2.4 2.4 0 1 0 4.8 0a2.4 2.4 0 1 0 -4.8 0M1167.6 446.5a2.4 2.4 0 1 0 4.8 0a2.4 2.4 0 1 0 -4.8 0M1231.1 402.3a2.4 2.4 0 1 0 4.8 0a2.4 2.4 0 1 0 -4.8 0M1233.4 421.7a2.4 2.4 0 1 0 4.8 0a2.4 2.4 0 1 0 -4.8 0M1100.6 429.4a2.4 2.4 0 1 0 4.8 0a2.4 2.4 0 1 0 -4.8 0M1115.8 429.4a2.4 2.4 0 1 0 4.8 0a2.4 2.4 0 1 0 -4.8 0M1084.1 436.3a2.4 2.4 0 1 0 4.8 0a2.4 2.4 0 1 0 -4.8 0M1069.4 378.8a2.4 2.4 0 1 0 4.8 0a2.4 2.4 0 1 0 -4.8 0M560.0 271.3a2.4 2.4 0 1 0 4.8 0a2.4 2.4 0 1 0 -4.8 0M564.9 292.4a2.4 2.4 0 1 0 4.8 0a2.4 2.4 0 1 0 -4.8 0M560.9 275.9a2.4 2.4 0 1 0 4.8 0a2.4 2.4 0 1 0 -4.8 0M554.3 267.9a2.4 2.4 0 1 0 4.8 0a2.4 2.4 0 1 0 -4.8 0M550.6 278.8a2.4 2.4 0 1 0 4.8 0a2.4 2.4 0 1 0 -4.8 0M565.2 271.6a2.4 2.4 0 1 0 4.8 0a2.4 2.4 0 1 0 -4.8 0M545.9 260.2a2.4 2.4 0 1 0 4.8 0a2.4 2.4 0 1 0 -4.8 0M561.8 270.5a2.4 2.4 0 1 0 4.8 0a2.4 2.4 0 1 0 -4.8 0M545.0 259.7a2.4 2.4 0 1 0 4.8 0a2.4 2.4 0 1 0 -4.8 0M557.1 263.3a2.4 2.4 0 1 0 4.8 0a2.4 2.4 0 1 0 -4.8 0M549.0 266.4a2.4 2.4 0 1 0 4.8 0a2.4 2.4 0 1 0 -4.8 0M551.9 271.0a2.4 2.4 0 1 0 4.8 0a2.4 2.4 0 1 0 -4.8 0M556.8 270.0a2.4 2.4 0 1 0 4.8 0a2.4 2.4 0 1 0 -4.8 0M552.2 285.2a2.4 2.4 0 1 0 4.8 0a2.4 2.4 0 1 0 -4.8 0M545.9 247.8a2.4 2.4 0 1 0 4.8 0a2.4 2.4 0 1 0 -4.8 0M558.2 267.6a2.4 2.4 0 1 0 4.8 0a2.4 2.4 0 1 0 -4.8 0M551.1 262.1a2.4 2.4 0 1 0 4.8 0a2.4 2.4 0 1 0 -4.8 0M554.6 291.8a2.4 2.4 0 1 0 4.8 0a2.4 2.4 0 1 0 -4.8 0M566.1 289.6a2.4 2.4 0 1 0 4.8 0a2.4 2.4 0 1 0 -4.8 0M553.1 289.5a2.4 2.4 0 1 0 4.8 0a2.4 2.4 0 1 0 -4.8 0M550.3 259.9a2.4 2.4 0 1 0 4.8 0a2.4 2.4 0 1 0 -4.8 0M550.8 253.9a2.4 2.4 0 1 0 4.8 0a2.4 2.4 0 1 0 -4.8 0M554.9 262.8a2.4 2.4 0 1 0 4.8 0a2.4 2.4 0 1 0 -4.8 0M564.8 279.4a2.4 2.4 0 1 0 4.8 0a2.4 2.4 0 1 0 -4.8 0M547.3 254.2a2.4 2.4 0 1 0 4.8 0a2.4 2.4 0 1 0 -4.8 0M550.9 257.9a2.4 2.4 0 1 0 4.8 0a2.4 2.4 0 1 0 -4.8 0M563.0 281.5a2.4 2.4 0 1 0 4.8 0a2.4 2.4 0 1 0 -4.8 0M558.9 288.0a2.4 2.4 0 1 0 4.8 0a2.4 2.4 0 1 0 -4.8 0M560.6 270.7a2.4 2.4 0 1 0 4.8 0a2.4 2.4 0 1 0 -4.8 0M555.6 268.8a2.4 2.4 0 1 0 4.8 0a2.4 2.4 0 1 0 -4.8 0M546.5 266.5a2.4 2.4 0 1 0 4.8 0a2.4 2.4 0 1 0 -4.8 0M561.7 272.6a2.4 2.4 0 1 0 4.8 0a2.4 2.4 0 1 0 -4.8 0M552.1 294.0a2.4 2.4 0 1 0 4.8 0a2.4 2.4 0 1 0 -4.8 0M545.6 260.5a2.4 2.4 0 1 0 4.8 0a2.4 2.4 0 1 0 -4.8 0M558.7 284.6a2.4 2.4 0 1 0 4.8 0a2.4 2.4 0 1 0 -4.8 0M541.3 228.2a2.4 2.4 0 1 0 4.8 0a2.4 2.4 0 1 0 -4.8 0M538.9 213.0a2.4 2.4 0 1 0 4.8 0a2.4 2.4 0 1 0 -4.8 0M543.3 205.0a2.4 2.4 0 1 0 4.8 0a2.4 2.4 0 1 0 -4.8 0M541.9 232.8a2.4 2.4 0 1 0 4.8 0a2.4 2.4 0 1 0 -4.8 0M542.2 212.7a2.4 2.4 0 1 0 4.8 0a2.4 2.4 0 1 0 -4.8 0M539.1 212.6a2.4 2.4 0 1 0 4.8 0a2.4 2.4 0 1 0 -4.8 0M544.4 229.5a2.4 2.4 0 1 0 4.8 0a2.4 2.4 0 1 0 -4.8 0M539.8 225.4a2.4 2.4 0 1 0 4.8 0a2.4 2.4 0 1 0 -4.8 0M539.6 213.6a2.4 2.4 0 1 0 4.8 0a2.4 2.4 0 1 0 -4.8 0M541.9 220.1a2.4 2.4 0 1 0 4.8 0a2.4 2.4 0 1 0 -4.8 0M539.9 215.1a2.4 2.4 0 1 0 4.8 0a2.4 2.4 0 1 0 -4.8 0M544.9 209.4a2.4 2.4 0 1 0 4.8 0a2.4 2.4 0 1 0 -4.8 0M542.0 202.1a2.4 2.4 0 1 0 4.8 0a2.4 2.4 0 1 0 -4.8 0M542.4 196.8a2.4 2.4 0 1 0 4.8 0a2.4 2.4 0 1 0 -4.8 0M538.3 198.2a2.4 2.4 0 1 0 4.8 0a2.4 2.4 0 1 0 -4.8 0M539.4 220.6a2.4 2.4 0 1 0 4.8 0a2.4 2.4 0 1 0 -4.8 0M539.1 197.7a2.4 2.4 0 1 0 4.8 0a2.4 2.4 0 1 0 -4.8 0M540.2 211.7a2.4 2.4 0 1 0 4.8 0a2.4 2.4 0 1 0 -4.8 0M538.1 207.8a2.4 2.4 0 1 0 4.8 0a2.4 2.4 0 1 0 -4.8 0M535.9 202.1a2.4 2.4 0 1 0 4.8 0a2.4 2.4 0 1 0 -4.8 0M536.0 205.8a2.4 2.4 0 1 0 4.8 0a2.4 2.4 0 1 0 -4.8 0M544.0 214.8a2.4 2.4 0 1 0 4.8 0a2.4 2.4 0 1 0 -4.8 0M539.5 196.6a2.4 2.4 0 1 0 4.8 0a2.4 2.4 0 1 0 -4.8 0M539.4 205.8a2.4 2.4 0 1 0 4.8 0a2.4 2.4 0 1 0 -4.8 0M541.9 233.1a2.4 2.4 0 1 0 4.8 0a2.4 2.4 0 1 0 -4.8 0" fill="#000"/>
</svg>
</body></html>
